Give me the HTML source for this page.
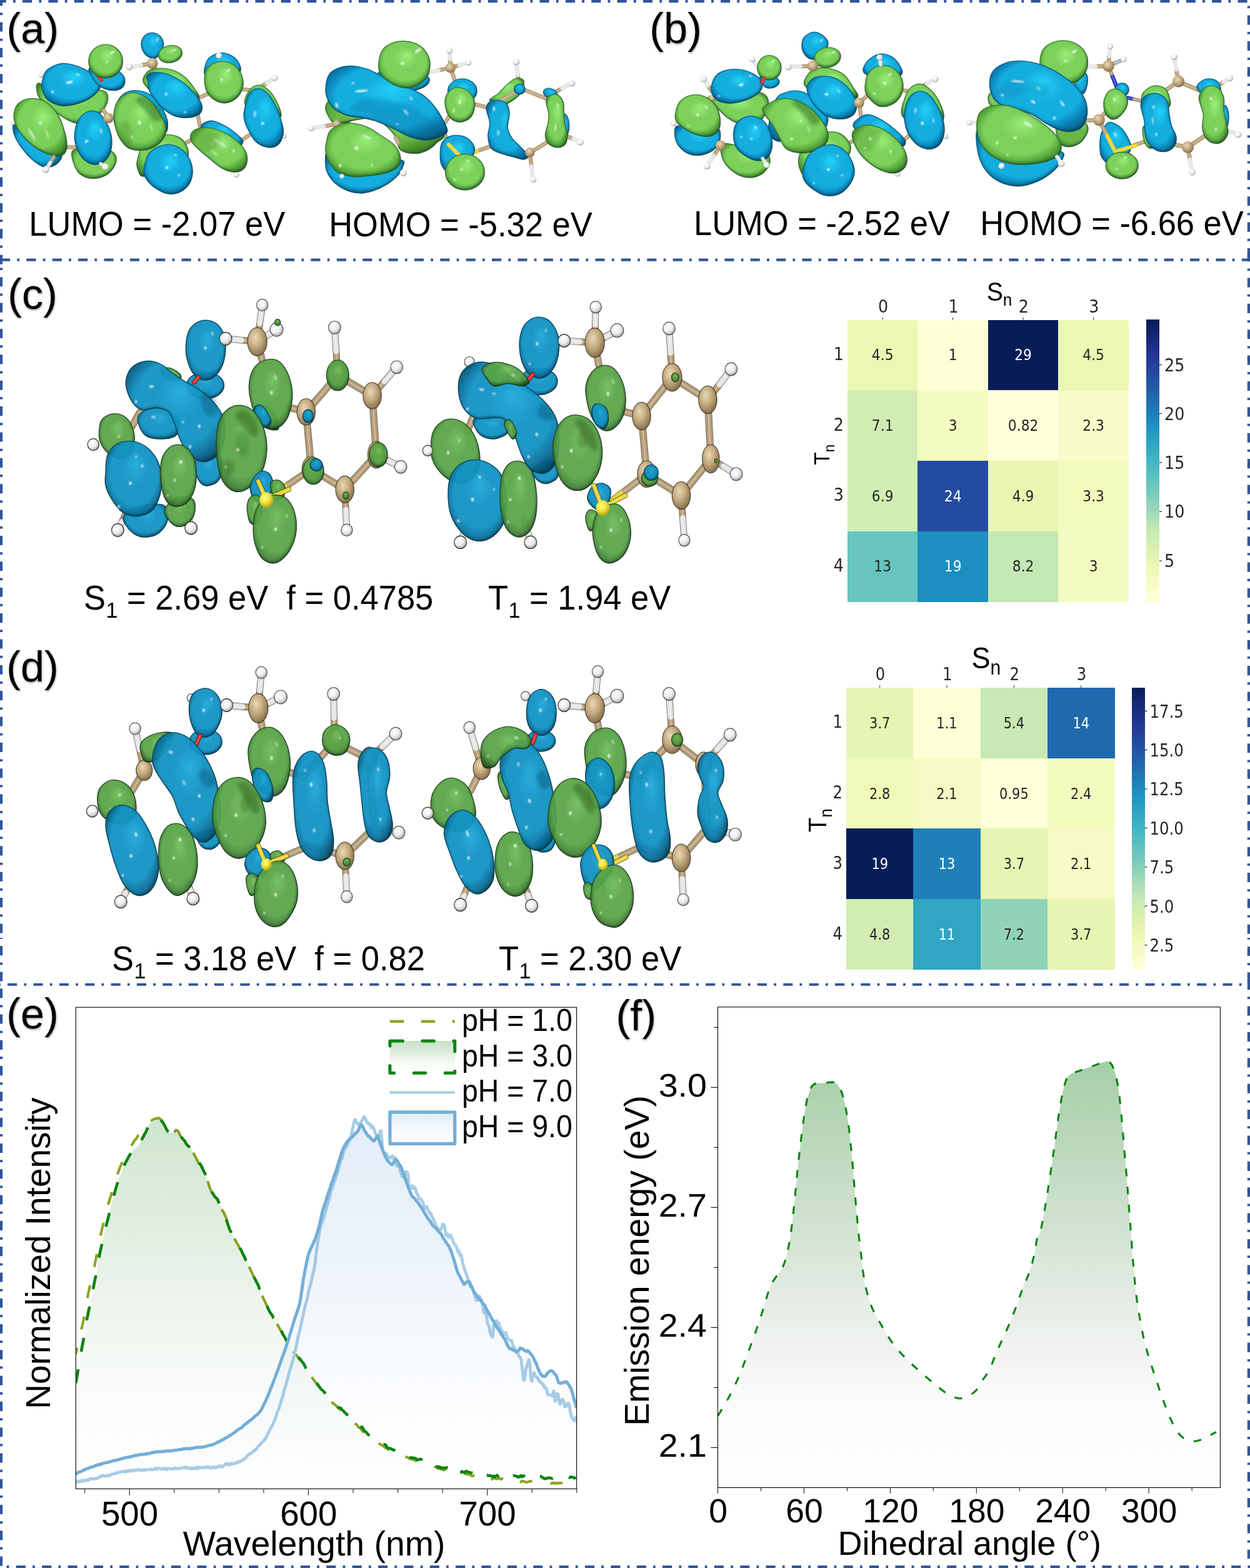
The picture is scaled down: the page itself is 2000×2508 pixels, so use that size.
<!DOCTYPE html>
<html lang="en"><head><meta charset="utf-8"><title>Figure</title>
<style>
html,body{margin:0;padding:0;background:#fff;}
body{width:2000px;height:2508px;overflow:hidden;font-family:"Liberation Sans",sans-serif;}
svg{display:block;}
text{white-space:pre;}
</style></head><body>
<svg width="2000" height="2508" viewBox="0 0 2000 2508">
<defs>
<radialGradient id="rgB" cx="0.5" cy="0.47" r="0.62" fx="0.55" fy="0.3"><stop offset="0" stop-color="#22d0f8"/><stop offset="0.38" stop-color="#14addf"/><stop offset="0.68" stop-color="#14addf"/><stop offset="0.84" stop-color="#0b84b8"/><stop offset="1" stop-color="#076590"/></radialGradient>
<radialGradient id="rgG" cx="0.5" cy="0.47" r="0.62" fx="0.55" fy="0.3"><stop offset="0" stop-color="#98ee7a"/><stop offset="0.38" stop-color="#7bd159"/><stop offset="0.68" stop-color="#7bd159"/><stop offset="0.84" stop-color="#56a83c"/><stop offset="1" stop-color="#3f822c"/></radialGradient>
<radialGradient id="rgb" cx="0.5" cy="0.47" r="0.62" fx="0.55" fy="0.3"><stop offset="0" stop-color="#1eaee0"/><stop offset="0.38" stop-color="#1297c9"/><stop offset="0.68" stop-color="#1297c9"/><stop offset="0.84" stop-color="#0b74a0"/><stop offset="1" stop-color="#064a66"/></radialGradient>
<radialGradient id="rgg" cx="0.5" cy="0.47" r="0.62" fx="0.55" fy="0.3"><stop offset="0" stop-color="#72c25a"/><stop offset="0.38" stop-color="#5aa847"/><stop offset="0.68" stop-color="#5aa847"/><stop offset="0.84" stop-color="#448435"/><stop offset="1" stop-color="#264e1c"/></radialGradient>
<radialGradient id="aC" cx="0.4" cy="0.35" r="0.7"><stop offset="0" stop-color="#e9d9b8"/><stop offset="0.5" stop-color="#c2a77c"/><stop offset="1" stop-color="#7d6846"/></radialGradient>
<radialGradient id="aH" cx="0.4" cy="0.35" r="0.7"><stop offset="0" stop-color="#ffffff"/><stop offset="0.55" stop-color="#ececec"/><stop offset="1" stop-color="#9a9a9a"/></radialGradient>
<radialGradient id="aS" cx="0.4" cy="0.35" r="0.7"><stop offset="0" stop-color="#ffff8a"/><stop offset="0.5" stop-color="#f0e23a"/><stop offset="1" stop-color="#a79a14"/></radialGradient>
<filter id="rim" x="-15%" y="-15%" width="130%" height="130%" color-interpolation-filters="sRGB"><feComponentTransfer in="SourceAlpha"><feFuncA type="table" tableValues="1 0"/></feComponentTransfer><feGaussianBlur stdDeviation="2.6"/><feOffset dx="-1.2" dy="-2.2" result="ob"/><feFlood flood-color="#001018" flood-opacity="0.55"/><feComposite in2="ob" operator="in"/><feComposite in2="SourceAlpha" operator="in" result="sh"/><feMerge><feMergeNode in="SourceGraphic"/><feMergeNode in="sh"/></feMerge></filter>
<filter id="hlb" x="-50%" y="-50%" width="200%" height="200%"><feGaussianBlur stdDeviation="1.1"/></filter>
<filter id="shb" x="-50%" y="-50%" width="200%" height="200%"><feGaussianBlur stdDeviation="2.5"/></filter>
<linearGradient id="cb1" gradientUnits="userSpaceOnUse" x1="0" y1="511.6" x2="0" y2="962.3"><stop offset="0.000" stop-color="rgb(8, 29, 88)"/><stop offset="0.125" stop-color="rgb(37, 52, 148)"/><stop offset="0.250" stop-color="rgb(34, 94, 168)"/><stop offset="0.375" stop-color="rgb(29, 145, 192)"/><stop offset="0.500" stop-color="rgb(65, 182, 196)"/><stop offset="0.625" stop-color="rgb(127, 205, 187)"/><stop offset="0.750" stop-color="rgb(199, 233, 180)"/><stop offset="0.875" stop-color="rgb(237, 248, 177)"/><stop offset="1.000" stop-color="rgb(255, 255, 217)"/></linearGradient>
<linearGradient id="cb2" gradientUnits="userSpaceOnUse" x1="0" y1="1099.9" x2="0" y2="1551.0"><stop offset="0.000" stop-color="rgb(8, 29, 88)"/><stop offset="0.125" stop-color="rgb(37, 52, 148)"/><stop offset="0.250" stop-color="rgb(34, 94, 168)"/><stop offset="0.375" stop-color="rgb(29, 145, 192)"/><stop offset="0.500" stop-color="rgb(65, 182, 196)"/><stop offset="0.625" stop-color="rgb(127, 205, 187)"/><stop offset="0.750" stop-color="rgb(199, 233, 180)"/><stop offset="0.875" stop-color="rgb(237, 248, 177)"/><stop offset="1.000" stop-color="rgb(255, 255, 217)"/></linearGradient>
<linearGradient id="gfe" gradientUnits="userSpaceOnUse" x1="0" y1="1789" x2="0" y2="2381.4"><stop offset="0" stop-color="#0a7d0a" stop-opacity="0.20"/><stop offset="0.36" stop-color="#1b7a1b" stop-opacity="0.115"/><stop offset="0.7" stop-color="#2a7a2a" stop-opacity="0.035"/><stop offset="1" stop-color="#2a7a2a" stop-opacity="0.0"/></linearGradient>
<linearGradient id="gbe" gradientUnits="userSpaceOnUse" x1="0" y1="1789" x2="0" y2="2381.4"><stop offset="0" stop-color="#5f9fd6" stop-opacity="0.19"/><stop offset="0.4" stop-color="#6fa4dc" stop-opacity="0.12"/><stop offset="0.75" stop-color="#7fa8de" stop-opacity="0.04"/><stop offset="1" stop-color="#7fa8de" stop-opacity="0.0"/></linearGradient>
<clipPath id="clipe"><rect x="121.3" y="1611.2" width="801.3000000000001" height="770.2"/></clipPath>
<linearGradient id="lg3" x1="0" y1="0" x2="0" y2="1"><stop offset="0" stop-color="#0a7d0a" stop-opacity="0.24"/><stop offset="0.75" stop-color="#0a7d0a" stop-opacity="0.02"/><stop offset="1" stop-color="#0a7d0a" stop-opacity="0"/></linearGradient>
<linearGradient id="lg9" x1="0" y1="0" x2="0" y2="1"><stop offset="0" stop-color="#5f9fd6" stop-opacity="0.2"/><stop offset="0.75" stop-color="#5f9fd6" stop-opacity="0.02"/><stop offset="1" stop-color="#5f9fd6" stop-opacity="0"/></linearGradient>
<linearGradient id="gff" gradientUnits="userSpaceOnUse" x1="0" y1="1697" x2="0" y2="2379.4"><stop offset="0" stop-color="#0a7d0a" stop-opacity="0.37"/><stop offset="0.44" stop-color="#1d6f1d" stop-opacity="0.18"/><stop offset="0.79" stop-color="#555" stop-opacity="0.028"/><stop offset="1" stop-color="#777" stop-opacity="0.01"/></linearGradient>
<filter id="tsh" x="-20%" y="-20%" width="140%" height="150%"><feDropShadow dx="0.6" dy="1.6" stdDeviation="1.5" flood-color="#000" flood-opacity="0.4"/></filter>
</defs>
<rect width="2000" height="2508" fill="#fff"/>
<path d="M86.6 250.6L79.7 260.8" stroke="#b39a72" stroke-width="6.6" stroke-linecap="round"/>
<path d="M79.7 260.8L72.9 271.1" stroke="#e4e4e4" stroke-width="6.6" stroke-linecap="round"/>
<path d="M86.6 250.6L72.9 271.1" stroke="#fff" stroke-opacity="0.3" stroke-width="2.0" stroke-linecap="round"/>
<ellipse cx="72.9" cy="271.1" rx="5.5" ry="5.5" fill="url(#aH)"/>
<ellipse cx="20.9" cy="196.4" rx="4.1" ry="4.1" fill="url(#aH)"/>
<ellipse cx="66.1" cy="119.8" rx="4.4" ry="4.4" fill="url(#aH)"/>
<path d="M243.8 101.5L225.3 104.3" stroke="#b39a72" stroke-width="6.6" stroke-linecap="round"/>
<path d="M225.3 104.3L206.9 107.0" stroke="#e4e4e4" stroke-width="6.6" stroke-linecap="round"/>
<path d="M243.8 101.5L206.9 107.0" stroke="#fff" stroke-opacity="0.3" stroke-width="2.0" stroke-linecap="round"/>
<ellipse cx="206.9" cy="107.0" rx="5.5" ry="5.5" fill="url(#aH)"/>
<path d="M414.7 141.2L427.0 132.7" stroke="#b39a72" stroke-width="6.6" stroke-linecap="round"/>
<path d="M427.0 132.7L439.3 124.2" stroke="#e4e4e4" stroke-width="6.6" stroke-linecap="round"/>
<path d="M414.7 141.2L439.3 124.2" stroke="#fff" stroke-opacity="0.3" stroke-width="2.0" stroke-linecap="round"/>
<ellipse cx="439.3" cy="124.2" rx="5.5" ry="5.5" fill="url(#aH)"/>
<ellipse cx="454.4" cy="217.7" rx="4.1" ry="4.1" fill="url(#aH)"/>
<ellipse cx="377.8" cy="279.3" rx="4.9" ry="4.9" fill="url(#aH)"/>
<path d="M108.4 235.5L122.1 235.5" stroke="#b99f77" stroke-width="6.6" stroke-linecap="round"/>
<path d="M108.4 235.5L122.1 235.5" stroke="#fff" stroke-opacity="0.3" stroke-width="2.0" stroke-linecap="round"/>
<path d="M81.1 164.4L92.0 171.3" stroke="#b99f77" stroke-width="6.6" stroke-linecap="round"/>
<path d="M81.1 164.4L92.0 171.3" stroke="#fff" stroke-opacity="0.3" stroke-width="2.0" stroke-linecap="round"/>
<path d="M316.3 157.6L336.8 148.0" stroke="#b99f77" stroke-width="6.6" stroke-linecap="round"/>
<path d="M316.3 157.6L336.8 148.0" stroke="#fff" stroke-opacity="0.3" stroke-width="2.0" stroke-linecap="round"/>
<path d="M316.3 182.2L320.4 204.1" stroke="#b99f77" stroke-width="6.6" stroke-linecap="round"/>
<path d="M316.3 182.2L320.4 204.1" stroke="#fff" stroke-opacity="0.3" stroke-width="2.0" stroke-linecap="round"/>
<path d="M386.0 142.5L403.8 144.5" stroke="#b99f77" stroke-width="6.6" stroke-linecap="round"/>
<path d="M386.0 142.5L403.8 144.5" stroke="#fff" stroke-opacity="0.3" stroke-width="2.0" stroke-linecap="round"/>
<path d="M384.6 225.9L398.3 216.4" stroke="#b99f77" stroke-width="6.6" stroke-linecap="round"/>
<path d="M384.6 225.9L398.3 216.4" stroke="#fff" stroke-opacity="0.3" stroke-width="2.0" stroke-linecap="round"/>
<path d="M291.7 231.4L299.2 227.6" stroke="#e6d22e" stroke-width="6.6" stroke-linecap="round"/>
<path d="M299.2 227.6L306.7 223.8" stroke="#b39a72" stroke-width="6.6" stroke-linecap="round"/>
<path d="M291.7 231.4L306.7 223.8" stroke="#fff" stroke-opacity="0.3" stroke-width="2.0" stroke-linecap="round"/>
<path d="M247.4 228.7L254.7 237.4" stroke="#e6d22e" stroke-width="6.6" stroke-linecap="round"/>
<path d="M247.4 228.7L254.7 237.4" stroke="#fff" stroke-opacity="0.3" stroke-width="2.0" stroke-linecap="round"/>
<path d="M247.9 108.4L250.6 117.9" stroke="#b99f77" stroke-width="6.6" stroke-linecap="round"/>
<path d="M247.9 108.4L250.6 117.9" stroke="#fff" stroke-opacity="0.3" stroke-width="2.0" stroke-linecap="round"/>
<path d="M20.9 201.3C20.5 204.1 21.2 211.6 23.7 217.7C26.2 223.9 31.4 232.1 36.0 238.2C40.5 244.4 45.3 249.9 51.0 254.7C56.7 259.4 64.0 265.4 70.2 267.0C76.3 268.6 83.1 267.0 87.9 264.2C92.7 261.5 98.2 254.7 98.9 250.6C99.6 246.5 97.7 242.8 92.0 239.6C86.3 236.4 73.3 235.5 64.7 231.4C56.0 227.3 46.5 220.0 40.1 215.0C33.7 210.0 29.6 203.6 26.4 201.3C23.2 199.1 21.4 198.6 20.9 201.3Z" fill="url(#rgB)" stroke="#076590" stroke-width="1.3" stroke-opacity="0.9" fill-opacity="1.0" filter="url(#rim)"/>
<path d="M62.0 133.0C56.5 133.4 58.5 142.1 59.2 146.6C59.9 151.2 61.0 154.8 66.1 160.3C71.1 165.8 81.3 173.8 89.3 179.5C97.3 185.2 106.6 191.5 113.9 194.5C121.2 197.5 125.8 199.1 133.1 197.2C140.3 195.4 151.3 189.0 157.7 183.6C164.0 178.1 169.3 170.3 171.3 164.4C173.4 158.5 173.2 151.4 170.0 148.0C166.8 144.6 165.2 144.6 152.2 143.9C139.2 143.2 107.1 145.7 92.0 143.9C77.0 142.1 67.4 132.5 62.0 133.0Z" fill="url(#rgG)" stroke="#3f822c" stroke-width="1.3" stroke-opacity="0.9" fill-opacity="1.0" filter="url(#rim)"/>
<path d="M115.3 242.4C113.2 246.5 116.0 255.6 118.0 261.5C120.1 267.4 122.8 273.9 127.6 277.9C132.4 281.9 139.9 284.8 146.7 285.3C153.6 285.7 162.7 283.7 168.6 280.6C174.5 277.6 179.4 272.0 182.3 267.0C185.1 261.9 186.9 255.1 185.6 250.6C184.2 246.0 179.6 241.9 174.1 239.6C168.5 237.3 159.5 237.3 152.2 236.9C144.9 236.4 136.5 236.0 130.3 236.9C124.2 237.8 117.3 238.2 115.3 242.4Z" fill="url(#rgG)" stroke="#3f822c" stroke-width="1.3" stroke-opacity="0.9" fill-opacity="1.0" filter="url(#rim)"/>
<path d="M182.3 193.1C180.9 184.5 184.6 170.6 187.7 163.1C190.9 155.5 195.5 151.0 201.4 148.0C207.3 145.0 216.0 144.1 223.3 145.3C230.6 146.4 238.8 149.6 245.2 154.8C251.5 160.1 257.7 169.4 261.6 176.7C265.4 184.0 268.4 192.2 268.4 198.6C268.4 205.0 268.2 212.3 261.6 215.0C255.0 217.7 239.7 215.0 228.8 215.0C217.8 215.0 203.7 218.7 195.9 215.0C188.2 211.4 183.6 201.8 182.3 193.1Z" fill="url(#rgB)" stroke="#076590" stroke-width="1.3" stroke-opacity="0.9" fill-opacity="1.0" filter="url(#rim)"/>
<path d="M230.1 133.0C226.5 126.6 231.3 120.4 234.2 116.6C237.2 112.7 241.5 110.6 247.9 109.7C254.3 108.8 264.8 109.0 272.5 111.1C280.3 113.1 288.0 117.0 294.4 122.0C300.8 127.0 306.8 135.3 310.8 141.2C314.8 147.1 320.7 153.9 318.4 157.6C316.2 161.2 307.5 163.5 297.1 163.1C286.7 162.6 267.3 159.9 256.1 154.8C244.9 149.8 233.8 139.4 230.1 133.0Z" fill="url(#rgG)" stroke="#3f822c" stroke-width="1.3" stroke-opacity="0.9" fill-opacity="1.0" filter="url(#rim)"/>
<path d="M219.2 258.8C220.5 251.9 223.5 238.0 228.8 231.4C234.0 224.8 243.3 221.8 250.6 219.1C257.9 216.5 265.7 214.9 272.5 215.6C279.3 216.2 286.9 218.7 291.7 223.2C296.4 227.7 300.8 236.4 301.2 242.4C301.7 248.3 301.9 253.3 294.4 258.8C286.9 264.2 267.0 271.3 256.1 275.2C245.2 279.0 234.6 282.5 228.8 282.0C222.9 281.5 222.7 276.3 221.1 272.4C219.5 268.6 217.9 265.6 219.2 258.8Z" fill="url(#rgG)" stroke="#3f822c" stroke-width="1.3" stroke-opacity="0.9" fill-opacity="1.0" filter="url(#rim)"/>
<path d="M321.7 201.3C323.6 197.2 331.8 193.1 338.1 193.1C344.5 193.1 353.2 197.7 360.0 201.3C366.8 205.0 374.4 210.9 379.2 215.0C383.9 219.1 388.7 222.3 388.7 225.9C388.7 229.6 385.3 236.0 379.2 236.9C373.0 237.8 360.5 234.6 351.8 231.4C343.2 228.2 332.2 222.8 327.2 217.7C322.2 212.7 319.9 205.4 321.7 201.3Z" fill="url(#rgB)" stroke="#076590" stroke-width="1.3" stroke-opacity="0.9" fill-opacity="1.0" filter="url(#rim)"/>
<path d="M326.7 113.8C326.9 109.0 329.4 98.2 334.0 93.3C338.7 88.4 347.7 84.8 354.5 84.6C361.4 84.3 369.9 87.8 375.1 92.0C380.2 96.1 384.9 104.7 385.2 109.7C385.4 114.7 382.0 119.5 376.4 122.0C370.9 124.5 359.1 124.8 351.8 124.8C344.5 124.8 336.9 123.9 332.7 122.0C328.5 120.2 326.4 118.6 326.7 113.8Z" fill="url(#rgB)" stroke="#076590" stroke-width="1.3" stroke-opacity="0.9" fill-opacity="1.0" filter="url(#rim)"/>
<path d="M391.5 165.8C390.1 158.7 394.9 150.2 398.3 145.3C401.7 140.4 407.2 136.8 412.0 136.3C416.8 135.7 422.2 137.9 427.0 141.7C431.8 145.5 436.9 151.7 440.7 158.9C444.5 166.2 450.4 179.2 449.7 184.9C449.0 190.6 443.8 192.7 436.6 193.1C429.4 193.6 414.0 192.2 406.5 187.7C399.0 183.1 392.8 172.9 391.5 165.8Z" fill="url(#rgG)" stroke="#3f822c" stroke-width="1.3" stroke-opacity="0.9" fill-opacity="1.0" filter="url(#rim)"/>
<path d="M67.4 130.2C68.6 124.3 70.2 116.4 75.6 111.6C81.1 106.9 91.1 102.1 100.2 101.5C109.4 101.0 121.7 104.9 130.3 108.4C139.0 111.8 147.0 117.7 152.2 122.0C157.4 126.4 161.7 129.7 161.8 134.3C161.9 139.0 158.0 145.0 152.7 149.9C147.5 154.8 139.1 160.4 130.3 163.6C121.6 166.8 108.9 169.5 100.2 169.1C91.6 168.6 83.6 164.5 78.4 160.9C73.1 157.2 70.6 152.3 68.8 147.2C67.0 142.1 66.3 136.2 67.4 130.2Z" fill="url(#rgB)" stroke="#076590" stroke-width="1.3" stroke-opacity="0.9" fill-opacity="1.0" filter="url(#rim)"/>
<ellipse cx="111.2" cy="131.6" rx="6.0" ry="1.9" transform="rotate(-15 111.2 131.6)" fill="#fff" fill-opacity="0.9" filter="url(#hlb)"/>
<ellipse cx="124.8" cy="119.3" rx="3.8" ry="1.4" transform="rotate(20 124.8 119.3)" fill="#fff" fill-opacity="0.7" filter="url(#hlb)"/>
<ellipse cx="83.8" cy="147.2" rx="2.7" ry="1.6" transform="rotate(30 83.8 147.2)" fill="#fff" fill-opacity="0.8" filter="url(#hlb)"/>
<path d="M144.0 108.4C148.5 105.6 165.4 103.8 174.1 105.6C182.7 107.5 191.7 114.7 195.9 119.3C200.2 123.9 200.3 129.1 199.5 133.0C198.7 136.9 195.3 141.0 191.0 142.8C186.8 144.6 179.6 145.0 174.1 143.9C168.5 142.8 162.2 139.9 157.7 136.3C153.1 132.6 149.0 126.7 146.7 122.0C144.4 117.4 139.4 111.1 144.0 108.4Z" fill="url(#rgB)" stroke="#076590" stroke-width="1.3" stroke-opacity="0.9" fill-opacity="1.0" filter="url(#rim)"/>
<path d="M157.7 122.0L162.0 128.1" stroke="#d22" stroke-width="6.0" stroke-linecap="round"/>
<path d="M157.7 122.0L162.0 128.1" stroke="#fff" stroke-opacity="0.3" stroke-width="1.8" stroke-linecap="round"/>
<ellipse cx="169.1" cy="98.0" rx="27.3" ry="26.8" transform="rotate(0 169.1 98.0)" fill="url(#rgG)" stroke="#3f822c" stroke-width="1.3" stroke-opacity="0.9" fill-opacity="1.0" filter="url(#rim)"/>
<ellipse cx="179.5" cy="83.8" rx="4.4" ry="1.9" transform="rotate(-30 179.5 83.8)" fill="#fff" fill-opacity="0.8" filter="url(#hlb)"/>
<ellipse cx="171.3" cy="98.8" rx="2.2" ry="1.4" transform="rotate(0 171.3 98.8)" fill="#fff" fill-opacity="0.7" filter="url(#hlb)"/>
<path d="M22.3 182.2C23.0 176.6 24.8 169.9 29.1 165.8C33.5 161.7 41.0 158.0 48.3 157.6C55.6 157.1 65.6 158.9 72.9 163.1C80.2 167.2 87.0 174.4 92.0 182.2C97.0 189.9 100.5 200.9 103.0 209.5C105.5 218.2 107.5 227.8 107.1 234.1C106.6 240.5 104.1 245.5 100.2 247.8C96.4 250.2 90.7 250.1 83.8 248.4C77.0 246.6 67.0 242.4 59.2 237.4C51.5 232.4 43.0 224.7 37.3 218.3C31.6 211.9 27.5 205.2 25.0 199.1C22.5 193.1 21.6 187.8 22.3 182.2Z" fill="url(#rgG)" stroke="#3f822c" stroke-width="1.3" stroke-opacity="0.9" fill-opacity="1.0" filter="url(#rim)"/>
<ellipse cx="51.0" cy="215.0" rx="2.2" ry="10.9" transform="rotate(-30 51.0 215.0)" fill="#fff" fill-opacity="0.55" filter="url(#hlb)"/>
<ellipse cx="75.6" cy="215.0" rx="1.6" ry="8.2" transform="rotate(-20 75.6 215.0)" fill="#fff" fill-opacity="0.5" filter="url(#hlb)"/>
<ellipse cx="64.7" cy="196.4" rx="2.7" ry="2.2" transform="rotate(0 64.7 196.4)" fill="#fff" fill-opacity="0.7" filter="url(#hlb)"/>
<path d="M119.4 215.0C119.8 208.1 121.7 199.1 124.8 193.1C128.0 187.2 133.5 181.8 138.5 179.5C143.5 177.1 149.9 176.6 154.9 178.9C159.9 181.2 164.7 186.7 168.6 193.1C172.5 199.6 176.8 209.4 178.2 217.7C179.5 226.0 178.9 236.1 176.8 242.9C174.8 249.7 170.4 255.4 165.9 258.8C161.3 262.1 154.9 263.7 149.5 262.9C144.0 262.0 137.6 258.5 133.1 253.8C128.5 249.1 124.4 241.2 122.1 234.7C119.8 228.2 118.9 221.9 119.4 215.0Z" fill="url(#rgB)" stroke="#076590" stroke-width="1.3" stroke-opacity="0.9" fill-opacity="1.0" filter="url(#rim)"/>
<ellipse cx="138.5" cy="225.9" rx="3.3" ry="1.9" transform="rotate(-30 138.5 225.9)" fill="#fff" fill-opacity="0.8" filter="url(#hlb)"/>
<ellipse cx="161.8" cy="209.5" rx="1.6" ry="4.4" transform="rotate(-10 161.8 209.5)" fill="#fff" fill-opacity="0.6" filter="url(#hlb)"/>
<path d="M165.9 176.7L173.5 189.0" stroke="#b99f77" stroke-width="6.6" stroke-linecap="round"/>
<path d="M165.9 176.7L173.5 189.0" stroke="#fff" stroke-opacity="0.3" stroke-width="2.0" stroke-linecap="round"/>
<ellipse cx="173.5" cy="189.0" rx="8.2" ry="8.2" fill="url(#aC)"/>
<path d="M182.3 182.2C182.7 175.3 184.3 168.4 187.7 163.1C191.2 157.7 197.1 152.1 202.8 149.9C208.5 147.7 215.3 147.7 221.9 149.9C228.5 152.1 236.7 157.7 242.4 163.1C248.1 168.4 252.2 175.4 256.1 182.2C260.0 189.0 264.8 197.6 265.7 204.1C266.6 210.5 264.5 216.0 261.6 221.0C258.6 226.0 253.4 231.0 247.9 234.1C242.4 237.3 235.6 239.6 228.8 240.2C221.9 240.7 212.8 240.2 206.9 237.4C201.0 234.7 196.9 229.2 193.2 223.8C189.6 218.3 186.8 211.5 185.0 204.6C183.2 197.7 181.8 189.1 182.3 182.2Z" fill="url(#rgG)" stroke="#3f822c" stroke-width="1.3" stroke-opacity="0.9" fill-opacity="1.0" filter="url(#rim)"/>
<ellipse cx="223.3" cy="196.4" rx="2.5" ry="3.3" transform="rotate(0 223.3 196.4)" fill="#fff" fill-opacity="0.75" filter="url(#hlb)"/>
<ellipse cx="211.0" cy="219.1" rx="1.9" ry="2.7" transform="rotate(0 211.0 219.1)" fill="#fff" fill-opacity="0.7" filter="url(#hlb)"/>
<ellipse cx="242.4" cy="204.1" rx="1.4" ry="6.8" transform="rotate(-15 242.4 204.1)" fill="#fff" fill-opacity="0.5" filter="url(#hlb)"/>
<path d="M217.8 160.3C217.4 156.7 223.3 153.5 228.8 154.8C234.2 156.2 245.2 163.1 250.6 168.5C256.1 174.0 262.0 183.6 261.6 187.7C261.1 191.8 252.9 195.0 247.9 193.1C242.9 191.3 236.5 182.2 231.5 176.7C226.5 171.3 218.3 164.0 217.8 160.3Z" fill="#1f4d12" fill-opacity="0.38" filter="url(#shb)"/>
<path d="M190.5 204.1C191.4 198.6 197.8 191.3 201.4 193.1C205.1 195.0 211.4 208.6 212.4 215.0C213.3 221.4 209.6 229.6 206.9 231.4C204.1 233.2 198.7 230.5 195.9 225.9C193.2 221.4 189.6 209.5 190.5 204.1Z" fill="#1f4d12" fill-opacity="0.18" filter="url(#shb)"/>
<path d="M237.0 130.2C236.5 127.0 233.3 124.4 234.8 122.0C236.2 119.6 239.9 116.2 245.7 115.7C251.5 115.3 261.7 116.4 269.8 119.3C277.9 122.2 287.1 127.5 294.4 133.0C301.7 138.4 308.7 146.2 313.5 152.1C318.3 158.0 322.2 163.5 323.1 168.5C324.0 173.5 322.9 178.9 319.0 182.2C315.1 185.5 306.7 187.8 299.9 188.2C293.0 188.7 284.8 187.7 278.0 184.9C271.1 182.2 264.3 176.7 258.8 171.8C253.4 166.9 248.7 160.4 245.2 155.4C241.6 150.4 238.9 145.9 237.5 141.7C236.1 137.5 237.4 133.5 237.0 130.2Z" fill="url(#rgB)" stroke="#076590" stroke-width="1.3" stroke-opacity="0.9" fill-opacity="1.0" filter="url(#rim)"/>
<ellipse cx="265.7" cy="150.7" rx="2.7" ry="1.9" transform="rotate(-30 265.7 150.7)" fill="#fff" fill-opacity="0.8" filter="url(#hlb)"/>
<ellipse cx="295.8" cy="179.5" rx="2.2" ry="1.4" transform="rotate(0 295.8 179.5)" fill="#fff" fill-opacity="0.7" filter="url(#hlb)"/>
<path d="M226.0 70.1C226.3 65.6 228.5 59.9 231.5 57.0C234.5 54.0 239.7 52.2 243.8 52.3C247.9 52.4 253.1 54.8 256.1 57.8C259.1 60.7 261.3 65.7 261.6 70.1C261.8 74.4 259.7 79.9 257.5 83.8C255.2 87.6 250.9 92.0 247.9 93.3C244.9 94.7 242.7 93.6 239.7 92.0C236.7 90.4 232.4 87.4 230.1 83.8C227.8 80.1 225.8 74.5 226.0 70.1Z" fill="url(#rgB)" stroke="#076590" stroke-width="1.3" stroke-opacity="0.9" fill-opacity="1.0" filter="url(#rim)"/>
<ellipse cx="252.0" cy="63.2" rx="1.6" ry="3.3" transform="rotate(20 252.0 63.2)" fill="#fff" fill-opacity="0.7" filter="url(#hlb)"/>
<ellipse cx="272.5" cy="86.5" rx="19.1" ry="13.7" transform="rotate(-12 272.5 86.5)" fill="url(#rgG)" stroke="#3f822c" stroke-width="1.3" stroke-opacity="0.9" fill-opacity="1.0" filter="url(#rim)"/>
<ellipse cx="279.3" cy="79.6" rx="3.3" ry="1.4" transform="rotate(-20 279.3 79.6)" fill="#fff" fill-opacity="0.8" filter="url(#hlb)"/>
<ellipse cx="243.8" cy="101.5" rx="8.8" ry="8.8" fill="url(#aC)"/>
<path d="M327.2 130.2C327.0 124.3 327.2 116.6 329.9 111.6C332.7 106.7 338.1 102.8 343.6 100.7C349.1 98.6 356.8 97.5 362.7 98.8C368.7 100.1 374.8 103.6 379.2 108.4C383.5 113.1 387.6 121.1 388.7 127.5C389.9 133.9 388.5 141.2 386.0 146.6C383.5 152.1 378.5 157.3 373.7 160.3C368.9 163.3 362.7 165.1 357.3 164.7C351.8 164.3 345.2 161.0 340.9 158.1C336.5 155.2 333.6 151.8 331.3 147.2C329.0 142.5 327.4 136.2 327.2 130.2Z" fill="url(#rgG)" stroke="#3f822c" stroke-width="1.3" stroke-opacity="0.9" fill-opacity="1.0" filter="url(#rim)"/>
<ellipse cx="365.5" cy="112.5" rx="3.8" ry="1.6" transform="rotate(-30 365.5 112.5)" fill="#fff" fill-opacity="0.8" filter="url(#hlb)"/>
<ellipse cx="354.5" cy="127.5" rx="2.5" ry="1.9" transform="rotate(0 354.5 127.5)" fill="#fff" fill-opacity="0.75" filter="url(#hlb)"/>
<ellipse cx="350.4" cy="89.2" rx="4.9" ry="4.9" fill="url(#aH)"/>
<path d="M392.8 168.5C394.2 162.6 395.1 154.4 398.3 149.9C401.5 145.5 407.0 141.8 412.0 141.7C417.0 141.6 423.4 144.5 428.4 149.4C433.4 154.3 438.2 163.1 442.0 171.3C445.9 179.5 449.8 191.3 451.6 198.6C453.4 205.9 454.1 209.5 453.0 215.0C451.8 220.5 448.9 228.0 444.8 231.4C440.7 234.8 434.3 236.3 428.4 235.5C422.5 234.7 414.7 231.6 409.2 226.5C403.8 221.3 398.8 211.5 395.6 204.6C392.4 197.8 390.5 191.5 390.1 185.5C389.6 179.5 391.5 174.4 392.8 168.5Z" fill="url(#rgB)" stroke="#076590" stroke-width="1.3" stroke-opacity="0.9" fill-opacity="1.0" filter="url(#rim)"/>
<ellipse cx="420.2" cy="197.2" rx="2.7" ry="2.2" transform="rotate(0 420.2 197.2)" fill="#fff" fill-opacity="0.8" filter="url(#hlb)"/>
<ellipse cx="407.9" cy="182.2" rx="1.9" ry="5.5" transform="rotate(10 407.9 182.2)" fill="#fff" fill-opacity="0.6" filter="url(#hlb)"/>
<path d="M305.3 215.0C306.5 211.7 309.4 208.6 313.5 206.8C317.6 205.0 323.1 203.5 329.9 204.1C336.8 204.6 346.8 206.9 354.5 210.1C362.3 213.3 370.3 218.3 376.4 223.2C382.6 228.1 388.3 234.1 391.5 239.6C394.7 245.1 395.8 251.0 395.6 256.0C395.3 261.0 393.3 266.5 390.1 269.7C386.9 272.9 381.9 275.1 376.4 275.2C371.0 275.3 364.1 273.8 357.3 270.2C350.4 266.7 342.2 259.3 335.4 253.8C328.6 248.4 321.0 242.0 316.3 237.4C311.5 232.9 308.5 230.2 306.7 226.5C304.9 222.8 304.2 218.3 305.3 215.0Z" fill="url(#rgG)" stroke="#3f822c" stroke-width="1.3" stroke-opacity="0.9" fill-opacity="1.0" filter="url(#rim)"/>
<ellipse cx="351.8" cy="228.7" rx="2.2" ry="12.3" transform="rotate(-55 351.8 228.7)" fill="#fff" fill-opacity="0.6" filter="url(#hlb)"/>
<ellipse cx="373.7" cy="241.0" rx="1.9" ry="2.7" transform="rotate(0 373.7 241.0)" fill="#fff" fill-opacity="0.7" filter="url(#hlb)"/>
<ellipse cx="342.2" cy="243.7" rx="1.6" ry="8.2" transform="rotate(-50 342.2 243.7)" fill="#fff" fill-opacity="0.5" filter="url(#hlb)"/>
<path d="M308.1 215.0C309.9 210.9 317.6 206.8 324.5 206.8C331.3 206.8 344.5 210.9 349.1 215.0C353.6 219.1 354.5 226.9 351.8 231.4C349.1 236.0 339.0 242.4 332.7 242.4C326.3 242.4 317.6 236.0 313.5 231.4C309.4 226.9 306.2 219.1 308.1 215.0Z" fill="#1f4d12" fill-opacity="0.18" filter="url(#shb)"/>
<path d="M230.1 272.4C230.6 266.0 233.1 254.1 237.0 247.8C240.8 241.5 247.4 237.4 253.4 234.7C259.3 232.0 266.1 230.6 272.5 231.4C278.9 232.2 286.4 235.5 291.7 239.6C296.9 243.7 301.2 250.1 304.0 256.0C306.7 261.9 308.3 268.8 308.1 275.2C307.8 281.5 306.2 288.8 302.6 294.3C298.9 299.8 292.1 305.4 286.2 308.0C280.3 310.5 273.4 310.9 267.0 309.6C260.7 308.3 253.4 304.2 247.9 300.3C242.4 296.5 237.2 291.3 234.2 286.7C231.3 282.0 229.7 278.9 230.1 272.4Z" fill="url(#rgB)" stroke="#076590" stroke-width="1.3" stroke-opacity="0.9" fill-opacity="1.0" filter="url(#rim)"/>
<ellipse cx="280.7" cy="247.8" rx="2.2" ry="1.4" transform="rotate(0 280.7 247.8)" fill="#fff" fill-opacity="0.8" filter="url(#hlb)"/>
<ellipse cx="267.0" cy="268.3" rx="2.7" ry="2.2" transform="rotate(0 267.0 268.3)" fill="#fff" fill-opacity="0.8" filter="url(#hlb)"/>
<ellipse cx="286.2" cy="280.6" rx="2.2" ry="1.6" transform="rotate(0 286.2 280.6)" fill="#fff" fill-opacity="0.7" filter="url(#hlb)"/>
<path d="M161.2 262.0L168.6 267.0" stroke="#e4e4e4" stroke-width="5.5" stroke-linecap="round"/>
<path d="M161.2 262.0L168.6 267.0" stroke="#fff" stroke-opacity="0.3" stroke-width="1.6" stroke-linecap="round"/>
<ellipse cx="168.6" cy="267.0" rx="5.5" ry="5.5" fill="url(#aH)"/>
<path d="M86.0 250.6L80.3 260.4" stroke="#b39a72" stroke-width="6.0" stroke-linecap="round"/>
<path d="M80.3 260.4L74.5 270.2" stroke="#e4e4e4" stroke-width="6.0" stroke-linecap="round"/>
<path d="M86.0 250.6L74.5 270.2" stroke="#fff" stroke-opacity="0.3" stroke-width="1.8" stroke-linecap="round"/>
<ellipse cx="73.4" cy="271.1" rx="5.5" ry="5.5" fill="url(#aH)"/>
<path d="M538.8 198.6L518.3 202.0" stroke="#b39a72" stroke-width="6.6" stroke-linecap="round"/>
<path d="M518.3 202.0L497.8 205.4" stroke="#e4e4e4" stroke-width="6.6" stroke-linecap="round"/>
<path d="M538.8 198.6L497.8 205.4" stroke="#fff" stroke-opacity="0.3" stroke-width="2.0" stroke-linecap="round"/>
<ellipse cx="497.8" cy="205.4" rx="4.9" ry="4.9" fill="url(#aH)"/>
<path d="M720.6 108.4L701.5 112.5" stroke="#b39a72" stroke-width="6.6" stroke-linecap="round"/>
<path d="M701.5 112.5L682.4 116.6" stroke="#e4e4e4" stroke-width="6.6" stroke-linecap="round"/>
<path d="M720.6 108.4L682.4 116.6" stroke="#fff" stroke-opacity="0.3" stroke-width="2.0" stroke-linecap="round"/>
<ellipse cx="682.4" cy="116.6" rx="5.5" ry="5.5" fill="url(#aH)"/>
<path d="M720.6 108.4L720.0 94.7" stroke="#b39a72" stroke-width="6.6" stroke-linecap="round"/>
<path d="M720.0 94.7L719.3 81.0" stroke="#e4e4e4" stroke-width="6.6" stroke-linecap="round"/>
<path d="M720.6 108.4L719.3 81.0" stroke="#fff" stroke-opacity="0.3" stroke-width="2.0" stroke-linecap="round"/>
<ellipse cx="719.3" cy="81.0" rx="4.9" ry="4.9" fill="url(#aH)"/>
<path d="M720.6 108.4L735.0 104.3" stroke="#b39a72" stroke-width="6.6" stroke-linecap="round"/>
<path d="M735.0 104.3L749.3 100.2" stroke="#e4e4e4" stroke-width="6.6" stroke-linecap="round"/>
<path d="M720.6 108.4L749.3 100.2" stroke="#fff" stroke-opacity="0.3" stroke-width="2.0" stroke-linecap="round"/>
<ellipse cx="749.3" cy="100.2" rx="4.9" ry="4.9" fill="url(#aH)"/>
<path d="M831.4 141.2L828.6 120.0" stroke="#b39a72" stroke-width="6.6" stroke-linecap="round"/>
<path d="M828.6 120.0L825.9 98.8" stroke="#e4e4e4" stroke-width="6.6" stroke-linecap="round"/>
<path d="M831.4 141.2L825.9 98.8" stroke="#fff" stroke-opacity="0.3" stroke-width="2.0" stroke-linecap="round"/>
<ellipse cx="825.9" cy="98.8" rx="5.5" ry="5.5" fill="url(#aH)"/>
<path d="M884.7 149.4L899.7 141.2" stroke="#b39a72" stroke-width="6.6" stroke-linecap="round"/>
<path d="M899.7 141.2L914.8 133.0" stroke="#e4e4e4" stroke-width="6.6" stroke-linecap="round"/>
<path d="M884.7 149.4L914.8 133.0" stroke="#fff" stroke-opacity="0.3" stroke-width="2.0" stroke-linecap="round"/>
<ellipse cx="914.8" cy="133.0" rx="5.5" ry="5.5" fill="url(#aH)"/>
<path d="M906.6 217.7L917.5 222.5" stroke="#b39a72" stroke-width="6.6" stroke-linecap="round"/>
<path d="M917.5 222.5L928.5 227.3" stroke="#e4e4e4" stroke-width="6.6" stroke-linecap="round"/>
<path d="M906.6 217.7L928.5 227.3" stroke="#fff" stroke-opacity="0.3" stroke-width="2.0" stroke-linecap="round"/>
<ellipse cx="928.5" cy="227.3" rx="5.5" ry="5.5" fill="url(#aH)"/>
<path d="M847.8 245.1L850.5 266.3" stroke="#b39a72" stroke-width="6.6" stroke-linecap="round"/>
<path d="M850.5 266.3L853.3 287.5" stroke="#e4e4e4" stroke-width="6.6" stroke-linecap="round"/>
<path d="M847.8 245.1L853.3 287.5" stroke="#fff" stroke-opacity="0.3" stroke-width="2.0" stroke-linecap="round"/>
<ellipse cx="853.3" cy="287.5" rx="4.9" ry="4.9" fill="url(#aH)"/>
<path d="M720.6 108.4L731.6 138.4" stroke="#b99f77" stroke-width="6.6" stroke-linecap="round"/>
<path d="M720.6 108.4L731.6 138.4" stroke="#fff" stroke-opacity="0.3" stroke-width="2.0" stroke-linecap="round"/>
<path d="M761.7 167.2L779.4 171.8" stroke="#b99f77" stroke-width="6.6" stroke-linecap="round"/>
<path d="M761.7 167.2L779.4 171.8" stroke="#fff" stroke-opacity="0.3" stroke-width="2.0" stroke-linecap="round"/>
<path d="M712.4 195.9L722.0 180.8" stroke="#b99f77" stroke-width="6.6" stroke-linecap="round"/>
<path d="M712.4 195.9L722.0 180.8" stroke="#fff" stroke-opacity="0.3" stroke-width="2.0" stroke-linecap="round"/>
<path d="M711.9 215.0L720.6 231.4" stroke="#b99f77" stroke-width="6.6" stroke-linecap="round"/>
<path d="M711.9 215.0L720.6 231.4" stroke="#fff" stroke-opacity="0.3" stroke-width="2.0" stroke-linecap="round"/>
<path d="M802.7 160.3L832.7 141.2" stroke="#b99f77" stroke-width="6.6" stroke-linecap="round"/>
<path d="M802.7 160.3L832.7 141.2" stroke="#fff" stroke-opacity="0.3" stroke-width="2.0" stroke-linecap="round"/>
<path d="M832.7 141.2L875.1 158.1" stroke="#b99f77" stroke-width="6.6" stroke-linecap="round"/>
<path d="M832.7 141.2L875.1 158.1" stroke="#fff" stroke-opacity="0.3" stroke-width="2.0" stroke-linecap="round"/>
<path d="M847.8 244.5L877.9 225.9" stroke="#b99f77" stroke-width="6.6" stroke-linecap="round"/>
<path d="M847.8 244.5L877.9 225.9" stroke="#fff" stroke-opacity="0.3" stroke-width="2.0" stroke-linecap="round"/>
<path d="M753.4 245.1L768.5 239.9" stroke="#e6d22e" stroke-width="6.6" stroke-linecap="round"/>
<path d="M768.5 239.9L783.5 234.7" stroke="#b39a72" stroke-width="6.6" stroke-linecap="round"/>
<path d="M753.4 245.1L783.5 234.7" stroke="#fff" stroke-opacity="0.3" stroke-width="2.0" stroke-linecap="round"/>
<path d="M522.4 168.5C521.0 172.6 523.5 180.3 526.5 184.9C529.4 189.6 534.2 195.0 540.2 196.4C546.1 197.8 558.4 197.3 562.0 193.1C565.7 188.9 566.6 176.7 562.0 171.3C557.5 165.8 541.3 160.8 534.7 160.3C528.1 159.9 523.8 164.4 522.4 168.5Z" fill="url(#rgG)" stroke="#3f822c" stroke-width="1.3" stroke-opacity="0.9" fill-opacity="1.0" filter="url(#rim)"/>
<path d="M521.0 247.8C520.3 251.0 520.1 265.1 522.4 272.4C524.7 279.7 529.0 286.1 534.7 291.6C540.4 297.0 548.8 302.4 556.6 305.2C564.3 308.1 572.5 309.3 581.2 308.5C589.8 307.7 599.9 304.4 608.5 300.3C617.2 296.2 627.2 289.4 633.1 283.9C639.1 278.4 642.7 272.2 644.1 267.5C645.4 262.9 650.4 257.5 641.3 256.0C632.2 254.6 604.9 258.3 589.4 258.8C573.9 259.2 558.8 259.7 548.4 258.8C537.9 257.8 531.0 255.1 526.5 253.3C521.9 251.5 521.7 244.6 521.0 247.8Z" fill="url(#rgB)" stroke="#076590" stroke-width="1.3" stroke-opacity="0.9" fill-opacity="1.0" filter="url(#rim)"/>
<path d="M522.4 165.8C517.7 173.9 524.6 184.4 527.9 189.6C531.1 194.7 530.2 196.7 541.8 196.7C553.4 196.7 582.5 186.1 597.6 189.6C612.7 193.0 625.6 209.3 632.6 217.5C639.6 225.6 635.0 233.9 639.7 238.5C644.3 243.2 653.5 244.9 660.5 245.4C667.4 245.8 675.2 244.0 681.5 241.3C687.8 238.5 694.0 234.0 698.2 228.7C702.5 223.4 716.7 223.0 707.0 209.5C697.2 196.0 664.9 159.2 639.7 147.7C614.5 136.3 575.3 137.6 555.7 140.6C536.2 143.6 527.0 157.6 522.4 165.8Z" fill="url(#rgG)" stroke="#3f822c" stroke-width="1.3" stroke-opacity="0.9" fill-opacity="1.0" filter="url(#rim)"/>
<path d="M633.1 217.7C628.6 220.5 638.6 232.4 644.1 236.9C649.5 241.3 657.7 245.5 665.9 244.5C674.1 243.6 686.9 236.3 693.3 231.4C699.7 226.5 707.9 216.8 704.2 215.0C700.6 213.2 683.3 220.0 671.4 220.5C659.6 220.9 637.7 215.0 633.1 217.7Z" fill="#1f4d12" fill-opacity="0.22" filter="url(#shb)"/>
<path d="M523.8 168.5C522.4 171.3 527.4 183.6 532.0 187.7C536.5 191.8 546.1 194.0 551.1 193.1C556.1 192.2 563.9 185.8 562.0 182.2C560.2 178.5 546.5 173.5 540.2 171.3C533.8 169.0 525.1 165.8 523.8 168.5Z" fill="#1f4d12" fill-opacity="0.2" filter="url(#shb)"/>
<path d="M605.2 116.6C599.8 120.7 606.6 128.3 611.3 133.0C615.9 137.6 625.4 142.3 633.1 144.5C640.9 146.6 649.5 147.2 657.7 145.8C665.9 144.5 678.0 140.2 682.4 136.3C686.7 132.3 690.1 126.7 683.7 122.0C677.3 117.4 657.1 109.3 644.1 108.4C631.0 107.5 610.7 112.5 605.2 116.6Z" fill="url(#rgB)" stroke="#076590" stroke-width="1.3" stroke-opacity="0.9" fill-opacity="1.0" filter="url(#rim)"/>
<path d="M521.0 141.2C521.5 134.8 522.8 124.8 526.5 119.3C530.1 113.8 536.5 110.6 542.9 108.4C549.3 106.1 557.0 105.2 564.8 105.6C572.5 106.1 581.6 108.4 589.4 111.1C597.1 113.8 604.0 118.4 611.3 122.0C618.5 125.7 625.8 129.8 633.1 133.0C640.4 136.2 647.7 138.0 655.0 141.2C662.3 144.4 670.0 147.1 676.9 152.1C683.7 157.1 690.6 164.4 696.0 171.3C701.5 178.1 706.4 186.7 709.7 193.1C713.0 199.6 716.6 205.9 715.7 210.1C714.8 214.3 709.8 216.0 704.2 218.3C698.7 220.6 690.6 223.8 682.4 223.8C674.1 223.8 664.1 221.5 655.0 218.3C645.9 215.1 636.8 208.8 627.7 204.6C618.5 200.4 609.0 196.0 600.3 193.1C591.7 190.3 583.0 189.0 575.7 187.7C568.4 186.3 563.4 187.2 556.6 184.9C549.7 182.6 540.2 178.5 534.7 174.0C529.2 169.4 526.0 163.1 523.8 157.6C521.5 152.1 520.6 147.6 521.0 141.2Z" fill="url(#rgB)" stroke="#076590" stroke-width="1.3" stroke-opacity="0.9" fill-opacity="1.0" filter="url(#rim)"/>
<ellipse cx="578.4" cy="145.3" rx="10.9" ry="1.9" transform="rotate(-5 578.4 145.3)" fill="#fff" fill-opacity="0.8" filter="url(#hlb)"/>
<ellipse cx="564.8" cy="133.0" rx="2.7" ry="1.4" transform="rotate(0 564.8 133.0)" fill="#fff" fill-opacity="0.7" filter="url(#hlb)"/>
<ellipse cx="538.8" cy="168.5" rx="2.2" ry="4.4" transform="rotate(-20 538.8 168.5)" fill="#fff" fill-opacity="0.7" filter="url(#hlb)"/>
<ellipse cx="649.5" cy="179.5" rx="2.2" ry="6.0" transform="rotate(-40 649.5 179.5)" fill="#fff" fill-opacity="0.7" filter="url(#hlb)"/>
<ellipse cx="635.9" cy="198.6" rx="2.7" ry="1.4" transform="rotate(20 635.9 198.6)" fill="#fff" fill-opacity="0.7" filter="url(#hlb)"/>
<ellipse cx="657.7" cy="157.6" rx="1.6" ry="3.8" transform="rotate(-30 657.7 157.6)" fill="#fff" fill-opacity="0.6" filter="url(#hlb)"/>
<path d="M558.8 175.6C557.6 171.7 572.7 161.3 583.9 158.9C595.1 156.6 611.8 158.9 625.7 161.7C639.7 164.5 654.8 168.7 667.6 175.6C680.3 182.6 695.3 196.5 702.3 203.5C709.3 210.5 715.2 214.4 709.4 217.5C703.6 220.5 681.5 224.2 667.6 221.8C653.6 219.5 638.6 210.0 625.7 203.5C612.9 197.0 601.9 187.4 590.7 182.7C579.6 178.1 559.9 179.6 558.8 175.6Z" fill="#04405e" fill-opacity="0.16" filter="url(#shb)"/>
<path d="M605.8 102.9C606.2 96.9 607.6 86.7 611.3 81.0C614.9 75.3 621.3 71.2 627.7 68.7C634.0 66.2 642.2 65.3 649.5 66.0C656.8 66.7 665.5 68.9 671.4 72.8C677.3 76.7 682.4 83.3 685.1 89.2C687.8 95.1 688.7 102.0 687.8 108.4C686.9 114.7 683.7 122.5 679.6 127.5C675.5 132.5 669.1 136.3 663.2 138.4C657.3 140.5 650.9 141.4 644.1 140.1C637.2 138.8 628.1 134.6 622.2 130.8C616.3 127.0 611.3 121.8 608.5 117.1C605.8 112.5 605.3 108.9 605.8 102.9Z" fill="url(#rgG)" stroke="#3f822c" stroke-width="1.3" stroke-opacity="0.9" fill-opacity="1.0" filter="url(#rim)"/>
<ellipse cx="668.7" cy="81.0" rx="6.0" ry="2.2" transform="rotate(-35 668.7 81.0)" fill="#fff" fill-opacity="0.8" filter="url(#hlb)"/>
<ellipse cx="644.1" cy="101.5" rx="3.3" ry="2.2" transform="rotate(0 644.1 101.5)" fill="#fff" fill-opacity="0.7" filter="url(#hlb)"/>
<ellipse cx="538.8" cy="198.6" rx="6.6" ry="6.6" fill="url(#aC)"/>
<path d="M522.4 225.9C523.5 220.5 524.4 213.9 527.9 209.5C531.3 205.2 536.7 202.0 542.9 200.0C549.0 197.9 557.0 196.5 564.8 197.2C572.5 197.9 581.6 200.7 589.4 204.1C597.1 207.5 604.4 213.2 611.3 217.7C618.1 222.3 625.6 226.4 630.4 231.4C635.2 236.4 638.6 242.4 640.0 247.8C641.3 253.3 641.6 259.7 638.6 264.2C635.6 268.8 629.5 272.4 622.2 275.2C614.9 277.9 604.4 279.4 594.8 280.6C585.3 281.8 573.9 283.2 564.8 282.3C555.7 281.4 546.5 279.1 540.2 275.2C533.8 271.2 529.7 264.2 526.5 258.8C523.3 253.3 521.7 247.8 521.0 242.4C520.3 236.9 521.2 231.4 522.4 225.9Z" fill="url(#rgG)" stroke="#3f822c" stroke-width="1.3" stroke-opacity="0.9" fill-opacity="1.0" filter="url(#rim)"/>
<ellipse cx="570.2" cy="236.9" rx="3.3" ry="2.7" transform="rotate(0 570.2 236.9)" fill="#fff" fill-opacity="0.8" filter="url(#hlb)"/>
<ellipse cx="586.6" cy="219.1" rx="8.2" ry="1.6" transform="rotate(25 586.6 219.1)" fill="#fff" fill-opacity="0.6" filter="url(#hlb)"/>
<ellipse cx="544.3" cy="264.8" rx="2.2" ry="2.7" transform="rotate(0 544.3 264.8)" fill="#fff" fill-opacity="0.8" filter="url(#hlb)"/>
<ellipse cx="594.8" cy="264.2" rx="1.6" ry="2.7" transform="rotate(0 594.8 264.2)" fill="#fff" fill-opacity="0.6" filter="url(#hlb)"/>
<path d="M633.1 220.5L637.2 228.7" stroke="#b99f77" stroke-width="6.6" stroke-linecap="round"/>
<path d="M633.1 220.5L637.2 228.7" stroke="#fff" stroke-opacity="0.3" stroke-width="2.0" stroke-linecap="round"/>
<ellipse cx="739.8" cy="145.3" rx="23.2" ry="19.1" transform="rotate(0 739.8 145.3)" fill="url(#rgB)" stroke="#076590" stroke-width="1.3" stroke-opacity="0.9" fill-opacity="1.0" filter="url(#rim)"/>
<path d="M711.9 163.1C711.9 156.6 714.6 150.5 717.9 146.6C721.2 142.8 726.6 140.0 731.6 139.8C736.6 139.6 743.4 141.9 748.0 145.3C752.5 148.7 757.3 154.6 758.9 160.3C760.5 166.0 759.4 174.2 757.5 179.5C755.7 184.7 752.3 189.2 748.0 191.8C743.6 194.3 736.6 195.8 731.6 194.8C726.6 193.7 721.2 190.8 717.9 185.5C714.6 180.2 711.9 169.5 711.9 163.1Z" fill="url(#rgG)" stroke="#3f822c" stroke-width="1.3" stroke-opacity="0.9" fill-opacity="1.0" filter="url(#rim)"/>
<ellipse cx="735.7" cy="163.1" rx="2.2" ry="3.8" transform="rotate(0 735.7 163.1)" fill="#fff" fill-opacity="0.7" filter="url(#hlb)"/>
<ellipse cx="726.1" cy="176.7" rx="1.6" ry="3.8" transform="rotate(20 726.1 176.7)" fill="#fff" fill-opacity="0.6" filter="url(#hlb)"/>
<ellipse cx="720.6" cy="108.4" rx="8.2" ry="8.2" fill="url(#aC)"/>
<path d="M704.2 247.8C704.2 241.8 704.2 233.7 707.0 228.7C709.7 223.7 715.2 219.6 720.6 217.7C726.1 215.9 734.3 216.4 739.8 217.7C745.2 219.1 750.2 222.3 753.4 225.9C756.7 229.6 759.9 234.6 759.5 239.6C759.0 244.6 757.2 250.0 750.7 256.0C744.2 262.0 727.9 274.3 720.6 275.7C713.3 277.2 709.7 269.4 707.0 264.8C704.2 260.1 704.2 253.8 704.2 247.8Z" fill="url(#rgB)" stroke="#076590" stroke-width="1.3" stroke-opacity="0.9" fill-opacity="1.0" filter="url(#rim)"/>
<path d="M717.9 231.4L735.7 249.2" stroke="#e6d22e" stroke-width="6.6" stroke-linecap="round"/>
<path d="M717.9 231.4L735.7 249.2" stroke="#fff" stroke-opacity="0.3" stroke-width="2.0" stroke-linecap="round"/>
<ellipse cx="743.9" cy="275.2" rx="31.4" ry="28.7" transform="rotate(0 743.9 275.2)" fill="url(#rgG)" stroke="#3f822c" stroke-width="1.3" stroke-opacity="0.9" fill-opacity="1.0" filter="url(#rim)"/>
<ellipse cx="749.3" cy="257.4" rx="2.2" ry="1.6" transform="rotate(0 749.3 257.4)" fill="#fff" fill-opacity="0.8" filter="url(#hlb)"/>
<ellipse cx="738.4" cy="271.1" rx="2.2" ry="1.6" transform="rotate(0 738.4 271.1)" fill="#fff" fill-opacity="0.8" filter="url(#hlb)"/>
<ellipse cx="727.5" cy="287.5" rx="1.9" ry="1.9" transform="rotate(0 727.5 287.5)" fill="#fff" fill-opacity="0.7" filter="url(#hlb)"/>
<path d="M783.5 160.3C782.6 157.1 792.2 153.9 797.2 149.4C802.2 144.8 808.6 137.1 813.6 133.0C818.6 128.9 823.2 125.2 827.3 124.8C831.4 124.3 837.3 126.1 838.2 130.2C839.1 134.3 836.4 143.9 832.7 149.4C829.1 154.8 821.4 159.9 816.3 163.1C811.3 166.2 808.1 169.0 802.7 168.5C797.2 168.1 784.4 163.5 783.5 160.3Z" fill="url(#rgG)" stroke="#3f822c" stroke-width="1.3" stroke-opacity="0.9" fill-opacity="1.0" filter="url(#rim)"/>
<path d="M802.7 160.3L832.7 141.2" stroke="#b99f77" stroke-width="6.6" stroke-linecap="round"/>
<path d="M802.7 160.3L832.7 141.2" stroke="#fff" stroke-opacity="0.3" stroke-width="2.0" stroke-linecap="round"/>
<path d="M778.1 174.0C778.1 168.4 780.3 165.3 783.5 163.1C786.7 160.8 792.6 159.9 797.2 160.3C801.8 160.8 807.9 162.1 810.9 165.8C813.8 169.4 814.7 175.8 815.0 182.2C815.2 188.6 811.6 197.7 812.2 204.1C812.9 210.4 815.7 215.4 819.1 220.5C822.5 225.6 828.4 230.0 832.7 234.7C837.1 239.3 844.1 245.0 845.1 248.4C846.0 251.7 842.1 254.5 838.2 254.9C834.3 255.4 827.7 252.7 821.8 251.1C815.9 249.6 808.6 247.9 802.7 245.6C796.7 243.4 789.9 242.0 786.3 237.4C782.6 232.9 781.2 225.1 780.8 218.3C780.3 211.5 784.0 203.8 783.5 196.4C783.1 189.0 778.1 179.5 778.1 174.0Z" fill="url(#rgB)" stroke="#076590" stroke-width="1.3" stroke-opacity="0.9" fill-opacity="1.0" filter="url(#rim)"/>
<ellipse cx="790.4" cy="174.0" rx="1.9" ry="3.8" transform="rotate(0 790.4 174.0)" fill="#fff" fill-opacity="0.7" filter="url(#hlb)"/>
<ellipse cx="797.2" cy="212.3" rx="1.9" ry="4.4" transform="rotate(0 797.2 212.3)" fill="#fff" fill-opacity="0.6" filter="url(#hlb)"/>
<ellipse cx="831.4" cy="142.5" rx="8.8" ry="8.2" transform="rotate(0 831.4 142.5)" fill="url(#rgB)" stroke="#076590" stroke-width="1.3" stroke-opacity="0.9" fill-opacity="1.0" filter="url(#rim)"/>
<ellipse cx="847.8" cy="243.7" rx="7.7" ry="7.7" fill="url(#aC)"/>
<ellipse cx="880.6" cy="149.4" rx="11.5" ry="7.7" transform="rotate(20 880.6 149.4)" fill="url(#rgB)" stroke="#076590" stroke-width="1.3" stroke-opacity="0.9" fill-opacity="1.0" filter="url(#rim)"/>
<ellipse cx="902.5" cy="201.3" rx="8.2" ry="19.1" transform="rotate(0 902.5 201.3)" fill="url(#rgB)" stroke="#076590" stroke-width="1.3" stroke-opacity="0.9" fill-opacity="1.0" filter="url(#rim)"/>
<path d="M873.8 160.3C874.4 155.3 878.8 153.5 882.0 152.1C885.2 150.7 889.7 150.3 892.9 152.1C896.1 153.9 899.5 158.0 901.1 163.1C902.7 168.1 902.0 176.3 902.5 182.2C902.9 188.1 902.9 193.1 903.8 198.6C904.8 204.1 907.9 209.5 907.9 215.0C907.9 220.5 906.8 228.0 903.8 231.4C900.9 234.9 894.7 236.2 890.2 235.8C885.6 235.3 879.5 232.1 876.5 228.7C873.5 225.2 872.4 220.0 872.4 215.0C872.4 210.0 875.6 204.1 876.5 198.6C877.4 193.1 878.3 188.6 877.9 182.2C877.4 175.8 873.1 165.3 873.8 160.3Z" fill="url(#rgG)" stroke="#3f822c" stroke-width="1.3" stroke-opacity="0.9" fill-opacity="1.0" filter="url(#rim)"/>
<ellipse cx="888.8" cy="204.1" rx="1.6" ry="5.5" transform="rotate(0 888.8 204.1)" fill="#fff" fill-opacity="0.6" filter="url(#hlb)"/>
<ellipse cx="892.9" cy="168.5" rx="1.4" ry="3.3" transform="rotate(0 892.9 168.5)" fill="#fff" fill-opacity="0.6" filter="url(#hlb)"/>
<ellipse cx="645.4" cy="276.5" rx="5.5" ry="5.5" fill="url(#aH)"/>
<ellipse cx="547.0" cy="282.0" rx="3.8" ry="3.8" fill="url(#aH)"/>
<path d="M1153.0 232.8L1142.0 249.2" stroke="#b39a72" stroke-width="6.6" stroke-linecap="round"/>
<path d="M1142.0 249.2L1131.1 265.6" stroke="#e4e4e4" stroke-width="6.6" stroke-linecap="round"/>
<path d="M1153.0 232.8L1131.1 265.6" stroke="#fff" stroke-opacity="0.3" stroke-width="2.0" stroke-linecap="round"/>
<ellipse cx="1131.1" cy="265.6" rx="5.5" ry="5.5" fill="url(#aH)"/>
<path d="M1139.3 146.6L1132.5 136.4" stroke="#b39a72" stroke-width="6.6" stroke-linecap="round"/>
<path d="M1132.5 136.4L1125.6 126.1" stroke="#e4e4e4" stroke-width="6.6" stroke-linecap="round"/>
<path d="M1139.3 146.6L1125.6 126.1" stroke="#fff" stroke-opacity="0.3" stroke-width="2.0" stroke-linecap="round"/>
<ellipse cx="1125.6" cy="126.1" rx="5.5" ry="5.5" fill="url(#aH)"/>
<path d="M1213.1 108.4L1203.6 94.7" stroke="#e4e4e4" stroke-width="6.0" stroke-linecap="round"/>
<path d="M1213.1 108.4L1203.6 94.7" stroke="#fff" stroke-opacity="0.3" stroke-width="1.8" stroke-linecap="round"/>
<ellipse cx="1203.6" cy="94.7" rx="4.9" ry="4.9" fill="url(#aH)"/>
<path d="M1300.6 105.6L1280.8 106.3" stroke="#b39a72" stroke-width="6.6" stroke-linecap="round"/>
<path d="M1280.8 106.3L1261.0 107.0" stroke="#e4e4e4" stroke-width="6.6" stroke-linecap="round"/>
<path d="M1300.6 105.6L1261.0 107.0" stroke="#fff" stroke-opacity="0.3" stroke-width="2.0" stroke-linecap="round"/>
<ellipse cx="1261.0" cy="107.0" rx="5.5" ry="5.5" fill="url(#aH)"/>
<path d="M1470.2 141.2L1483.2 133.7" stroke="#b39a72" stroke-width="6.6" stroke-linecap="round"/>
<path d="M1483.2 133.7L1496.1 126.1" stroke="#e4e4e4" stroke-width="6.6" stroke-linecap="round"/>
<path d="M1470.2 141.2L1496.1 126.1" stroke="#fff" stroke-opacity="0.3" stroke-width="2.0" stroke-linecap="round"/>
<ellipse cx="1496.1" cy="126.1" rx="5.5" ry="5.5" fill="url(#aH)"/>
<ellipse cx="1077.8" cy="197.2" rx="4.9" ry="4.9" fill="url(#aH)"/>
<ellipse cx="1512.6" cy="217.7" rx="4.9" ry="4.9" fill="url(#aH)"/>
<ellipse cx="1436.0" cy="277.9" rx="4.9" ry="4.9" fill="url(#aH)"/>
<path d="M1153.0 232.8L1173.5 234.7" stroke="#b99f77" stroke-width="6.6" stroke-linecap="round"/>
<path d="M1153.0 232.8L1173.5 234.7" stroke="#fff" stroke-opacity="0.3" stroke-width="2.0" stroke-linecap="round"/>
<path d="M1153.0 232.8L1140.7 217.7" stroke="#b99f77" stroke-width="6.6" stroke-linecap="round"/>
<path d="M1153.0 232.8L1140.7 217.7" stroke="#fff" stroke-opacity="0.3" stroke-width="2.0" stroke-linecap="round"/>
<path d="M1374.5 164.4L1389.5 151.6" stroke="#b99f77" stroke-width="6.6" stroke-linecap="round"/>
<path d="M1374.5 164.4L1389.5 151.6" stroke="#fff" stroke-opacity="0.3" stroke-width="2.0" stroke-linecap="round"/>
<path d="M1374.5 164.4L1379.9 201.3" stroke="#b99f77" stroke-width="6.6" stroke-linecap="round"/>
<path d="M1374.5 164.4L1379.9 201.3" stroke="#fff" stroke-opacity="0.3" stroke-width="2.0" stroke-linecap="round"/>
<path d="M1344.4 234.7L1354.2 230.3" stroke="#e6d22e" stroke-width="6.0" stroke-linecap="round"/>
<path d="M1354.2 230.3L1364.1 225.9" stroke="#b39a72" stroke-width="6.0" stroke-linecap="round"/>
<path d="M1344.4 234.7L1364.1 225.9" stroke="#fff" stroke-opacity="0.3" stroke-width="1.8" stroke-linecap="round"/>
<path d="M1307.5 233.6L1314.3 238.5" stroke="#e6d22e" stroke-width="5.5" stroke-linecap="round"/>
<path d="M1307.5 233.6L1314.3 238.5" stroke="#fff" stroke-opacity="0.3" stroke-width="1.6" stroke-linecap="round"/>
<path d="M1442.8 143.9L1462.0 147.2" stroke="#b99f77" stroke-width="6.6" stroke-linecap="round"/>
<path d="M1442.8 143.9L1462.0 147.2" stroke="#fff" stroke-opacity="0.3" stroke-width="2.0" stroke-linecap="round"/>
<path d="M1442.8 226.5L1454.3 217.2" stroke="#b99f77" stroke-width="6.6" stroke-linecap="round"/>
<path d="M1442.8 226.5L1454.3 217.2" stroke="#fff" stroke-opacity="0.3" stroke-width="2.0" stroke-linecap="round"/>
<path d="M1303.4 109.7L1309.4 123.4" stroke="#b99f77" stroke-width="6.0" stroke-linecap="round"/>
<path d="M1303.4 109.7L1309.4 123.4" stroke="#fff" stroke-opacity="0.3" stroke-width="1.8" stroke-linecap="round"/>
<path d="M1080.5 204.1C1078.7 208.2 1079.4 219.6 1081.9 225.9C1084.4 232.3 1090.1 238.6 1095.5 242.4C1101.0 246.1 1107.9 248.3 1114.7 248.4C1121.5 248.5 1130.6 246.1 1136.6 242.9C1142.5 239.7 1147.7 234.8 1150.2 229.2C1152.8 223.7 1153.2 213.7 1151.9 209.5C1150.5 205.3 1148.2 205.0 1142.0 204.1C1135.8 203.2 1122.9 204.5 1114.7 204.1C1106.5 203.6 1098.5 201.3 1092.8 201.3C1087.1 201.3 1082.3 200.0 1080.5 204.1Z" fill="url(#rgB)" stroke="#076590" stroke-width="1.3" stroke-opacity="0.9" fill-opacity="1.0" filter="url(#rim)"/>
<path d="M1133.8 154.8C1130.2 157.2 1137.0 160.8 1142.0 166.3C1147.0 171.9 1156.2 182.7 1163.9 188.2C1171.7 193.7 1179.9 198.2 1188.5 199.1C1197.2 200.1 1209.4 197.8 1215.9 193.7C1222.3 189.6 1225.3 180.6 1227.4 174.5C1229.4 168.5 1230.3 162.0 1228.4 157.6C1226.6 153.2 1221.7 149.4 1216.4 148.0C1211.1 146.6 1205.5 148.7 1196.7 149.4C1188.0 150.1 1174.4 151.2 1163.9 152.1C1153.4 153.0 1137.5 152.5 1133.8 154.8Z" fill="url(#rgG)" stroke="#3f822c" stroke-width="1.3" stroke-opacity="0.9" fill-opacity="1.0" filter="url(#rim)"/>
<path d="M1154.3 231.4C1151.4 235.5 1153.7 248.6 1157.1 256.0C1160.5 263.4 1168.2 271.1 1174.8 275.7C1181.5 280.4 1189.4 283.5 1196.7 283.9C1204.0 284.4 1212.9 282.1 1218.6 278.4C1224.3 274.8 1229.8 267.6 1231.2 262.0C1232.5 256.5 1232.5 249.3 1226.8 245.1C1221.1 240.9 1205.4 239.2 1196.7 236.9C1188.1 234.6 1181.9 232.3 1174.8 231.4C1167.8 230.5 1157.3 227.3 1154.3 231.4Z" fill="url(#rgG)" stroke="#3f822c" stroke-width="1.3" stroke-opacity="0.9" fill-opacity="1.0" filter="url(#rim)"/>
<path d="M1229.5 204.1C1230.4 194.0 1235.9 169.7 1240.5 160.3C1245.0 151.0 1251.0 150.5 1256.9 148.0C1262.8 145.5 1269.6 144.6 1276.0 145.3C1282.4 146.0 1288.3 147.8 1295.2 152.1C1302.0 156.4 1312.1 164.4 1317.0 171.3C1322.0 178.1 1325.6 185.8 1324.7 193.1C1323.8 200.4 1319.2 211.4 1311.6 215.0C1303.9 218.7 1288.8 213.2 1278.8 215.0C1268.7 216.8 1258.7 225.0 1251.4 225.9C1244.1 226.9 1238.7 224.1 1235.0 220.5C1231.4 216.8 1228.6 214.1 1229.5 204.1Z" fill="url(#rgB)" stroke="#076590" stroke-width="1.3" stroke-opacity="0.9" fill-opacity="1.0" filter="url(#rim)"/>
<path d="M1287.0 135.7C1284.7 130.7 1289.2 123.6 1292.4 119.3C1295.6 115.0 1300.2 111.3 1306.1 109.7C1312.0 108.1 1320.7 108.1 1328.0 109.7C1335.3 111.3 1343.8 114.5 1349.9 119.3C1355.9 124.1 1360.5 132.3 1364.1 138.4C1367.6 144.6 1376.3 152.6 1371.2 156.2C1366.1 159.9 1344.3 161.5 1333.4 160.3C1322.6 159.2 1313.9 153.5 1306.1 149.4C1298.4 145.3 1289.2 140.7 1287.0 135.7Z" fill="url(#rgG)" stroke="#3f822c" stroke-width="1.3" stroke-opacity="0.9" fill-opacity="1.0" filter="url(#rim)"/>
<path d="M1277.4 258.8C1277.4 250.4 1281.3 238.7 1287.0 231.4C1292.7 224.1 1303.8 218.4 1311.6 215.0C1319.3 211.6 1327.0 210.4 1333.4 210.9C1339.9 211.4 1345.8 213.3 1350.4 217.7C1355.1 222.2 1361.9 230.6 1361.3 237.4C1360.8 244.3 1356.3 252.4 1347.1 258.8C1337.9 265.1 1316.1 271.9 1306.1 275.7C1296.1 279.5 1291.7 284.6 1287.0 281.7C1282.2 278.9 1277.4 267.1 1277.4 258.8Z" fill="url(#rgG)" stroke="#3f822c" stroke-width="1.3" stroke-opacity="0.9" fill-opacity="1.0" filter="url(#rim)"/>
<path d="M1366.3 204.1C1361.7 197.0 1370.4 192.4 1374.5 189.0C1378.6 185.6 1384.5 182.9 1390.9 183.6C1397.3 184.2 1405.5 188.8 1412.7 193.1C1420.0 197.5 1428.6 204.0 1434.6 209.5C1440.6 215.1 1448.4 221.9 1448.8 226.5C1449.3 231.0 1445.2 236.1 1437.4 236.9C1429.5 237.7 1413.7 236.9 1401.8 231.4C1390.0 225.9 1370.8 211.1 1366.3 204.1Z" fill="url(#rgB)" stroke="#076590" stroke-width="1.3" stroke-opacity="0.9" fill-opacity="1.0" filter="url(#rim)"/>
<path d="M1382.7 116.6C1378.1 111.6 1384.0 102.4 1388.1 97.4C1392.2 92.4 1400.9 87.6 1407.3 86.5C1413.7 85.3 1421.0 87.4 1426.4 90.6C1431.9 93.8 1437.5 100.8 1440.1 105.6C1442.6 110.5 1445.8 116.2 1441.7 119.8C1437.6 123.5 1425.3 128.1 1415.5 127.5C1405.6 127.0 1387.2 121.6 1382.7 116.6Z" fill="url(#rgB)" stroke="#076590" stroke-width="1.3" stroke-opacity="0.9" fill-opacity="1.0" filter="url(#rim)"/>
<path d="M1445.6 187.7C1437.4 180.4 1446.0 163.1 1448.3 154.8C1450.6 146.6 1455.1 141.9 1459.2 138.4C1463.3 135.0 1467.9 133.4 1472.9 134.3C1477.9 135.3 1484.3 139.1 1489.3 143.9C1494.3 148.7 1499.5 155.8 1503.0 163.1C1506.4 170.3 1511.0 181.7 1510.1 187.7C1509.2 193.6 1508.3 198.6 1497.5 198.6C1486.8 198.6 1453.8 195.0 1445.6 187.7Z" fill="url(#rgG)" stroke="#3f822c" stroke-width="1.3" stroke-opacity="0.9" fill-opacity="1.0" filter="url(#rim)"/>
<ellipse cx="1139.3" cy="157.6" rx="6.0" ry="6.0" fill="url(#aC)"/>
<path d="M1137.9 141.2C1137.9 135.2 1140.9 126.8 1144.8 122.0C1148.6 117.2 1154.8 114.3 1161.2 112.5C1167.6 110.6 1175.8 110.2 1183.1 111.1C1190.3 112.0 1199.0 114.7 1204.9 117.9C1210.9 121.1 1216.5 125.9 1218.6 130.2C1220.7 134.6 1219.8 139.8 1217.5 143.9C1215.2 148.0 1210.7 151.7 1204.9 154.8C1199.2 158.0 1190.3 161.4 1183.1 163.1C1175.8 164.7 1167.6 165.5 1161.2 164.7C1154.8 163.9 1148.6 162.0 1144.8 158.1C1140.9 154.2 1137.9 147.2 1137.9 141.2Z" fill="url(#rgB)" stroke="#076590" stroke-width="1.3" stroke-opacity="0.9" fill-opacity="1.0" filter="url(#rim)"/>
<ellipse cx="1185.8" cy="135.7" rx="3.8" ry="1.9" transform="rotate(-15 1185.8 135.7)" fill="#fff" fill-opacity="0.9" filter="url(#hlb)"/>
<ellipse cx="1200.8" cy="122.0" rx="2.7" ry="1.4" transform="rotate(20 1200.8 122.0)" fill="#fff" fill-opacity="0.7" filter="url(#hlb)"/>
<ellipse cx="1150.2" cy="153.5" rx="2.2" ry="1.6" transform="rotate(0 1150.2 153.5)" fill="#fff" fill-opacity="0.7" filter="url(#hlb)"/>
<path d="M1215.9 122.0C1216.8 118.8 1225.0 118.8 1229.5 119.3C1234.1 119.8 1240.4 122.5 1243.2 124.8C1246.0 127.0 1247.4 130.4 1246.5 133.0C1245.6 135.5 1241.5 139.1 1237.7 140.1C1234.0 141.1 1227.7 142.0 1224.1 139.0C1220.4 136.0 1215.0 125.3 1215.9 122.0Z" fill="url(#rgB)" stroke="#076590" stroke-width="1.3" stroke-opacity="0.9" fill-opacity="1.0" filter="url(#rim)"/>
<ellipse cx="1230.9" cy="108.4" rx="19.1" ry="19.7" transform="rotate(0 1230.9 108.4)" fill="url(#rgG)" stroke="#3f822c" stroke-width="1.3" stroke-opacity="0.9" fill-opacity="1.0" filter="url(#rim)"/>
<ellipse cx="1237.7" cy="97.4" rx="2.7" ry="1.6" transform="rotate(-30 1237.7 97.4)" fill="#fff" fill-opacity="0.8" filter="url(#hlb)"/>
<path d="M1219.1 131.6L1223.0 125.3" stroke="#d22" stroke-width="5.5" stroke-linecap="round"/>
<path d="M1219.1 131.6L1223.0 125.3" stroke="#fff" stroke-opacity="0.3" stroke-width="1.6" stroke-linecap="round"/>
<path d="M1080.5 182.2C1081.4 177.2 1083.0 168.1 1087.3 163.1C1091.7 158.0 1099.6 153.5 1106.5 152.1C1113.3 150.7 1122.0 152.1 1128.4 154.8C1134.7 157.6 1140.8 163.1 1144.8 168.5C1148.7 174.0 1151.0 181.3 1151.9 187.7C1152.8 194.0 1152.8 201.8 1150.2 206.8C1147.7 211.8 1142.5 216.3 1136.6 217.7C1130.6 219.2 1122.0 217.8 1114.7 215.6C1107.4 213.3 1098.3 207.8 1092.8 204.1C1087.3 200.3 1083.9 196.8 1081.9 193.1C1079.8 189.5 1079.6 187.2 1080.5 182.2Z" fill="url(#rgG)" stroke="#3f822c" stroke-width="1.3" stroke-opacity="0.9" fill-opacity="1.0" filter="url(#rim)"/>
<ellipse cx="1116.1" cy="183.6" rx="2.5" ry="2.2" transform="rotate(0 1116.1 183.6)" fill="#fff" fill-opacity="0.8" filter="url(#hlb)"/>
<ellipse cx="1129.7" cy="171.3" rx="3.8" ry="1.6" transform="rotate(30 1129.7 171.3)" fill="#fff" fill-opacity="0.6" filter="url(#hlb)"/>
<ellipse cx="1101.0" cy="201.3" rx="2.2" ry="1.4" transform="rotate(30 1101.0 201.3)" fill="#fff" fill-opacity="0.6" filter="url(#hlb)"/>
<path d="M1173.5 215.0C1173.5 209.0 1174.6 203.2 1177.6 198.6C1180.5 194.0 1186.2 189.7 1191.3 187.7C1196.3 185.6 1202.2 184.9 1207.7 186.3C1213.1 187.7 1219.7 190.6 1224.1 195.9C1228.4 201.1 1232.1 210.9 1233.9 217.7C1235.7 224.6 1236.2 231.0 1235.0 236.9C1233.8 242.8 1230.9 250.0 1226.8 253.3C1222.7 256.6 1216.3 257.4 1210.4 256.6C1204.5 255.8 1196.7 252.0 1191.3 248.4C1185.8 244.7 1180.5 240.3 1177.6 234.7C1174.6 229.1 1173.5 221.0 1173.5 215.0Z" fill="url(#rgB)" stroke="#076590" stroke-width="1.3" stroke-opacity="0.9" fill-opacity="1.0" filter="url(#rim)"/>
<ellipse cx="1209.0" cy="204.1" rx="2.2" ry="2.2" transform="rotate(0 1209.0 204.1)" fill="#fff" fill-opacity="0.8" filter="url(#hlb)"/>
<ellipse cx="1185.8" cy="219.1" rx="2.2" ry="1.6" transform="rotate(0 1185.8 219.1)" fill="#fff" fill-opacity="0.7" filter="url(#hlb)"/>
<ellipse cx="1202.2" cy="221.8" rx="1.9" ry="1.9" transform="rotate(0 1202.2 221.8)" fill="#fff" fill-opacity="0.7" filter="url(#hlb)"/>
<ellipse cx="1153.0" cy="232.8" rx="8.2" ry="8.2" fill="url(#aC)"/>
<path d="M1220.0 176.7C1219.1 171.3 1224.3 169.0 1229.5 165.8C1234.8 162.6 1243.7 158.3 1251.4 157.6C1259.2 156.9 1268.3 158.9 1276.0 161.7C1283.8 164.4 1291.1 168.3 1297.9 174.0C1304.7 179.7 1312.5 189.0 1317.0 195.9C1321.6 202.7 1324.8 209.1 1325.2 215.0C1325.7 220.9 1323.9 226.9 1319.8 231.4C1315.7 236.0 1307.9 240.3 1300.6 242.4C1293.3 244.4 1283.3 244.9 1276.0 244.0C1268.7 243.1 1261.9 241.3 1256.9 236.9C1251.9 232.5 1249.6 224.1 1245.9 217.7C1242.3 211.4 1239.3 205.4 1235.0 198.6C1230.7 191.8 1220.9 182.2 1220.0 176.7Z" fill="url(#rgG)" stroke="#3f822c" stroke-width="1.3" stroke-opacity="0.9" fill-opacity="1.0" filter="url(#rim)"/>
<ellipse cx="1281.5" cy="193.1" rx="2.2" ry="2.2" transform="rotate(0 1281.5 193.1)" fill="#fff" fill-opacity="0.7" filter="url(#hlb)"/>
<ellipse cx="1266.5" cy="221.8" rx="2.7" ry="1.9" transform="rotate(0 1266.5 221.8)" fill="#fff" fill-opacity="0.7" filter="url(#hlb)"/>
<ellipse cx="1293.8" cy="206.8" rx="1.4" ry="5.5" transform="rotate(-20 1293.8 206.8)" fill="#fff" fill-opacity="0.5" filter="url(#hlb)"/>
<path d="M1267.8 163.1C1266.9 159.4 1273.7 158.5 1278.8 160.3C1283.8 162.1 1292.4 168.5 1297.9 174.0C1303.4 179.5 1311.1 189.0 1311.6 193.1C1312.0 197.2 1305.2 200.4 1300.6 198.6C1296.1 196.8 1289.7 188.1 1284.2 182.2C1278.8 176.3 1268.7 166.7 1267.8 163.1Z" fill="#1f4d12" fill-opacity="0.38" filter="url(#shb)"/>
<path d="M1291.1 141.2C1291.5 136.5 1294.0 130.7 1297.9 127.5C1301.8 124.3 1307.9 122.5 1314.3 122.0C1320.7 121.6 1329.3 122.0 1336.2 124.8C1343.0 127.5 1350.2 133.4 1355.3 138.4C1360.4 143.5 1364.3 149.4 1366.8 154.8C1369.4 160.3 1371.2 166.2 1370.6 171.3C1370.1 176.3 1367.9 181.7 1363.5 184.9C1359.2 188.1 1351.2 190.3 1344.4 190.4C1337.5 190.5 1328.9 188.6 1322.5 185.5C1316.1 182.4 1310.7 176.8 1306.1 171.8C1301.5 166.8 1297.7 160.5 1295.2 155.4C1292.7 150.3 1290.6 145.8 1291.1 141.2Z" fill="url(#rgB)" stroke="#076590" stroke-width="1.3" stroke-opacity="0.9" fill-opacity="1.0" filter="url(#rim)"/>
<ellipse cx="1322.5" cy="150.7" rx="2.7" ry="2.2" transform="rotate(0 1322.5 150.7)" fill="#fff" fill-opacity="0.8" filter="url(#hlb)"/>
<ellipse cx="1341.7" cy="145.3" rx="1.6" ry="4.4" transform="rotate(-40 1341.7 145.3)" fill="#fff" fill-opacity="0.5" filter="url(#hlb)"/>
<path d="M1282.9 72.8C1282.9 68.3 1284.0 62.7 1287.0 59.1C1289.9 55.6 1296.1 52.2 1300.6 51.5C1305.2 50.8 1310.3 52.4 1314.3 55.0C1318.3 57.7 1323.6 63.0 1324.7 67.3C1325.8 71.7 1323.3 76.9 1321.1 81.0C1319.0 85.1 1315.4 89.7 1311.6 92.0C1307.7 94.2 1302.0 95.6 1297.9 94.7C1293.8 93.8 1289.5 90.1 1287.0 86.5C1284.5 82.8 1282.9 77.4 1282.9 72.8Z" fill="url(#rgB)" stroke="#076590" stroke-width="1.3" stroke-opacity="0.9" fill-opacity="1.0" filter="url(#rim)"/>
<ellipse cx="1314.3" cy="64.6" rx="1.6" ry="3.3" transform="rotate(25 1314.3 64.6)" fill="#fff" fill-opacity="0.7" filter="url(#hlb)"/>
<ellipse cx="1323.9" cy="92.0" rx="21.3" ry="15.9" transform="rotate(-10 1323.9 92.0)" fill="url(#rgG)" stroke="#3f822c" stroke-width="1.3" stroke-opacity="0.9" fill-opacity="1.0" filter="url(#rim)"/>
<ellipse cx="1333.4" cy="83.8" rx="3.3" ry="1.4" transform="rotate(-20 1333.4 83.8)" fill="#fff" fill-opacity="0.8" filter="url(#hlb)"/>
<ellipse cx="1300.6" cy="105.6" rx="8.8" ry="8.8" fill="url(#aC)"/>
<path d="M1384.0 138.4C1384.5 133.4 1385.2 124.5 1388.1 119.3C1391.1 114.1 1396.3 109.3 1401.8 107.0C1407.3 104.7 1415.0 104.0 1421.0 105.6C1426.9 107.2 1433.3 111.6 1437.4 116.6C1441.4 121.6 1444.6 129.3 1445.0 135.7C1445.5 142.1 1443.2 149.6 1440.1 154.8C1437.0 160.1 1431.9 164.6 1426.4 167.2C1421.0 169.7 1412.7 171.3 1407.3 170.2C1401.8 169.0 1397.3 163.8 1393.6 160.3C1390.0 156.9 1387.0 153.0 1385.4 149.4C1383.8 145.7 1383.6 143.5 1384.0 138.4Z" fill="url(#rgG)" stroke="#3f822c" stroke-width="1.3" stroke-opacity="0.9" fill-opacity="1.0" filter="url(#rim)"/>
<ellipse cx="1415.5" cy="133.0" rx="2.7" ry="2.2" transform="rotate(0 1415.5 133.0)" fill="#fff" fill-opacity="0.8" filter="url(#hlb)"/>
<ellipse cx="1423.7" cy="119.3" rx="3.3" ry="1.6" transform="rotate(-30 1423.7 119.3)" fill="#fff" fill-opacity="0.7" filter="url(#hlb)"/>
<ellipse cx="1399.1" cy="149.4" rx="1.9" ry="1.9" transform="rotate(0 1399.1 149.4)" fill="#fff" fill-opacity="0.7" filter="url(#hlb)"/>
<path d="M1407.8 93.3L1408.9 102.9" stroke="#e4e4e4" stroke-width="6.0" stroke-linecap="round"/>
<path d="M1407.8 93.3L1408.9 102.9" stroke="#fff" stroke-opacity="0.3" stroke-width="1.8" stroke-linecap="round"/>
<ellipse cx="1407.3" cy="92.0" rx="4.9" ry="4.9" fill="url(#aH)"/>
<ellipse cx="1374.5" cy="164.4" rx="8.2" ry="8.2" fill="url(#aC)"/>
<path d="M1446.9 182.2C1447.8 175.4 1450.3 163.5 1453.8 157.6C1457.2 151.7 1462.4 148.0 1467.4 146.6C1472.5 145.3 1478.8 146.2 1483.8 149.4C1488.9 152.6 1493.4 158.9 1497.5 165.8C1501.6 172.6 1506.3 182.6 1508.5 190.4C1510.6 198.1 1511.6 205.4 1510.6 212.3C1509.7 219.1 1507.0 227.0 1503.0 231.4C1499.0 235.8 1492.5 238.5 1486.6 238.5C1480.7 238.5 1472.9 235.3 1467.4 231.4C1462.0 227.5 1457.0 220.5 1453.8 215.0C1450.6 209.5 1449.4 204.1 1448.3 198.6C1447.2 193.1 1446.0 189.0 1446.9 182.2Z" fill="url(#rgB)" stroke="#076590" stroke-width="1.3" stroke-opacity="0.9" fill-opacity="1.0" filter="url(#rim)"/>
<ellipse cx="1475.6" cy="197.2" rx="2.5" ry="2.5" transform="rotate(0 1475.6 197.2)" fill="#fff" fill-opacity="0.8" filter="url(#hlb)"/>
<ellipse cx="1464.7" cy="176.7" rx="1.6" ry="4.9" transform="rotate(10 1464.7 176.7)" fill="#fff" fill-opacity="0.6" filter="url(#hlb)"/>
<ellipse cx="1493.4" cy="193.1" rx="1.4" ry="3.8" transform="rotate(0 1493.4 193.1)" fill="#fff" fill-opacity="0.6" filter="url(#hlb)"/>
<path d="M1363.5 215.0C1364.0 210.0 1367.6 206.6 1371.7 204.1C1375.8 201.6 1381.8 199.7 1388.1 200.0C1394.5 200.2 1402.7 202.0 1410.0 205.4C1417.3 208.9 1425.7 214.8 1431.9 220.5C1438.0 226.2 1443.7 233.2 1446.9 239.6C1450.1 246.0 1451.7 253.3 1451.0 258.8C1450.3 264.2 1446.9 269.4 1442.8 272.4C1438.7 275.4 1432.8 277.3 1426.4 276.8C1420.0 276.4 1411.8 273.6 1404.5 269.7C1397.3 265.8 1388.6 259.2 1382.7 253.3C1376.7 247.4 1372.2 240.5 1369.0 234.1C1365.8 227.8 1363.1 220.0 1363.5 215.0Z" fill="url(#rgG)" stroke="#3f822c" stroke-width="1.3" stroke-opacity="0.9" fill-opacity="1.0" filter="url(#rim)"/>
<ellipse cx="1392.2" cy="221.8" rx="2.5" ry="2.5" transform="rotate(0 1392.2 221.8)" fill="#fff" fill-opacity="0.8" filter="url(#hlb)"/>
<ellipse cx="1384.0" cy="236.9" rx="2.2" ry="1.6" transform="rotate(0 1384.0 236.9)" fill="#fff" fill-opacity="0.7" filter="url(#hlb)"/>
<ellipse cx="1425.1" cy="242.4" rx="1.6" ry="2.7" transform="rotate(0 1425.1 242.4)" fill="#fff" fill-opacity="0.7" filter="url(#hlb)"/>
<path d="M1363.5 215.0C1364.9 210.4 1369.0 205.9 1374.5 204.1C1379.9 202.2 1390.4 202.2 1396.3 204.1C1402.3 205.9 1410.0 209.5 1410.0 215.0C1410.0 220.5 1401.4 232.3 1396.3 236.9C1391.3 241.4 1384.9 243.3 1379.9 242.4C1374.9 241.4 1369.0 236.0 1366.3 231.4C1363.5 226.9 1362.2 219.6 1363.5 215.0Z" fill="#1f4d12" fill-opacity="0.15" filter="url(#shb)"/>
<path d="M1284.2 275.2C1285.1 268.8 1288.3 256.9 1292.4 250.6C1296.5 244.2 1302.5 240.1 1308.8 236.9C1315.2 233.7 1323.9 231.0 1330.7 231.4C1337.5 231.9 1344.4 235.1 1349.9 239.6C1355.3 244.2 1360.7 252.4 1363.5 258.8C1366.4 265.1 1367.7 271.5 1366.8 277.9C1365.9 284.3 1362.3 291.6 1358.1 297.0C1353.9 302.5 1348.0 308.2 1341.7 310.7C1335.3 313.3 1326.6 313.7 1319.8 312.4C1312.9 311.0 1306.1 306.4 1300.6 302.5C1295.2 298.6 1289.7 293.4 1287.0 288.8C1284.2 284.3 1283.3 281.5 1284.2 275.2Z" fill="url(#rgB)" stroke="#076590" stroke-width="1.3" stroke-opacity="0.9" fill-opacity="1.0" filter="url(#rim)"/>
<ellipse cx="1340.3" cy="249.2" rx="1.9" ry="1.4" transform="rotate(0 1340.3 249.2)" fill="#fff" fill-opacity="0.8" filter="url(#hlb)"/>
<ellipse cx="1325.2" cy="271.1" rx="2.5" ry="2.2" transform="rotate(0 1325.2 271.1)" fill="#fff" fill-opacity="0.8" filter="url(#hlb)"/>
<ellipse cx="1302.0" cy="292.9" rx="1.9" ry="1.6" transform="rotate(0 1302.0 292.9)" fill="#fff" fill-opacity="0.7" filter="url(#hlb)"/>
<ellipse cx="1347.1" cy="280.6" rx="1.9" ry="1.6" transform="rotate(0 1347.1 280.6)" fill="#fff" fill-opacity="0.7" filter="url(#hlb)"/>
<path d="M1220.0 253.3L1226.8 264.2" stroke="#e4e4e4" stroke-width="5.5" stroke-linecap="round"/>
<path d="M1220.0 253.3L1226.8 264.2" stroke="#fff" stroke-opacity="0.3" stroke-width="1.6" stroke-linecap="round"/>
<ellipse cx="1226.8" cy="264.2" rx="4.9" ry="4.9" fill="url(#aH)"/>
<path d="M1562.8 195.9L1550.5 195.9" stroke="#e4e4e4" stroke-width="6.0" stroke-linecap="round"/>
<path d="M1562.8 195.9L1550.5 195.9" stroke="#fff" stroke-opacity="0.3" stroke-width="1.8" stroke-linecap="round"/>
<ellipse cx="1550.5" cy="195.9" rx="4.9" ry="4.9" fill="url(#aH)"/>
<path d="M1773.4 105.6L1752.9 106.3" stroke="#b39a72" stroke-width="6.6" stroke-linecap="round"/>
<path d="M1752.9 106.3L1732.4 107.0" stroke="#e4e4e4" stroke-width="6.6" stroke-linecap="round"/>
<path d="M1773.4 105.6L1732.4 107.0" stroke="#fff" stroke-opacity="0.3" stroke-width="2.0" stroke-linecap="round"/>
<ellipse cx="1732.4" cy="107.0" rx="5.5" ry="5.5" fill="url(#aH)"/>
<path d="M1773.4 105.6L1774.7 89.9" stroke="#b39a72" stroke-width="6.6" stroke-linecap="round"/>
<path d="M1774.7 89.9L1776.1 74.2" stroke="#e4e4e4" stroke-width="6.6" stroke-linecap="round"/>
<path d="M1773.4 105.6L1776.1 74.2" stroke="#fff" stroke-opacity="0.3" stroke-width="2.0" stroke-linecap="round"/>
<ellipse cx="1776.1" cy="74.2" rx="4.9" ry="4.9" fill="url(#aH)"/>
<path d="M1773.4 105.6L1785.7 100.2" stroke="#b39a72" stroke-width="6.6" stroke-linecap="round"/>
<path d="M1785.7 100.2L1798.0 94.7" stroke="#9fb0b8" stroke-width="6.6" stroke-linecap="round"/>
<path d="M1773.4 105.6L1798.0 94.7" stroke="#fff" stroke-opacity="0.3" stroke-width="2.0" stroke-linecap="round"/>
<ellipse cx="1798.0" cy="94.7" rx="4.9" ry="4.9" fill="url(#aH)"/>
<path d="M1885.5 130.2L1882.1 111.1" stroke="#b39a72" stroke-width="6.6" stroke-linecap="round"/>
<path d="M1882.1 111.1L1878.6 92.0" stroke="#e4e4e4" stroke-width="6.6" stroke-linecap="round"/>
<path d="M1885.5 130.2L1878.6 92.0" stroke="#fff" stroke-opacity="0.3" stroke-width="2.0" stroke-linecap="round"/>
<ellipse cx="1878.6" cy="90.6" rx="5.5" ry="5.5" fill="url(#aH)"/>
<path d="M1948.4 137.1L1957.9 130.9" stroke="#b39a72" stroke-width="6.6" stroke-linecap="round"/>
<path d="M1957.9 130.9L1967.5 124.8" stroke="#e4e4e4" stroke-width="6.6" stroke-linecap="round"/>
<path d="M1948.4 137.1L1967.5 124.8" stroke="#fff" stroke-opacity="0.3" stroke-width="2.0" stroke-linecap="round"/>
<ellipse cx="1967.5" cy="124.8" rx="5.5" ry="5.5" fill="url(#aH)"/>
<path d="M1964.8 209.5L1981.2 215.0" stroke="#e4e4e4" stroke-width="6.6" stroke-linecap="round"/>
<path d="M1964.8 209.5L1981.2 215.0" stroke="#fff" stroke-opacity="0.3" stroke-width="2.0" stroke-linecap="round"/>
<ellipse cx="1981.2" cy="215.0" rx="5.5" ry="5.5" fill="url(#aH)"/>
<path d="M1900.5 235.5L1903.9 255.3" stroke="#b39a72" stroke-width="6.6" stroke-linecap="round"/>
<path d="M1903.9 255.3L1907.4 275.2" stroke="#e4e4e4" stroke-width="6.6" stroke-linecap="round"/>
<path d="M1900.5 235.5L1907.4 275.2" stroke="#fff" stroke-opacity="0.3" stroke-width="2.0" stroke-linecap="round"/>
<ellipse cx="1907.4" cy="275.2" rx="5.5" ry="5.5" fill="url(#aH)"/>
<path d="M1773.4 105.6L1780.2 122.7" stroke="#b39a72" stroke-width="6.6" stroke-linecap="round"/>
<path d="M1780.2 122.7L1787.0 139.8" stroke="#2233cc" stroke-width="6.6" stroke-linecap="round"/>
<path d="M1773.4 105.6L1787.0 139.8" stroke="#fff" stroke-opacity="0.3" stroke-width="2.0" stroke-linecap="round"/>
<path d="M1803.4 156.2L1815.1 158.9" stroke="#2233cc" stroke-width="6.0" stroke-linecap="round"/>
<path d="M1815.1 158.9L1826.7 161.7" stroke="#b39a72" stroke-width="6.0" stroke-linecap="round"/>
<path d="M1803.4 156.2L1826.7 161.7" stroke="#fff" stroke-opacity="0.3" stroke-width="1.8" stroke-linecap="round"/>
<path d="M1758.3 191.8L1732.4 193.1" stroke="#b99f77" stroke-width="6.6" stroke-linecap="round"/>
<path d="M1758.3 191.8L1732.4 193.1" stroke="#fff" stroke-opacity="0.3" stroke-width="2.0" stroke-linecap="round"/>
<path d="M1758.3 191.8L1772.0 175.4" stroke="#b99f77" stroke-width="6.6" stroke-linecap="round"/>
<path d="M1758.3 191.8L1772.0 175.4" stroke="#fff" stroke-opacity="0.3" stroke-width="2.0" stroke-linecap="round"/>
<path d="M1858.1 149.4L1885.5 130.2" stroke="#b99f77" stroke-width="7.1" stroke-linecap="round"/>
<path d="M1858.1 149.4L1885.5 130.2" stroke="#fff" stroke-opacity="0.3" stroke-width="2.1" stroke-linecap="round"/>
<path d="M1885.5 130.2L1925.1 147.2" stroke="#b99f77" stroke-width="7.1" stroke-linecap="round"/>
<path d="M1885.5 130.2L1925.1 147.2" stroke="#fff" stroke-opacity="0.3" stroke-width="2.1" stroke-linecap="round"/>
<path d="M1880.0 231.4L1900.5 235.5" stroke="#b99f77" stroke-width="7.1" stroke-linecap="round"/>
<path d="M1880.0 231.4L1900.5 235.5" stroke="#fff" stroke-opacity="0.3" stroke-width="2.1" stroke-linecap="round"/>
<path d="M1900.5 235.5L1927.0 217.7" stroke="#b99f77" stroke-width="7.1" stroke-linecap="round"/>
<path d="M1900.5 235.5L1927.0 217.7" stroke="#fff" stroke-opacity="0.3" stroke-width="2.1" stroke-linecap="round"/>
<path d="M1784.3 242.4L1808.9 234.1" stroke="#e6d22e" stroke-width="6.6" stroke-linecap="round"/>
<path d="M1808.9 234.1L1833.5 225.9" stroke="#b39a72" stroke-width="6.6" stroke-linecap="round"/>
<path d="M1784.3 242.4L1833.5 225.9" stroke="#fff" stroke-opacity="0.3" stroke-width="2.0" stroke-linecap="round"/>
<path d="M1582.0 152.1C1579.7 156.2 1581.5 164.3 1584.7 168.5C1587.9 172.7 1595.2 176.7 1601.1 177.3C1607.0 177.8 1617.0 175.5 1620.2 171.8C1623.4 168.1 1623.9 159.5 1620.2 154.8C1616.6 150.2 1604.7 144.4 1598.4 143.9C1592.0 143.5 1584.2 148.0 1582.0 152.1Z" fill="url(#rgG)" stroke="#3f822c" stroke-width="1.3" stroke-opacity="0.9" fill-opacity="1.0" filter="url(#rim)"/>
<path d="M1562.8 209.5C1560.5 214.1 1562.8 236.9 1565.5 247.8C1568.3 258.8 1573.3 267.9 1579.2 275.2C1585.1 282.5 1592.4 287.8 1601.1 291.6C1609.8 295.3 1621.1 298.0 1631.2 297.6C1641.2 297.2 1652.1 293.5 1661.3 289.4C1670.4 285.3 1679.4 278.9 1685.9 273.0C1692.3 267.1 1698.2 258.9 1700.1 253.8C1702.0 248.7 1705.2 245.2 1697.4 242.4C1689.5 239.5 1667.3 237.8 1653.1 236.9C1638.8 236.0 1624.3 239.6 1612.0 236.9C1599.7 234.1 1587.4 225.0 1579.2 220.5C1571.0 215.9 1565.1 205.0 1562.8 209.5Z" fill="url(#rgB)" stroke="#076590" stroke-width="1.3" stroke-opacity="0.9" fill-opacity="1.0" filter="url(#rim)"/>
<path d="M1691.3 198.6C1687.2 205.0 1691.3 219.9 1694.1 225.9C1696.8 232.0 1702.3 234.1 1707.7 234.7C1713.2 235.2 1721.6 232.9 1726.9 229.2C1732.2 225.6 1737.5 217.9 1739.5 212.8C1741.4 207.7 1741.8 202.8 1738.4 198.6C1734.9 194.4 1726.5 187.7 1718.7 187.7C1710.8 187.7 1695.4 192.2 1691.3 198.6Z" fill="url(#rgG)" stroke="#3f822c" stroke-width="1.3" stroke-opacity="0.9" fill-opacity="1.0" filter="url(#rim)"/>
<path d="M1694.1 204.1C1691.3 207.3 1695.9 221.4 1699.5 225.9C1703.2 230.5 1710.5 232.3 1715.9 231.4C1721.4 230.5 1729.2 225.0 1732.4 220.5C1735.5 215.9 1737.8 206.3 1735.1 204.1C1732.4 201.8 1722.8 206.8 1715.9 206.8C1709.1 206.8 1696.8 200.9 1694.1 204.1Z" fill="#1f4d12" fill-opacity="0.22" filter="url(#shb)"/>
<path d="M1715.9 116.6C1713.4 120.2 1718.6 132.9 1721.4 138.4C1724.2 144.0 1729.8 150.8 1732.9 149.9C1736.0 149.0 1739.4 138.5 1740.0 133.0C1740.6 127.4 1740.5 119.3 1736.5 116.6C1732.4 113.8 1718.5 112.9 1715.9 116.6Z" fill="url(#rgB)" stroke="#076590" stroke-width="1.3" stroke-opacity="0.9" fill-opacity="1.0" filter="url(#rim)"/>
<path d="M1664.0 97.4C1664.4 92.0 1665.8 83.3 1669.5 78.3C1673.1 73.3 1679.9 69.5 1685.9 67.3C1691.8 65.2 1698.6 64.5 1705.0 65.2C1711.4 65.8 1718.7 67.9 1724.1 71.4C1729.6 75.0 1735.2 80.8 1737.8 86.5C1740.5 92.2 1740.9 99.7 1740.0 105.6C1739.1 111.6 1735.9 117.7 1732.4 122.0C1728.8 126.4 1724.1 130.0 1718.7 131.9C1713.2 133.8 1705.9 134.7 1699.5 133.5C1693.2 132.3 1685.9 128.5 1680.4 124.8C1674.9 121.0 1669.5 115.7 1666.7 111.1C1664.0 106.5 1663.5 102.9 1664.0 97.4Z" fill="url(#rgG)" stroke="#3f822c" stroke-width="1.3" stroke-opacity="0.9" fill-opacity="1.0" filter="url(#rim)"/>
<ellipse cx="1718.7" cy="82.4" rx="4.4" ry="1.9" transform="rotate(-30 1718.7 82.4)" fill="#fff" fill-opacity="0.8" filter="url(#hlb)"/>
<ellipse cx="1705.0" cy="97.4" rx="3.3" ry="1.6" transform="rotate(0 1705.0 97.4)" fill="#fff" fill-opacity="0.7" filter="url(#hlb)"/>
<path d="M1583.3 133.0C1583.3 126.0 1584.9 119.1 1588.8 113.8C1592.7 108.6 1599.5 104.3 1606.6 101.5C1613.6 98.8 1622.5 97.4 1631.2 97.4C1639.8 97.4 1649.9 99.2 1658.5 101.5C1667.2 103.8 1675.4 107.2 1683.1 111.1C1690.9 115.0 1698.2 119.8 1705.0 124.8C1711.8 129.8 1718.9 135.3 1724.1 141.2C1729.4 147.1 1733.9 153.5 1736.5 160.3C1739.0 167.2 1740.1 175.4 1739.5 182.2C1738.8 189.0 1736.3 196.7 1732.4 201.3C1728.4 206.0 1722.3 209.1 1715.9 210.1C1709.6 211.1 1701.4 209.6 1694.1 207.4C1686.8 205.1 1679.5 200.5 1672.2 196.4C1664.9 192.3 1658.1 186.4 1650.3 182.7C1642.6 179.1 1633.5 176.8 1625.7 174.5C1618.0 172.3 1610.0 172.3 1603.8 169.1C1597.7 165.9 1592.2 161.4 1588.8 155.4C1585.4 149.4 1583.3 139.9 1583.3 133.0Z" fill="url(#rgB)" stroke="#076590" stroke-width="1.3" stroke-opacity="0.9" fill-opacity="1.0" filter="url(#rim)"/>
<ellipse cx="1628.4" cy="130.2" rx="10.9" ry="1.9" transform="rotate(5 1628.4 130.2)" fill="#fff" fill-opacity="0.8" filter="url(#hlb)"/>
<ellipse cx="1603.8" cy="152.1" rx="2.7" ry="1.9" transform="rotate(0 1603.8 152.1)" fill="#fff" fill-opacity="0.8" filter="url(#hlb)"/>
<ellipse cx="1653.1" cy="163.1" rx="3.8" ry="2.2" transform="rotate(30 1653.1 163.1)" fill="#fff" fill-opacity="0.8" filter="url(#hlb)"/>
<ellipse cx="1699.5" cy="165.8" rx="1.9" ry="5.5" transform="rotate(-35 1699.5 165.8)" fill="#fff" fill-opacity="0.7" filter="url(#hlb)"/>
<ellipse cx="1687.2" cy="189.0" rx="2.7" ry="1.9" transform="rotate(20 1687.2 189.0)" fill="#fff" fill-opacity="0.8" filter="url(#hlb)"/>
<ellipse cx="1661.3" cy="141.2" rx="1.9" ry="3.8" transform="rotate(-50 1661.3 141.2)" fill="#fff" fill-opacity="0.5" filter="url(#hlb)"/>
<path d="M1592.9 149.4C1592.9 144.8 1603.4 133.9 1612.0 130.2C1620.7 126.6 1633.9 126.1 1644.8 127.5C1655.8 128.9 1673.1 133.9 1677.7 138.4C1682.2 143.0 1678.6 153.0 1672.2 154.8C1665.8 156.7 1649.4 148.9 1639.4 149.4C1629.4 149.8 1619.8 157.6 1612.0 157.6C1604.3 157.6 1592.9 153.9 1592.9 149.4Z" fill="#03324d" fill-opacity="0.1" filter="url(#shb)"/>
<path d="M1562.8 195.9C1563.5 189.9 1564.6 183.8 1568.3 179.5C1571.9 175.1 1577.9 171.7 1584.7 169.9C1591.5 168.1 1601.1 167.4 1609.3 168.5C1617.5 169.7 1625.7 173.1 1633.9 176.7C1642.1 180.4 1650.3 184.9 1658.5 190.4C1666.7 195.9 1676.8 203.2 1683.1 209.5C1689.5 215.9 1694.7 222.8 1696.8 228.7C1698.9 234.6 1698.4 240.5 1695.7 245.1C1693.0 249.6 1687.5 253.2 1680.4 256.0C1673.3 258.8 1663.1 261.0 1653.1 262.0C1643.0 263.0 1630.3 263.5 1620.2 262.0C1610.2 260.6 1600.6 257.5 1592.9 253.3C1585.1 249.1 1578.5 243.3 1573.8 236.9C1569.0 230.5 1566.0 221.8 1564.2 215.0C1562.4 208.2 1562.1 201.8 1562.8 195.9Z" fill="url(#rgG)" stroke="#3f822c" stroke-width="1.3" stroke-opacity="0.9" fill-opacity="1.0" filter="url(#rim)"/>
<ellipse cx="1644.8" cy="198.6" rx="7.7" ry="1.9" transform="rotate(30 1644.8 198.6)" fill="#fff" fill-opacity="0.8" filter="url(#hlb)"/>
<ellipse cx="1624.3" cy="220.5" rx="2.7" ry="2.2" transform="rotate(0 1624.3 220.5)" fill="#fff" fill-opacity="0.8" filter="url(#hlb)"/>
<ellipse cx="1595.6" cy="228.7" rx="1.9" ry="3.3" transform="rotate(20 1595.6 228.7)" fill="#fff" fill-opacity="0.7" filter="url(#hlb)"/>
<ellipse cx="1612.0" cy="247.8" rx="1.9" ry="1.9" transform="rotate(0 1612.0 247.8)" fill="#fff" fill-opacity="0.6" filter="url(#hlb)"/>
<path d="M1691.3 250.6L1698.2 261.5" stroke="#e4e4e4" stroke-width="6.0" stroke-linecap="round"/>
<path d="M1691.3 250.6L1698.2 261.5" stroke="#fff" stroke-opacity="0.3" stroke-width="1.8" stroke-linecap="round"/>
<ellipse cx="1698.2" cy="261.5" rx="5.5" ry="5.5" fill="url(#aH)"/>
<ellipse cx="1602.5" cy="265.6" rx="4.9" ry="4.9" fill="url(#aH)"/>
<ellipse cx="1795.2" cy="143.4" rx="10.9" ry="10.4" transform="rotate(0 1795.2 143.4)" fill="url(#rgB)" stroke="#076590" stroke-width="1.3" stroke-opacity="0.9" fill-opacity="1.0" filter="url(#rim)"/>
<path d="M1766.5 160.3C1767.7 155.8 1770.0 149.6 1773.4 146.6C1776.8 143.7 1782.5 141.6 1787.0 142.5C1791.6 143.5 1797.9 148.2 1800.7 152.1C1803.5 156.0 1804.9 160.8 1804.0 165.8C1803.1 170.8 1799.0 178.0 1795.2 182.2C1791.5 186.4 1785.7 190.5 1781.6 190.9C1777.5 191.4 1773.1 187.8 1770.6 184.9C1768.1 182.1 1767.2 178.1 1766.5 174.0C1765.8 169.9 1765.4 164.9 1766.5 160.3Z" fill="url(#rgG)" stroke="#3f822c" stroke-width="1.3" stroke-opacity="0.9" fill-opacity="1.0" filter="url(#rim)"/>
<ellipse cx="1782.9" cy="158.9" rx="1.9" ry="2.7" transform="rotate(0 1782.9 158.9)" fill="#fff" fill-opacity="0.7" filter="url(#hlb)"/>
<ellipse cx="1773.4" cy="105.6" rx="9.3" ry="9.3" fill="url(#aC)"/>
<path d="M1759.7 231.4C1759.7 225.0 1760.2 218.2 1762.4 212.3C1764.7 206.3 1768.8 197.7 1773.4 195.9C1777.9 194.0 1784.8 197.7 1789.8 201.3C1794.8 205.0 1800.2 211.8 1803.4 217.7C1806.7 223.7 1810.4 231.0 1809.5 236.9C1808.6 242.8 1803.5 249.1 1798.0 253.3C1792.4 257.5 1782.0 262.5 1776.1 262.0C1770.2 261.6 1765.2 255.7 1762.4 250.6C1759.7 245.5 1759.7 237.8 1759.7 231.4Z" fill="url(#rgB)" stroke="#076590" stroke-width="1.3" stroke-opacity="0.9" fill-opacity="1.0" filter="url(#rim)"/>
<ellipse cx="1784.3" cy="215.0" rx="1.9" ry="3.8" transform="rotate(-20 1784.3 215.0)" fill="#fff" fill-opacity="0.6" filter="url(#hlb)"/>
<path d="M1758.3 191.8L1771.3 217.1" stroke="#b39a72" stroke-width="6.6" stroke-linecap="round"/>
<path d="M1771.3 217.1L1784.3 242.4" stroke="#e6d22e" stroke-width="6.6" stroke-linecap="round"/>
<path d="M1758.3 191.8L1784.3 242.4" stroke="#fff" stroke-opacity="0.3" stroke-width="2.0" stroke-linecap="round"/>
<path d="M1784.3 242.4L1817.1 232.8" stroke="#e6d22e" stroke-width="6.6" stroke-linecap="round"/>
<path d="M1784.3 242.4L1817.1 232.8" stroke="#fff" stroke-opacity="0.3" stroke-width="2.0" stroke-linecap="round"/>
<ellipse cx="1758.3" cy="191.8" rx="9.6" ry="9.6" fill="url(#aC)"/>
<ellipse cx="1795.2" cy="264.8" rx="26.0" ry="21.3" transform="rotate(0 1795.2 264.8)" fill="url(#rgG)" stroke="#3f822c" stroke-width="1.3" stroke-opacity="0.9" fill-opacity="1.0" filter="url(#rim)"/>
<ellipse cx="1800.7" cy="251.9" rx="2.2" ry="1.6" transform="rotate(0 1800.7 251.9)" fill="#fff" fill-opacity="0.8" filter="url(#hlb)"/>
<ellipse cx="1787.0" cy="269.7" rx="2.2" ry="1.6" transform="rotate(0 1787.0 269.7)" fill="#fff" fill-opacity="0.7" filter="url(#hlb)"/>
<path d="M1826.7 154.8C1827.1 149.4 1830.1 146.9 1833.5 143.9C1836.9 140.9 1842.2 137.5 1847.2 137.1C1852.2 136.6 1859.7 138.2 1863.6 141.2C1867.5 144.1 1869.8 149.8 1870.7 154.8C1871.6 159.9 1875.7 167.6 1869.1 171.3C1862.4 174.9 1837.9 179.5 1830.8 176.7C1823.7 174.0 1826.2 160.3 1826.7 154.8Z" fill="url(#rgG)" stroke="#3f822c" stroke-width="1.3" stroke-opacity="0.9" fill-opacity="1.0" filter="url(#rim)"/>
<path d="M1828.6 204.1C1827.2 207.7 1829.1 220.5 1830.8 225.9C1832.5 231.4 1836.3 236.0 1839.0 236.9C1841.7 237.8 1847.2 236.9 1847.2 231.4C1847.2 225.9 1842.1 208.6 1839.0 204.1C1835.9 199.5 1830.0 200.4 1828.6 204.1Z" fill="url(#rgG)" stroke="#3f822c" stroke-width="1.3" stroke-opacity="0.9" fill-opacity="1.0" filter="url(#rim)"/>
<path d="M1825.3 168.5C1825.3 162.1 1827.6 158.0 1830.8 154.8C1834.0 151.7 1839.9 149.8 1844.5 149.4C1849.0 148.9 1854.2 149.8 1858.1 152.1C1862.1 154.4 1865.9 158.0 1868.0 163.1C1870.1 168.1 1869.6 175.8 1870.7 182.2C1871.8 188.6 1872.7 195.4 1874.5 201.3C1876.4 207.3 1880.7 212.7 1881.7 217.7C1882.6 222.8 1882.1 227.5 1880.0 231.4C1877.9 235.3 1873.6 239.6 1869.1 241.3C1864.5 242.9 1857.7 242.9 1852.7 241.3C1847.7 239.6 1842.4 235.8 1839.0 231.4C1835.6 227.0 1833.5 221.4 1832.2 215.0C1830.8 208.6 1831.9 200.9 1830.8 193.1C1829.7 185.4 1825.3 174.9 1825.3 168.5Z" fill="url(#rgB)" stroke="#076590" stroke-width="1.3" stroke-opacity="0.9" fill-opacity="1.0" filter="url(#rim)"/>
<ellipse cx="1845.8" cy="171.3" rx="1.9" ry="2.7" transform="rotate(0 1845.8 171.3)" fill="#fff" fill-opacity="0.7" filter="url(#hlb)"/>
<ellipse cx="1849.9" cy="215.0" rx="1.9" ry="2.7" transform="rotate(0 1849.9 215.0)" fill="#fff" fill-opacity="0.7" filter="url(#hlb)"/>
<ellipse cx="1844.5" cy="193.1" rx="1.4" ry="6.8" transform="rotate(-5 1844.5 193.1)" fill="#fff" fill-opacity="0.5" filter="url(#hlb)"/>
<ellipse cx="1885.5" cy="130.2" rx="9.6" ry="9.6" fill="url(#aC)"/>
<ellipse cx="1900.5" cy="235.5" rx="9.6" ry="9.6" fill="url(#aC)"/>
<path d="M1915.0 141.2C1913.2 136.8 1920.0 131.4 1923.8 128.9C1927.5 126.4 1933.2 125.7 1937.4 126.1C1941.6 126.6 1946.4 128.2 1948.9 131.6C1951.4 135.0 1954.8 142.8 1952.5 146.6C1950.1 150.5 1940.9 155.8 1934.7 154.8C1928.5 153.9 1916.8 145.5 1915.0 141.2Z" fill="url(#rgB)" stroke="#076590" stroke-width="1.3" stroke-opacity="0.9" fill-opacity="1.0" filter="url(#rim)"/>
<ellipse cx="1959.3" cy="187.7" rx="6.8" ry="19.1" transform="rotate(0 1959.3 187.7)" fill="url(#rgB)" stroke="#076590" stroke-width="1.3" stroke-opacity="0.9" fill-opacity="1.0" filter="url(#rim)"/>
<path d="M1918.3 157.6C1918.1 151.2 1920.6 147.3 1923.8 143.9C1927.0 140.5 1932.9 137.3 1937.4 137.1C1942.0 136.8 1947.6 139.1 1951.1 142.5C1954.6 146.0 1957.0 151.9 1958.2 157.6C1959.4 163.3 1957.6 170.3 1958.2 176.7C1958.9 183.1 1961.0 189.9 1962.0 195.9C1963.1 201.8 1965.7 207.3 1964.8 212.3C1963.9 217.3 1960.2 223.1 1956.6 225.9C1952.9 228.8 1947.5 230.1 1942.9 229.2C1938.3 228.3 1932.4 224.7 1929.2 220.5C1926.0 216.3 1924.4 210.4 1923.8 204.1C1923.1 197.7 1926.0 189.9 1925.1 182.2C1924.2 174.4 1918.5 164.0 1918.3 157.6Z" fill="url(#rgG)" stroke="#3f822c" stroke-width="1.3" stroke-opacity="0.9" fill-opacity="1.0" filter="url(#rim)"/>
<ellipse cx="1937.4" cy="157.6" rx="1.9" ry="2.7" transform="rotate(0 1937.4 157.6)" fill="#fff" fill-opacity="0.7" filter="url(#hlb)"/>
<ellipse cx="1945.6" cy="206.8" rx="1.9" ry="3.3" transform="rotate(0 1945.6 206.8)" fill="#fff" fill-opacity="0.6" filter="url(#hlb)"/>
<path d="M411.6 546.6L361.1 541.7" stroke="#3a301f" stroke-opacity="0.7" stroke-width="10.9" stroke-linecap="round"/>
<path d="M411.6 546.6L386.3 544.1" stroke="#b39a72" stroke-width="9.1" stroke-linecap="round"/>
<path d="M386.3 544.1L361.1 541.7" stroke="#e4e4e4" stroke-width="9.1" stroke-linecap="round"/>
<path d="M411.6 546.6L361.1 541.7" stroke="#fff" stroke-opacity="0.3" stroke-width="2.7" stroke-linecap="round"/>
<path d="M411.6 546.6L419.7 487.9" stroke="#3a301f" stroke-opacity="0.7" stroke-width="10.9" stroke-linecap="round"/>
<path d="M411.6 546.6L415.6 517.2" stroke="#b39a72" stroke-width="9.1" stroke-linecap="round"/>
<path d="M415.6 517.2L419.7 487.9" stroke="#e4e4e4" stroke-width="9.1" stroke-linecap="round"/>
<path d="M411.6 546.6L419.7 487.9" stroke="#fff" stroke-opacity="0.3" stroke-width="2.7" stroke-linecap="round"/>
<path d="M411.6 546.6L442.5 527.0" stroke="#3a301f" stroke-opacity="0.7" stroke-width="10.9" stroke-linecap="round"/>
<path d="M411.6 546.6L427.0 536.8" stroke="#b39a72" stroke-width="9.1" stroke-linecap="round"/>
<path d="M427.0 536.8L442.5 527.0" stroke="#e4e4e4" stroke-width="9.1" stroke-linecap="round"/>
<path d="M411.6 546.6L442.5 527.0" stroke="#fff" stroke-opacity="0.3" stroke-width="2.7" stroke-linecap="round"/>
<path d="M540.3 600.3L535.4 523.8" stroke="#3a301f" stroke-opacity="0.7" stroke-width="10.9" stroke-linecap="round"/>
<path d="M540.3 600.3L537.8 562.0" stroke="#b39a72" stroke-width="9.1" stroke-linecap="round"/>
<path d="M537.8 562.0L535.4 523.8" stroke="#e4e4e4" stroke-width="9.1" stroke-linecap="round"/>
<path d="M540.3 600.3L535.4 523.8" stroke="#fff" stroke-opacity="0.3" stroke-width="2.7" stroke-linecap="round"/>
<path d="M595.6 632.9L634.7 587.3" stroke="#3a301f" stroke-opacity="0.7" stroke-width="10.9" stroke-linecap="round"/>
<path d="M595.6 632.9L615.2 610.1" stroke="#b39a72" stroke-width="9.1" stroke-linecap="round"/>
<path d="M615.2 610.1L634.7 587.3" stroke="#e4e4e4" stroke-width="9.1" stroke-linecap="round"/>
<path d="M595.6 632.9L634.7 587.3" stroke="#fff" stroke-opacity="0.3" stroke-width="2.7" stroke-linecap="round"/>
<path d="M602.1 727.4L641.2 746.9" stroke="#3a301f" stroke-opacity="0.7" stroke-width="10.9" stroke-linecap="round"/>
<path d="M602.1 727.4L621.7 737.1" stroke="#b39a72" stroke-width="9.1" stroke-linecap="round"/>
<path d="M621.7 737.1L641.2 746.9" stroke="#e4e4e4" stroke-width="9.1" stroke-linecap="round"/>
<path d="M602.1 727.4L641.2 746.9" stroke="#fff" stroke-opacity="0.3" stroke-width="2.7" stroke-linecap="round"/>
<path d="M551.7 782.7L554.9 847.9" stroke="#3a301f" stroke-opacity="0.7" stroke-width="10.9" stroke-linecap="round"/>
<path d="M551.7 782.7L553.3 815.3" stroke="#b39a72" stroke-width="9.1" stroke-linecap="round"/>
<path d="M553.3 815.3L554.9 847.9" stroke="#e4e4e4" stroke-width="9.1" stroke-linecap="round"/>
<path d="M551.7 782.7L554.9 847.9" stroke="#fff" stroke-opacity="0.3" stroke-width="2.7" stroke-linecap="round"/>
<path d="M295.9 808.8L305.7 844.6" stroke="#3a301f" stroke-opacity="0.7" stroke-width="10.9" stroke-linecap="round"/>
<path d="M295.9 808.8L300.8 826.7" stroke="#b39a72" stroke-width="9.1" stroke-linecap="round"/>
<path d="M300.8 826.7L305.7 844.6" stroke="#e4e4e4" stroke-width="9.1" stroke-linecap="round"/>
<path d="M295.9 808.8L305.7 844.6" stroke="#fff" stroke-opacity="0.3" stroke-width="2.7" stroke-linecap="round"/>
<path d="M201.4 821.8L188.4 847.9" stroke="#3a301f" stroke-opacity="0.7" stroke-width="10.9" stroke-linecap="round"/>
<path d="M201.4 821.8L194.9 834.9" stroke="#b39a72" stroke-width="9.1" stroke-linecap="round"/>
<path d="M194.9 834.9L188.4 847.9" stroke="#e4e4e4" stroke-width="9.1" stroke-linecap="round"/>
<path d="M201.4 821.8L188.4 847.9" stroke="#fff" stroke-opacity="0.3" stroke-width="2.7" stroke-linecap="round"/>
<path d="M489.8 658.9L540.3 600.3" stroke="#3a301f" stroke-opacity="0.7" stroke-width="11.6" stroke-linecap="round"/>
<path d="M489.8 658.9L540.3 600.3" stroke="#b39a72" stroke-width="9.8" stroke-linecap="round"/>
<path d="M489.8 658.9L540.3 600.3" stroke="#fff" stroke-opacity="0.3" stroke-width="2.9" stroke-linecap="round"/>
<path d="M540.3 600.3L595.6 632.9" stroke="#3a301f" stroke-opacity="0.7" stroke-width="11.6" stroke-linecap="round"/>
<path d="M540.3 600.3L595.6 632.9" stroke="#b39a72" stroke-width="9.8" stroke-linecap="round"/>
<path d="M540.3 600.3L595.6 632.9" stroke="#fff" stroke-opacity="0.3" stroke-width="2.9" stroke-linecap="round"/>
<path d="M595.6 632.9L602.1 727.4" stroke="#3a301f" stroke-opacity="0.7" stroke-width="11.6" stroke-linecap="round"/>
<path d="M595.6 632.9L602.1 727.4" stroke="#b39a72" stroke-width="9.8" stroke-linecap="round"/>
<path d="M595.6 632.9L602.1 727.4" stroke="#fff" stroke-opacity="0.3" stroke-width="2.9" stroke-linecap="round"/>
<path d="M602.1 727.4L551.7 782.7" stroke="#3a301f" stroke-opacity="0.7" stroke-width="11.6" stroke-linecap="round"/>
<path d="M602.1 727.4L551.7 782.7" stroke="#b39a72" stroke-width="9.8" stroke-linecap="round"/>
<path d="M602.1 727.4L551.7 782.7" stroke="#fff" stroke-opacity="0.3" stroke-width="2.9" stroke-linecap="round"/>
<path d="M551.7 782.7L497.9 750.2" stroke="#3a301f" stroke-opacity="0.7" stroke-width="11.6" stroke-linecap="round"/>
<path d="M551.7 782.7L497.9 750.2" stroke="#b39a72" stroke-width="9.8" stroke-linecap="round"/>
<path d="M551.7 782.7L497.9 750.2" stroke="#fff" stroke-opacity="0.3" stroke-width="2.9" stroke-linecap="round"/>
<path d="M497.9 750.2L489.8 658.9" stroke="#3a301f" stroke-opacity="0.7" stroke-width="11.6" stroke-linecap="round"/>
<path d="M497.9 750.2L489.8 658.9" stroke="#b39a72" stroke-width="9.8" stroke-linecap="round"/>
<path d="M497.9 750.2L489.8 658.9" stroke="#fff" stroke-opacity="0.3" stroke-width="2.9" stroke-linecap="round"/>
<path d="M411.6 546.6L419.7 577.5" stroke="#3a301f" stroke-opacity="0.7" stroke-width="11.6" stroke-linecap="round"/>
<path d="M411.6 546.6L419.7 577.5" stroke="#b39a72" stroke-width="9.8" stroke-linecap="round"/>
<path d="M411.6 546.6L419.7 577.5" stroke="#fff" stroke-opacity="0.3" stroke-width="2.9" stroke-linecap="round"/>
<path d="M465.3 652.4L489.8 658.9" stroke="#3a301f" stroke-opacity="0.7" stroke-width="11.6" stroke-linecap="round"/>
<path d="M465.3 652.4L489.8 658.9" stroke="#b39a72" stroke-width="9.8" stroke-linecap="round"/>
<path d="M465.3 652.4L489.8 658.9" stroke="#fff" stroke-opacity="0.3" stroke-width="2.9" stroke-linecap="round"/>
<path d="M224.2 658.9L211.2 681.8" stroke="#3a301f" stroke-opacity="0.7" stroke-width="11.6" stroke-linecap="round"/>
<path d="M224.2 658.9L211.2 681.8" stroke="#b39a72" stroke-width="9.8" stroke-linecap="round"/>
<path d="M224.2 658.9L211.2 681.8" stroke="#fff" stroke-opacity="0.3" stroke-width="2.9" stroke-linecap="round"/>
<path d="M426.2 799.0L497.9 750.2" stroke="#3a301f" stroke-opacity="0.7" stroke-width="10.9" stroke-linecap="round"/>
<path d="M426.2 799.0L462.1 774.6" stroke="#e6d22e" stroke-width="9.1" stroke-linecap="round"/>
<path d="M462.1 774.6L497.9 750.2" stroke="#b39a72" stroke-width="9.1" stroke-linecap="round"/>
<path d="M426.2 799.0L497.9 750.2" stroke="#fff" stroke-opacity="0.3" stroke-width="2.7" stroke-linecap="round"/>
<ellipse cx="361.1" cy="541.7" rx="9.8" ry="10.3" fill="url(#aH)" stroke="#2a2418" stroke-width="1.2" stroke-opacity="0.75"/>
<ellipse cx="419.7" cy="487.9" rx="9.1" ry="9.6" fill="url(#aH)" stroke="#2a2418" stroke-width="1.2" stroke-opacity="0.75"/>
<ellipse cx="442.5" cy="527.0" rx="10.4" ry="10.9" fill="url(#aH)" stroke="#2a2418" stroke-width="1.2" stroke-opacity="0.75"/>
<ellipse cx="535.4" cy="523.8" rx="9.8" ry="10.3" fill="url(#aH)" stroke="#2a2418" stroke-width="1.2" stroke-opacity="0.75"/>
<ellipse cx="634.7" cy="587.3" rx="9.8" ry="10.3" fill="url(#aH)" stroke="#2a2418" stroke-width="1.2" stroke-opacity="0.75"/>
<ellipse cx="641.2" cy="746.9" rx="9.8" ry="10.3" fill="url(#aH)" stroke="#2a2418" stroke-width="1.2" stroke-opacity="0.75"/>
<ellipse cx="554.9" cy="847.9" rx="9.1" ry="9.6" fill="url(#aH)" stroke="#2a2418" stroke-width="1.2" stroke-opacity="0.75"/>
<ellipse cx="305.7" cy="844.6" rx="9.8" ry="10.3" fill="url(#aH)" stroke="#2a2418" stroke-width="1.2" stroke-opacity="0.75"/>
<ellipse cx="188.4" cy="847.9" rx="9.8" ry="10.3" fill="url(#aH)" stroke="#2a2418" stroke-width="1.2" stroke-opacity="0.75"/>
<ellipse cx="149.3" cy="711.1" rx="9.1" ry="9.6" fill="url(#aH)" stroke="#2a2418" stroke-width="1.2" stroke-opacity="0.75"/>
<ellipse cx="411.6" cy="546.6" rx="15.6" ry="22.8" fill="url(#aC)" stroke="#2a2418" stroke-width="1.2" stroke-opacity="0.75"/>
<ellipse cx="489.8" cy="658.9" rx="14.7" ry="21.2" fill="url(#aC)" stroke="#2a2418" stroke-width="1.2" stroke-opacity="0.75"/>
<ellipse cx="540.3" cy="600.3" rx="14.7" ry="20.2" fill="url(#aC)" stroke="#2a2418" stroke-width="1.2" stroke-opacity="0.75"/>
<ellipse cx="595.6" cy="632.9" rx="14.7" ry="21.2" fill="url(#aC)" stroke="#2a2418" stroke-width="1.2" stroke-opacity="0.75"/>
<ellipse cx="602.1" cy="727.4" rx="13.7" ry="21.5" fill="url(#aC)" stroke="#2a2418" stroke-width="1.2" stroke-opacity="0.75"/>
<ellipse cx="551.7" cy="782.7" rx="14.7" ry="21.5" fill="url(#aC)" stroke="#2a2418" stroke-width="1.2" stroke-opacity="0.75"/>
<ellipse cx="497.9" cy="750.2" rx="14.7" ry="20.2" fill="url(#aC)" stroke="#2a2418" stroke-width="1.2" stroke-opacity="0.75"/>
<path d="M413.2 769.7L426.2 799.0" stroke="#3a301f" stroke-opacity="0.7" stroke-width="9.0" stroke-linecap="round"/>
<path d="M413.2 769.7L426.2 799.0" stroke="#e6d22e" stroke-width="7.2" stroke-linecap="round"/>
<path d="M413.2 769.7L426.2 799.0" stroke="#fff" stroke-opacity="0.3" stroke-width="2.2" stroke-linecap="round"/>
<path d="M198.2 825.1C194.4 831.1 200.4 839.1 204.7 844.6C209.0 850.2 216.6 856.6 224.2 858.3C231.8 860.1 243.1 859.0 250.3 855.1C257.5 851.2 265.1 842.6 267.3 834.9C269.4 827.2 270.0 813.2 263.3 808.8C256.7 804.5 238.4 806.1 227.5 808.8C216.6 811.5 202.0 819.1 198.2 825.1Z" fill="url(#rgb)" stroke="#064a66" stroke-width="1.3" stroke-opacity="0.9" fill-opacity="0.95" filter="url(#rim)"/>
<path d="M158.4 691.5C158.7 685.6 159.0 676.9 162.4 672.0C165.7 667.1 172.7 663.3 178.6 662.2C184.6 661.1 192.8 662.2 198.2 665.5C203.6 668.7 208.4 675.2 211.2 681.8C214.0 688.3 215.7 697.0 215.1 704.6C214.6 712.2 211.9 722.4 208.0 727.4C204.1 732.4 197.6 735.1 191.7 734.5C185.7 734.0 177.3 728.6 172.1 724.1C167.0 719.7 163.0 713.2 160.7 707.8C158.4 702.4 158.2 697.5 158.4 691.5Z" fill="url(#rgg)" stroke="#264e1c" stroke-width="1.3" stroke-opacity="0.9" fill-opacity="0.93" filter="url(#rim)"/>
<ellipse cx="190.0" cy="698.0" rx="2.0" ry="2.3" transform="rotate(0 190.0 698.0)" fill="#fff" fill-opacity="0.5" filter="url(#hlb)"/>
<path d="M168.9 756.7C169.4 748.5 168.9 735.2 172.1 727.4C175.4 719.5 181.4 713.0 188.4 709.4C195.5 705.9 206.3 704.8 214.5 706.2C222.6 707.5 230.8 711.9 237.3 717.6C243.8 723.3 250.0 731.7 253.6 740.4C257.2 749.1 258.8 759.9 258.8 769.7C258.8 779.5 256.6 790.9 253.6 799.0C250.5 807.2 246.5 814.1 240.5 818.6C234.6 823.0 225.3 825.7 217.7 825.7C210.1 825.7 201.7 823.6 194.9 818.6C188.1 813.6 181.4 802.8 177.0 795.8C172.7 788.7 170.2 782.7 168.9 776.2C167.5 769.7 168.3 764.8 168.9 756.7Z" fill="url(#rgb)" stroke="#064a66" stroke-width="1.3" stroke-opacity="0.9" fill-opacity="0.95" filter="url(#rim)"/>
<ellipse cx="208.6" cy="773.0" rx="2.3" ry="2.6" transform="rotate(0 208.6 773.0)" fill="#fff" fill-opacity="0.8" filter="url(#hlb)"/>
<ellipse cx="227.5" cy="745.3" rx="2.0" ry="2.6" transform="rotate(0 227.5 745.3)" fill="#fff" fill-opacity="0.7" filter="url(#hlb)"/>
<ellipse cx="190.0" cy="810.4" rx="2.0" ry="2.6" transform="rotate(0 190.0 810.4)" fill="#fff" fill-opacity="0.7" filter="url(#hlb)"/>
<ellipse cx="217.7" cy="730.6" rx="2.0" ry="2.0" transform="rotate(0 217.7 730.6)" fill="#fff" fill-opacity="0.6" filter="url(#hlb)"/>
<ellipse cx="328.5" cy="616.6" rx="30.0" ry="21.5" transform="rotate(0 328.5 616.6)" fill="url(#rgb)" stroke="#064a66" stroke-width="1.3" stroke-opacity="0.9" fill-opacity="0.95" filter="url(#rim)"/>
<path d="M297.5 551.4C298.1 543.8 299.4 534.6 302.4 528.6C305.4 522.7 310.6 518.3 315.5 515.6C320.4 512.9 326.3 511.8 331.8 512.4C337.2 512.9 343.4 514.5 348.0 518.9C352.7 523.2 357.4 530.8 359.4 538.4C361.5 546.0 361.2 556.3 360.4 564.5C359.6 572.6 357.7 580.8 354.6 587.3C351.4 593.8 346.4 600.2 341.5 603.6C336.6 606.9 330.7 608.6 325.2 607.5C319.8 606.4 313.3 602.6 308.9 597.1C304.6 591.5 301.1 581.8 299.2 574.2C297.3 566.6 297.0 559.0 297.5 551.4Z" fill="url(#rgb)" stroke="#064a66" stroke-width="1.3" stroke-opacity="0.9" fill-opacity="0.95" filter="url(#rim)"/>
<ellipse cx="328.5" cy="556.3" rx="2.0" ry="2.6" transform="rotate(0 328.5 556.3)" fill="#fff" fill-opacity="0.8" filter="url(#hlb)"/>
<ellipse cx="339.9" cy="533.5" rx="1.6" ry="3.3" transform="rotate(0 339.9 533.5)" fill="#fff" fill-opacity="0.6" filter="url(#hlb)"/>
<path d="M310.6 611.7L317.1 603.6" stroke="#3a301f" stroke-opacity="0.7" stroke-width="7.7" stroke-linecap="round"/>
<path d="M310.6 611.7L317.1 603.6" stroke="#d22" stroke-width="5.9" stroke-linecap="round"/>
<path d="M310.6 611.7L317.1 603.6" stroke="#fff" stroke-opacity="0.3" stroke-width="1.8" stroke-linecap="round"/>
<path d="M256.8 590.5C258.5 588.1 267.7 587.3 273.1 588.9C278.5 590.5 287.8 596.8 289.4 600.3C291.0 603.8 287.2 609.5 282.9 610.1C278.5 610.6 267.7 606.8 263.3 603.6C259.0 600.3 255.2 593.0 256.8 590.5Z" fill="url(#rgg)" stroke="#264e1c" stroke-width="1.3" stroke-opacity="0.9" fill-opacity="0.93" filter="url(#rim)"/>
<path d="M221.0 665.5C217.7 672.5 224.8 688.7 230.8 694.8C236.7 700.9 248.1 702.0 256.8 702.0C265.5 702.0 278.5 700.9 282.9 694.8C287.2 688.7 288.3 672.5 282.9 665.5C277.5 658.4 260.6 652.4 250.3 652.4C240.0 652.4 224.2 658.4 221.0 665.5Z" fill="url(#rgb)" stroke="#064a66" stroke-width="1.3" stroke-opacity="0.9" fill-opacity="0.95" filter="url(#rim)"/>
<path d="M312.2 737.1C306.8 743.1 312.8 756.6 315.5 763.2C318.2 769.8 323.1 775.7 328.5 776.9C333.9 778.1 343.6 774.8 348.0 770.4C352.5 765.9 355.2 757.3 355.2 750.2C355.2 743.0 355.2 729.5 348.0 727.4C340.9 725.2 317.6 731.2 312.2 737.1Z" fill="url(#rgb)" stroke="#064a66" stroke-width="1.3" stroke-opacity="0.9" fill-opacity="0.95" filter="url(#rim)"/>
<path d="M201.4 616.6C200.6 608.5 203.1 599.8 206.3 593.8C209.6 587.8 215.3 583.5 221.0 580.8C226.7 578.0 234.0 577.0 240.5 577.5C247.1 578.0 254.1 580.8 260.1 584.0C266.1 587.3 270.4 592.7 276.4 597.1C282.3 601.4 288.9 605.7 295.9 610.1C303.0 614.4 311.1 617.7 318.7 623.1C326.3 628.5 335.0 635.1 341.5 642.7C348.0 650.3 354.8 659.5 357.8 668.7C360.9 678.0 360.9 688.8 359.8 698.0C358.7 707.3 356.0 717.5 351.3 724.1C346.6 730.7 338.3 736.0 331.8 737.8C325.2 739.5 318.2 737.8 312.2 734.5C306.2 731.3 300.3 724.3 295.9 718.2C291.6 712.2 288.9 704.7 286.1 698.0C283.4 691.4 282.3 685.0 279.6 678.5C276.9 672.0 274.7 663.3 269.9 658.9C265.0 654.6 257.4 653.0 250.3 652.4C243.3 651.9 234.0 657.3 227.5 655.7C221.0 654.1 215.6 649.2 211.2 642.7C206.9 636.1 202.3 624.7 201.4 616.6Z" fill="url(#rgb)" stroke="#064a66" stroke-width="1.3" stroke-opacity="0.9" fill-opacity="0.95" filter="url(#rim)"/>
<ellipse cx="242.2" cy="618.2" rx="3.9" ry="2.0" transform="rotate(0 242.2 618.2)" fill="#fff" fill-opacity="0.7" filter="url(#hlb)"/>
<ellipse cx="217.7" cy="642.7" rx="2.0" ry="2.6" transform="rotate(0 217.7 642.7)" fill="#fff" fill-opacity="0.7" filter="url(#hlb)"/>
<ellipse cx="318.7" cy="681.8" rx="2.0" ry="2.9" transform="rotate(0 318.7 681.8)" fill="#fff" fill-opacity="0.8" filter="url(#hlb)"/>
<ellipse cx="304.1" cy="714.3" rx="2.0" ry="2.9" transform="rotate(0 304.1 714.3)" fill="#fff" fill-opacity="0.7" filter="url(#hlb)"/>
<ellipse cx="292.7" cy="675.2" rx="1.6" ry="2.6" transform="rotate(0 292.7 675.2)" fill="#fff" fill-opacity="0.6" filter="url(#hlb)"/>
<ellipse cx="245.4" cy="667.1" rx="3.3" ry="2.0" transform="rotate(0 245.4 667.1)" fill="#fff" fill-opacity="0.6" filter="url(#hlb)"/>
<path d="M322.0 632.9C323.3 628.5 328.0 625.3 331.8 626.4C335.6 627.5 342.1 634.0 344.8 639.4C347.5 644.8 349.7 654.6 348.0 658.9C346.4 663.3 339.1 666.6 335.0 665.5C330.9 664.4 325.8 657.9 323.6 652.4C321.4 647.0 320.6 637.2 322.0 632.9Z" fill="#06364f" fill-opacity="0.28" filter="url(#shb)"/>
<path d="M263.3 815.3C261.2 821.3 266.6 827.2 269.9 831.6C273.1 836.1 278.0 840.9 282.9 842.0C287.8 843.1 294.5 841.5 299.2 838.1C303.8 834.8 309.3 828.4 310.9 821.8C312.5 815.3 313.6 803.4 308.9 799.0C304.3 794.7 290.5 793.1 282.9 795.8C275.3 798.5 265.5 809.3 263.3 815.3Z" fill="url(#rgg)" stroke="#264e1c" stroke-width="1.3" stroke-opacity="0.9" fill-opacity="0.93" filter="url(#rim)"/>
<path d="M256.8 763.2C256.3 752.3 256.8 739.0 260.1 730.6C263.3 722.2 270.4 715.4 276.4 712.7C282.3 710.0 290.2 710.8 295.9 714.3C301.6 717.9 307.5 725.7 310.6 733.9C313.6 742.0 314.4 754.0 314.2 763.2C313.9 772.4 312.0 782.1 308.9 789.3C305.9 796.4 301.3 802.8 295.9 806.2C290.5 809.6 281.8 811.2 276.4 809.5C270.9 807.7 266.6 803.5 263.3 795.8C260.1 788.1 257.4 774.1 256.8 763.2Z" fill="url(#rgg)" stroke="#264e1c" stroke-width="1.3" stroke-opacity="0.9" fill-opacity="0.93" filter="url(#rim)"/>
<ellipse cx="289.4" cy="738.8" rx="2.3" ry="2.9" transform="rotate(0 289.4 738.8)" fill="#fff" fill-opacity="0.8" filter="url(#hlb)"/>
<ellipse cx="279.6" cy="768.1" rx="2.0" ry="2.6" transform="rotate(0 279.6 768.1)" fill="#fff" fill-opacity="0.7" filter="url(#hlb)"/>
<ellipse cx="268.2" cy="792.5" rx="1.6" ry="2.3" transform="rotate(0 268.2 792.5)" fill="#fff" fill-opacity="0.6" filter="url(#hlb)"/>
<path d="M406.7 652.4C403.4 655.7 409.9 666.6 413.2 672.0C416.5 677.4 420.8 682.8 426.2 685.0C431.7 687.2 444.7 690.4 445.8 685.0C446.9 679.6 439.3 657.9 432.7 652.4C426.2 647.0 409.9 649.2 406.7 652.4Z" fill="url(#rgg)" stroke="#264e1c" stroke-width="1.3" stroke-opacity="0.9" fill-opacity="0.93" filter="url(#rim)"/>
<path d="M398.5 623.1C398.0 612.3 399.9 601.4 403.4 593.8C407.0 586.2 413.2 580.5 419.7 577.5C426.2 574.5 436.0 573.2 442.5 575.9C449.0 578.6 454.7 585.9 458.8 593.8C462.9 601.7 466.2 613.3 467.3 623.1C468.4 632.9 467.3 643.7 465.3 652.4C463.4 661.1 459.9 669.7 455.5 675.2C451.2 680.8 445.2 685.1 439.3 685.7C433.3 686.2 425.1 682.9 419.7 678.5C414.3 674.0 410.2 668.2 406.7 658.9C403.2 649.7 399.1 634.0 398.5 623.1Z" fill="url(#rgg)" stroke="#264e1c" stroke-width="1.3" stroke-opacity="0.9" fill-opacity="0.93" filter="url(#rim)"/>
<ellipse cx="434.4" cy="628.0" rx="2.0" ry="2.9" transform="rotate(0 434.4 628.0)" fill="#fff" fill-opacity="0.8" filter="url(#hlb)"/>
<ellipse cx="440.9" cy="603.6" rx="2.0" ry="4.6" transform="rotate(-20 440.9 603.6)" fill="#fff" fill-opacity="0.5" filter="url(#hlb)"/>
<path d="M406.7 652.4C405.6 656.2 409.9 666.8 413.2 672.0C416.5 677.1 422.9 683.4 426.2 683.4C429.6 683.4 434.5 677.7 433.4 672.0C432.3 666.3 424.2 652.4 419.7 649.2C415.3 645.9 407.8 648.6 406.7 652.4Z" fill="url(#rgb)" stroke="#064a66" stroke-width="1.3" stroke-opacity="0.9" fill-opacity="0.95" filter="url(#rim)"/>
<path d="M346.4 704.6C346.7 691.5 347.8 680.7 351.3 672.0C354.8 663.3 361.1 656.2 367.6 652.4C374.1 648.6 383.3 647.5 390.4 649.2C397.5 650.8 404.5 655.7 409.9 662.2C415.4 668.7 420.1 678.5 423.0 688.3C425.8 698.0 427.4 710.0 426.9 720.8C426.3 731.7 423.6 744.2 419.7 753.4C415.8 762.7 409.9 770.7 403.4 776.2C396.9 781.8 387.7 786.7 380.6 786.7C373.6 786.7 366.2 782.3 361.1 776.2C355.9 770.1 352.1 762.1 349.7 750.2C347.2 738.2 346.1 717.6 346.4 704.6Z" fill="url(#rgg)" stroke="#264e1c" stroke-width="1.3" stroke-opacity="0.9" fill-opacity="0.93" filter="url(#rim)"/>
<ellipse cx="380.6" cy="719.2" rx="2.3" ry="2.9" transform="rotate(0 380.6 719.2)" fill="#fff" fill-opacity="0.8" filter="url(#hlb)"/>
<ellipse cx="361.1" cy="746.9" rx="2.0" ry="2.3" transform="rotate(0 361.1 746.9)" fill="#fff" fill-opacity="0.6" filter="url(#hlb)"/>
<path d="M377.4 662.2C377.9 657.9 385.5 654.6 390.4 655.7C395.3 656.8 402.9 662.8 406.7 668.7C410.5 674.7 413.7 686.6 413.2 691.5C412.7 696.4 407.8 699.7 403.4 698.0C399.1 696.4 391.5 687.7 387.1 681.8C382.8 675.8 376.8 666.6 377.4 662.2Z" fill="#183f10" fill-opacity="0.32" filter="url(#shb)"/>
<path d="M377.4 698.0C379.0 692.1 386.6 687.2 390.4 688.3C394.2 689.4 399.6 698.0 400.2 704.6C400.7 711.1 396.9 724.1 393.7 727.4C390.4 730.6 383.3 729.0 380.6 724.1C377.9 719.2 375.7 704.0 377.4 698.0Z" fill="#183f10" fill-opacity="0.2" filter="url(#shb)"/>
<path d="M357.8 740.4C358.9 736.6 368.1 735.0 370.8 737.1C373.6 739.3 375.2 749.6 374.1 753.4C373.0 757.2 367.0 762.1 364.3 759.9C361.6 757.8 356.7 744.2 357.8 740.4Z" fill="#183f10" fill-opacity="0.25" filter="url(#shb)"/>
<path d="M400.2 782.7C399.6 776.1 403.4 768.1 406.7 763.2C409.9 758.3 415.4 754.0 419.7 753.4C424.1 752.9 429.9 755.6 432.7 759.9C435.6 764.3 437.7 773.0 436.7 779.5C435.6 786.0 430.7 795.1 426.2 799.0C421.8 802.9 414.3 805.7 409.9 802.9C405.6 800.2 400.7 789.4 400.2 782.7Z" fill="url(#rgb)" stroke="#064a66" stroke-width="1.3" stroke-opacity="0.9" fill-opacity="0.95" filter="url(#rim)"/>
<path d="M395.3 812.1C395.3 805.4 397.2 799.0 400.2 795.8C403.2 792.5 409.9 790.3 413.2 792.5C416.5 794.7 419.7 801.6 419.7 808.8C419.7 816.0 416.5 831.1 413.2 835.5C409.9 840.0 403.2 839.4 400.2 835.5C397.2 831.6 395.3 818.7 395.3 812.1Z" fill="url(#rgg)" stroke="#264e1c" stroke-width="1.3" stroke-opacity="0.9" fill-opacity="0.93" filter="url(#rim)"/>
<path d="M432.7 773.0C433.8 768.2 441.9 767.0 445.8 768.1C449.7 769.2 455.1 774.8 456.2 779.5C457.3 784.2 455.1 793.6 452.3 796.4C449.5 799.3 442.5 800.3 439.3 796.4C436.0 792.5 431.7 777.7 432.7 773.0Z" fill="url(#rgg)" stroke="#264e1c" stroke-width="1.3" stroke-opacity="0.9" fill-opacity="0.93" filter="url(#rim)"/>
<path d="M413.2 769.7L423.0 792.5" stroke="#3a301f" stroke-opacity="0.7" stroke-width="8.3" stroke-linecap="round"/>
<path d="M413.2 769.7L423.0 792.5" stroke="#e6d22e" stroke-width="6.5" stroke-linecap="round"/>
<path d="M413.2 769.7L423.0 792.5" stroke="#fff" stroke-opacity="0.3" stroke-width="2.0" stroke-linecap="round"/>
<path d="M432.7 795.8L462.1 782.7" stroke="#3a301f" stroke-opacity="0.7" stroke-width="8.3" stroke-linecap="round"/>
<path d="M432.7 795.8L462.1 782.7" stroke="#e6d22e" stroke-width="6.5" stroke-linecap="round"/>
<path d="M432.7 795.8L462.1 782.7" stroke="#fff" stroke-opacity="0.3" stroke-width="2.0" stroke-linecap="round"/>
<path d="M405.1 844.6C405.3 835.4 406.4 823.5 409.9 815.3C413.5 807.2 419.7 799.6 426.2 795.8C432.7 792.0 442.5 790.9 449.0 792.5C455.5 794.1 461.2 799.0 465.3 805.5C469.4 812.1 472.7 822.4 473.8 831.6C474.9 840.8 474.3 851.7 471.8 860.9C469.3 870.2 464.2 880.4 458.8 887.0C453.4 893.6 445.8 899.6 439.3 900.7C432.7 901.8 424.9 898.5 419.7 893.5C414.6 888.5 410.8 878.8 408.3 870.7C405.9 862.6 404.8 853.9 405.1 844.6Z" fill="url(#rgg)" stroke="#264e1c" stroke-width="1.3" stroke-opacity="0.9" fill-opacity="0.93" filter="url(#rim)"/>
<ellipse cx="440.9" cy="846.3" rx="2.0" ry="2.9" transform="rotate(0 440.9 846.3)" fill="#fff" fill-opacity="0.8" filter="url(#hlb)"/>
<ellipse cx="458.8" cy="825.1" rx="1.6" ry="2.6" transform="rotate(0 458.8 825.1)" fill="#fff" fill-opacity="0.6" filter="url(#hlb)"/>
<ellipse cx="419.7" cy="875.6" rx="1.6" ry="2.3" transform="rotate(0 419.7 875.6)" fill="#fff" fill-opacity="0.6" filter="url(#hlb)"/>
<ellipse cx="426.2" cy="799.7" rx="11.1" ry="12.4" fill="url(#aS)"/>
<ellipse cx="540.3" cy="600.3" rx="17.9" ry="24.4" transform="rotate(0 540.3 600.3)" fill="url(#rgg)" stroke="#264e1c" stroke-width="1.3" stroke-opacity="0.9" fill-opacity="0.93" filter="url(#rim)"/>
<ellipse cx="493.0" cy="665.5" rx="8.5" ry="10.4" transform="rotate(0 493.0 665.5)" fill="url(#rgb)" stroke="#064a66" stroke-width="1.3" stroke-opacity="0.9" fill-opacity="0.95" filter="url(#rim)"/>
<ellipse cx="501.2" cy="753.4" rx="16.9" ry="21.2" transform="rotate(0 501.2 753.4)" fill="url(#rgg)" stroke="#264e1c" stroke-width="1.3" stroke-opacity="0.9" fill-opacity="0.93" filter="url(#rim)"/>
<ellipse cx="506.0" cy="743.7" rx="9.8" ry="9.8" transform="rotate(0 506.0 743.7)" fill="url(#rgb)" stroke="#064a66" stroke-width="1.3" stroke-opacity="0.9" fill-opacity="0.95" filter="url(#rim)"/>
<ellipse cx="605.4" cy="727.4" rx="14.7" ry="19.5" transform="rotate(0 605.4 727.4)" fill="url(#rgg)" stroke="#264e1c" stroke-width="1.3" stroke-opacity="0.9" fill-opacity="0.93" filter="url(#rim)"/>
<ellipse cx="553.3" cy="792.5" rx="4.6" ry="5.9" transform="rotate(0 553.3 792.5)" fill="url(#rgg)" stroke="#264e1c" stroke-width="1.3" stroke-opacity="0.9" fill-opacity="0.93" filter="url(#rim)"/>
<ellipse cx="444.1" cy="515.6" rx="4.6" ry="5.2" transform="rotate(0 444.1 515.6)" fill="url(#rgg)" stroke="#264e1c" stroke-width="1.3" stroke-opacity="0.9" fill-opacity="0.93" filter="url(#rim)"/>
<ellipse cx="188.4" cy="847.9" rx="9.8" ry="10.1" fill="url(#aH)" stroke="#2a2418" stroke-width="1.2" stroke-opacity="0.75"/>
<ellipse cx="305.7" cy="844.6" rx="9.8" ry="10.1" fill="url(#aH)" stroke="#2a2418" stroke-width="1.2" stroke-opacity="0.75"/>
<ellipse cx="149.3" cy="711.1" rx="9.1" ry="9.4" fill="url(#aH)" stroke="#2a2418" stroke-width="1.2" stroke-opacity="0.75"/>
<ellipse cx="361.1" cy="541.7" rx="9.8" ry="10.1" fill="url(#aH)" stroke="#2a2418" stroke-width="1.2" stroke-opacity="0.75"/>
<path d="M951.6 548.2L902.7 544.9" stroke="#3a301f" stroke-opacity="0.7" stroke-width="10.9" stroke-linecap="round"/>
<path d="M951.6 548.2L927.1 546.6" stroke="#b39a72" stroke-width="9.1" stroke-linecap="round"/>
<path d="M927.1 546.6L902.7 544.9" stroke="#e4e4e4" stroke-width="9.1" stroke-linecap="round"/>
<path d="M951.6 548.2L902.7 544.9" stroke="#fff" stroke-opacity="0.3" stroke-width="2.7" stroke-linecap="round"/>
<path d="M951.6 548.2L953.2 491.2" stroke="#3a301f" stroke-opacity="0.7" stroke-width="10.9" stroke-linecap="round"/>
<path d="M951.6 548.2L952.4 519.7" stroke="#b39a72" stroke-width="9.1" stroke-linecap="round"/>
<path d="M952.4 519.7L953.2 491.2" stroke="#e4e4e4" stroke-width="9.1" stroke-linecap="round"/>
<path d="M951.6 548.2L953.2 491.2" stroke="#fff" stroke-opacity="0.3" stroke-width="2.7" stroke-linecap="round"/>
<path d="M951.6 548.2L987.4 528.6" stroke="#3a301f" stroke-opacity="0.7" stroke-width="10.9" stroke-linecap="round"/>
<path d="M951.6 548.2L969.5 538.4" stroke="#b39a72" stroke-width="9.1" stroke-linecap="round"/>
<path d="M969.5 538.4L987.4 528.6" stroke="#e4e4e4" stroke-width="9.1" stroke-linecap="round"/>
<path d="M951.6 548.2L987.4 528.6" stroke="#fff" stroke-opacity="0.3" stroke-width="2.7" stroke-linecap="round"/>
<path d="M1075.4 603.6L1070.5 525.4" stroke="#3a301f" stroke-opacity="0.7" stroke-width="10.9" stroke-linecap="round"/>
<path d="M1075.4 603.6L1072.9 564.5" stroke="#b39a72" stroke-width="9.1" stroke-linecap="round"/>
<path d="M1072.9 564.5L1070.5 525.4" stroke="#e4e4e4" stroke-width="9.1" stroke-linecap="round"/>
<path d="M1075.4 603.6L1070.5 525.4" stroke="#fff" stroke-opacity="0.3" stroke-width="2.7" stroke-linecap="round"/>
<path d="M1132.4 639.4L1169.8 590.5" stroke="#3a301f" stroke-opacity="0.7" stroke-width="10.9" stroke-linecap="round"/>
<path d="M1132.4 639.4L1151.1 615.0" stroke="#b39a72" stroke-width="9.1" stroke-linecap="round"/>
<path d="M1151.1 615.0L1169.8 590.5" stroke="#e4e4e4" stroke-width="9.1" stroke-linecap="round"/>
<path d="M1132.4 639.4L1169.8 590.5" stroke="#fff" stroke-opacity="0.3" stroke-width="2.7" stroke-linecap="round"/>
<path d="M1137.3 733.9L1178.0 758.3" stroke="#3a301f" stroke-opacity="0.7" stroke-width="10.9" stroke-linecap="round"/>
<path d="M1137.3 733.9L1157.6 746.1" stroke="#b39a72" stroke-width="9.1" stroke-linecap="round"/>
<path d="M1157.6 746.1L1178.0 758.3" stroke="#e4e4e4" stroke-width="9.1" stroke-linecap="round"/>
<path d="M1137.3 733.9L1178.0 758.3" stroke="#fff" stroke-opacity="0.3" stroke-width="2.7" stroke-linecap="round"/>
<path d="M1090.0 792.5L1094.9 864.2" stroke="#3a301f" stroke-opacity="0.7" stroke-width="10.9" stroke-linecap="round"/>
<path d="M1090.0 792.5L1092.5 828.4" stroke="#b39a72" stroke-width="9.1" stroke-linecap="round"/>
<path d="M1092.5 828.4L1094.9 864.2" stroke="#e4e4e4" stroke-width="9.1" stroke-linecap="round"/>
<path d="M1090.0 792.5L1094.9 864.2" stroke="#fff" stroke-opacity="0.3" stroke-width="2.7" stroke-linecap="round"/>
<path d="M839.2 831.6L848.9 867.4" stroke="#3a301f" stroke-opacity="0.7" stroke-width="10.9" stroke-linecap="round"/>
<path d="M839.2 831.6L844.1 849.5" stroke="#b39a72" stroke-width="9.1" stroke-linecap="round"/>
<path d="M844.1 849.5L848.9 867.4" stroke="#e4e4e4" stroke-width="9.1" stroke-linecap="round"/>
<path d="M839.2 831.6L848.9 867.4" stroke="#fff" stroke-opacity="0.3" stroke-width="2.7" stroke-linecap="round"/>
<path d="M748.0 838.1L736.6 867.4" stroke="#3a301f" stroke-opacity="0.7" stroke-width="10.9" stroke-linecap="round"/>
<path d="M748.0 838.1L742.3 852.8" stroke="#b39a72" stroke-width="9.1" stroke-linecap="round"/>
<path d="M742.3 852.8L736.6 867.4" stroke="#e4e4e4" stroke-width="9.1" stroke-linecap="round"/>
<path d="M748.0 838.1L736.6 867.4" stroke="#fff" stroke-opacity="0.3" stroke-width="2.7" stroke-linecap="round"/>
<path d="M1026.5 665.5L1075.4 603.6" stroke="#3a301f" stroke-opacity="0.7" stroke-width="11.6" stroke-linecap="round"/>
<path d="M1026.5 665.5L1075.4 603.6" stroke="#b39a72" stroke-width="9.8" stroke-linecap="round"/>
<path d="M1026.5 665.5L1075.4 603.6" stroke="#fff" stroke-opacity="0.3" stroke-width="2.9" stroke-linecap="round"/>
<path d="M1075.4 603.6L1132.4 639.4" stroke="#3a301f" stroke-opacity="0.7" stroke-width="11.6" stroke-linecap="round"/>
<path d="M1075.4 603.6L1132.4 639.4" stroke="#b39a72" stroke-width="9.8" stroke-linecap="round"/>
<path d="M1075.4 603.6L1132.4 639.4" stroke="#fff" stroke-opacity="0.3" stroke-width="2.9" stroke-linecap="round"/>
<path d="M1132.4 639.4L1137.3 733.9" stroke="#3a301f" stroke-opacity="0.7" stroke-width="11.6" stroke-linecap="round"/>
<path d="M1132.4 639.4L1137.3 733.9" stroke="#b39a72" stroke-width="9.8" stroke-linecap="round"/>
<path d="M1132.4 639.4L1137.3 733.9" stroke="#fff" stroke-opacity="0.3" stroke-width="2.9" stroke-linecap="round"/>
<path d="M1137.3 733.9L1090.0 792.5" stroke="#3a301f" stroke-opacity="0.7" stroke-width="11.6" stroke-linecap="round"/>
<path d="M1137.3 733.9L1090.0 792.5" stroke="#b39a72" stroke-width="9.8" stroke-linecap="round"/>
<path d="M1137.3 733.9L1090.0 792.5" stroke="#fff" stroke-opacity="0.3" stroke-width="2.9" stroke-linecap="round"/>
<path d="M1090.0 792.5L1034.6 758.3" stroke="#3a301f" stroke-opacity="0.7" stroke-width="11.6" stroke-linecap="round"/>
<path d="M1090.0 792.5L1034.6 758.3" stroke="#b39a72" stroke-width="9.8" stroke-linecap="round"/>
<path d="M1090.0 792.5L1034.6 758.3" stroke="#fff" stroke-opacity="0.3" stroke-width="2.9" stroke-linecap="round"/>
<path d="M1034.6 758.3L1026.5 665.5" stroke="#3a301f" stroke-opacity="0.7" stroke-width="11.6" stroke-linecap="round"/>
<path d="M1034.6 758.3L1026.5 665.5" stroke="#b39a72" stroke-width="9.8" stroke-linecap="round"/>
<path d="M1034.6 758.3L1026.5 665.5" stroke="#fff" stroke-opacity="0.3" stroke-width="2.9" stroke-linecap="round"/>
<path d="M951.6 548.2L958.1 584.0" stroke="#3a301f" stroke-opacity="0.7" stroke-width="11.6" stroke-linecap="round"/>
<path d="M951.6 548.2L958.1 584.0" stroke="#b39a72" stroke-width="9.8" stroke-linecap="round"/>
<path d="M951.6 548.2L958.1 584.0" stroke="#fff" stroke-opacity="0.3" stroke-width="2.9" stroke-linecap="round"/>
<path d="M1000.4 658.9L1026.5 665.5" stroke="#3a301f" stroke-opacity="0.7" stroke-width="11.6" stroke-linecap="round"/>
<path d="M1000.4 658.9L1026.5 665.5" stroke="#b39a72" stroke-width="9.8" stroke-linecap="round"/>
<path d="M1000.4 658.9L1026.5 665.5" stroke="#fff" stroke-opacity="0.3" stroke-width="2.9" stroke-linecap="round"/>
<path d="M757.7 665.5L748.0 688.3" stroke="#3a301f" stroke-opacity="0.7" stroke-width="11.6" stroke-linecap="round"/>
<path d="M757.7 665.5L748.0 688.3" stroke="#b39a72" stroke-width="9.8" stroke-linecap="round"/>
<path d="M757.7 665.5L748.0 688.3" stroke="#fff" stroke-opacity="0.3" stroke-width="2.9" stroke-linecap="round"/>
<path d="M964.6 812.1L1034.6 758.3" stroke="#3a301f" stroke-opacity="0.7" stroke-width="10.9" stroke-linecap="round"/>
<path d="M964.6 812.1L999.6 785.2" stroke="#e6d22e" stroke-width="9.1" stroke-linecap="round"/>
<path d="M999.6 785.2L1034.6 758.3" stroke="#b39a72" stroke-width="9.1" stroke-linecap="round"/>
<path d="M964.6 812.1L1034.6 758.3" stroke="#fff" stroke-opacity="0.3" stroke-width="2.7" stroke-linecap="round"/>
<ellipse cx="902.7" cy="544.9" rx="9.8" ry="10.3" fill="url(#aH)" stroke="#2a2418" stroke-width="1.2" stroke-opacity="0.75"/>
<ellipse cx="953.2" cy="491.2" rx="9.1" ry="9.6" fill="url(#aH)" stroke="#2a2418" stroke-width="1.2" stroke-opacity="0.75"/>
<ellipse cx="987.4" cy="528.6" rx="10.4" ry="10.9" fill="url(#aH)" stroke="#2a2418" stroke-width="1.2" stroke-opacity="0.75"/>
<ellipse cx="1070.5" cy="525.4" rx="9.8" ry="10.3" fill="url(#aH)" stroke="#2a2418" stroke-width="1.2" stroke-opacity="0.75"/>
<ellipse cx="1169.8" cy="590.5" rx="9.8" ry="10.3" fill="url(#aH)" stroke="#2a2418" stroke-width="1.2" stroke-opacity="0.75"/>
<ellipse cx="1178.0" cy="758.3" rx="9.8" ry="10.3" fill="url(#aH)" stroke="#2a2418" stroke-width="1.2" stroke-opacity="0.75"/>
<ellipse cx="1094.9" cy="864.2" rx="9.1" ry="9.6" fill="url(#aH)" stroke="#2a2418" stroke-width="1.2" stroke-opacity="0.75"/>
<ellipse cx="848.9" cy="867.4" rx="9.8" ry="10.3" fill="url(#aH)" stroke="#2a2418" stroke-width="1.2" stroke-opacity="0.75"/>
<ellipse cx="736.6" cy="867.4" rx="9.8" ry="10.3" fill="url(#aH)" stroke="#2a2418" stroke-width="1.2" stroke-opacity="0.75"/>
<ellipse cx="684.4" cy="720.8" rx="8.1" ry="8.6" fill="url(#aH)" stroke="#2a2418" stroke-width="1.2" stroke-opacity="0.75"/>
<ellipse cx="751.2" cy="579.1" rx="8.1" ry="8.6" fill="url(#aH)" stroke="#2a2418" stroke-width="1.2" stroke-opacity="0.75"/>
<ellipse cx="951.6" cy="548.2" rx="15.6" ry="23.5" fill="url(#aC)" stroke="#2a2418" stroke-width="1.2" stroke-opacity="0.75"/>
<ellipse cx="1026.5" cy="665.5" rx="14.7" ry="22.2" fill="url(#aC)" stroke="#2a2418" stroke-width="1.2" stroke-opacity="0.75"/>
<ellipse cx="1075.4" cy="603.6" rx="15.6" ry="22.2" fill="url(#aC)" stroke="#2a2418" stroke-width="1.2" stroke-opacity="0.75"/>
<ellipse cx="1132.4" cy="639.4" rx="14.7" ry="22.2" fill="url(#aC)" stroke="#2a2418" stroke-width="1.2" stroke-opacity="0.75"/>
<ellipse cx="1137.3" cy="733.9" rx="13.7" ry="22.8" fill="url(#aC)" stroke="#2a2418" stroke-width="1.2" stroke-opacity="0.75"/>
<ellipse cx="1090.0" cy="792.5" rx="14.7" ry="22.2" fill="url(#aC)" stroke="#2a2418" stroke-width="1.2" stroke-opacity="0.75"/>
<ellipse cx="1034.6" cy="758.3" rx="14.7" ry="21.2" fill="url(#aC)" stroke="#2a2418" stroke-width="1.2" stroke-opacity="0.75"/>
<path d="M689.3 717.6C689.3 710.0 689.9 698.6 692.6 691.5C695.3 684.5 700.2 678.8 705.6 675.2C711.0 671.7 718.6 669.8 725.2 670.4C731.7 670.9 738.9 673.9 744.7 678.5C750.5 683.1 755.9 689.9 759.7 698.0C763.5 706.2 766.7 718.1 767.5 727.4C768.3 736.6 767.5 746.3 764.2 753.4C761.0 760.6 754.5 767.5 748.0 770.4C741.4 773.2 732.2 772.6 725.2 770.4C718.1 768.1 711.0 762.2 705.6 756.7C700.2 751.1 695.3 743.7 692.6 737.1C689.9 730.6 689.3 725.2 689.3 717.6Z" fill="url(#rgg)" stroke="#264e1c" stroke-width="1.3" stroke-opacity="0.9" fill-opacity="0.93" filter="url(#rim)"/>
<ellipse cx="717.0" cy="724.1" rx="2.0" ry="3.3" transform="rotate(0 717.0 724.1)" fill="#fff" fill-opacity="0.7" filter="url(#hlb)"/>
<ellipse cx="734.9" cy="704.6" rx="1.6" ry="2.6" transform="rotate(0 734.9 704.6)" fill="#fff" fill-opacity="0.5" filter="url(#hlb)"/>
<path d="M717.0 795.8C716.7 785.5 717.3 771.9 720.3 763.2C723.3 754.5 728.7 748.3 734.9 743.7C741.2 739.0 750.1 736.0 757.7 735.5C765.3 735.0 773.5 736.9 780.5 740.4C787.6 743.9 795.4 749.6 800.1 756.7C804.8 763.7 806.9 773.0 808.6 782.7C810.2 792.5 810.7 805.5 809.9 815.3C809.0 825.1 807.7 833.8 803.3 841.4C799.0 849.0 790.9 857.0 783.8 860.9C776.7 864.8 768.6 866.5 761.0 864.8C753.4 863.2 744.7 857.8 738.2 851.2C731.7 844.5 725.4 834.3 721.9 825.1C718.4 815.9 717.3 806.1 717.0 795.8Z" fill="url(#rgb)" stroke="#064a66" stroke-width="1.3" stroke-opacity="0.9" fill-opacity="0.95" filter="url(#rim)"/>
<ellipse cx="756.1" cy="799.0" rx="2.3" ry="2.9" transform="rotate(0 756.1 799.0)" fill="#fff" fill-opacity="0.8" filter="url(#hlb)"/>
<ellipse cx="767.5" cy="763.2" rx="2.0" ry="2.6" transform="rotate(0 767.5 763.2)" fill="#fff" fill-opacity="0.7" filter="url(#hlb)"/>
<ellipse cx="733.3" cy="833.2" rx="2.0" ry="2.6" transform="rotate(0 733.3 833.2)" fill="#fff" fill-opacity="0.7" filter="url(#hlb)"/>
<ellipse cx="790.3" cy="782.7" rx="1.6" ry="2.6" transform="rotate(0 790.3 782.7)" fill="#fff" fill-opacity="0.5" filter="url(#hlb)"/>
<path d="M800.1 789.3C800.4 779.5 800.6 768.1 803.3 759.9C806.1 751.8 810.9 743.9 816.4 740.4C821.8 736.9 830.2 736.6 835.9 738.8C841.6 740.9 847.0 746.6 850.6 753.4C854.2 760.2 856.1 769.7 857.4 779.5C858.8 789.3 859.3 802.3 858.7 812.1C858.1 821.8 856.6 831.1 853.8 838.1C851.1 845.2 847.0 851.0 842.4 854.4C837.8 857.8 831.6 860.0 826.1 858.3C820.7 856.7 813.9 851.3 809.9 844.6C805.8 838.0 803.3 827.8 801.7 818.6C800.1 809.3 799.8 799.0 800.1 789.3Z" fill="url(#rgg)" stroke="#264e1c" stroke-width="1.3" stroke-opacity="0.9" fill-opacity="0.93" filter="url(#rim)"/>
<ellipse cx="831.0" cy="764.8" rx="2.3" ry="2.9" transform="rotate(0 831.0 764.8)" fill="#fff" fill-opacity="0.8" filter="url(#hlb)"/>
<ellipse cx="816.4" cy="799.0" rx="2.0" ry="2.6" transform="rotate(0 816.4 799.0)" fill="#fff" fill-opacity="0.7" filter="url(#hlb)"/>
<ellipse cx="813.1" cy="834.9" rx="1.6" ry="2.3" transform="rotate(0 813.1 834.9)" fill="#fff" fill-opacity="0.6" filter="url(#hlb)"/>
<ellipse cx="862.0" cy="610.1" rx="30.0" ry="21.5" transform="rotate(0 862.0 610.1)" fill="url(#rgb)" stroke="#064a66" stroke-width="1.3" stroke-opacity="0.9" fill-opacity="0.95" filter="url(#rim)"/>
<path d="M831.0 551.4C831.0 542.2 832.9 532.2 835.9 525.4C838.9 518.6 844.1 513.7 848.9 510.7C853.8 507.7 859.8 506.6 865.2 507.5C870.7 508.3 876.9 510.5 881.5 515.6C886.2 520.8 891.3 529.7 893.3 538.4C895.2 547.1 894.7 559.0 893.3 567.7C891.8 576.4 888.9 584.5 884.8 590.5C880.7 596.6 874.5 602.6 868.5 604.2C862.5 605.8 854.4 604.2 848.9 600.3C843.5 596.4 838.9 588.9 835.9 580.8C832.9 572.6 831.0 560.7 831.0 551.4Z" fill="url(#rgb)" stroke="#064a66" stroke-width="1.3" stroke-opacity="0.9" fill-opacity="0.95" filter="url(#rim)"/>
<ellipse cx="859.4" cy="549.8" rx="2.0" ry="2.9" transform="rotate(0 859.4 549.8)" fill="#fff" fill-opacity="0.8" filter="url(#hlb)"/>
<ellipse cx="873.4" cy="528.6" rx="1.6" ry="2.6" transform="rotate(0 873.4 528.6)" fill="#fff" fill-opacity="0.6" filter="url(#hlb)"/>
<ellipse cx="847.3" cy="582.4" rx="1.6" ry="2.3" transform="rotate(0 847.3 582.4)" fill="#fff" fill-opacity="0.6" filter="url(#hlb)"/>
<path d="M845.7 606.8L852.2 598.7" stroke="#3a301f" stroke-opacity="0.7" stroke-width="7.7" stroke-linecap="round"/>
<path d="M845.7 606.8L852.2 598.7" stroke="#d22" stroke-width="5.9" stroke-linecap="round"/>
<path d="M845.7 606.8L852.2 598.7" stroke="#fff" stroke-opacity="0.3" stroke-width="1.8" stroke-linecap="round"/>
<path d="M757.7 672.0C755.0 676.9 762.1 689.8 767.5 694.8C772.9 699.8 782.7 702.5 790.3 702.0C797.9 701.4 809.9 696.5 813.1 691.5C816.4 686.5 814.7 676.3 809.9 672.0C805.0 667.6 792.5 665.5 783.8 665.5C775.1 665.5 760.4 667.1 757.7 672.0Z" fill="url(#rgb)" stroke="#064a66" stroke-width="1.3" stroke-opacity="0.9" fill-opacity="0.95" filter="url(#rim)"/>
<path d="M852.2 750.2C850.0 755.2 854.9 763.2 858.7 767.1C862.5 771.0 869.5 774.3 875.0 773.6C880.5 773.0 889.5 768.2 892.0 763.2C894.4 758.2 893.0 748.0 889.7 743.7C886.3 739.3 878.0 736.0 871.8 737.1C865.5 738.2 854.4 745.2 852.2 750.2Z" fill="url(#rgb)" stroke="#064a66" stroke-width="1.3" stroke-opacity="0.9" fill-opacity="0.95" filter="url(#rim)"/>
<path d="M733.3 623.1C732.8 613.9 734.7 603.8 738.2 597.1C741.7 590.3 748.5 585.4 754.5 582.4C760.4 579.4 766.4 578.3 774.0 579.1C781.6 579.9 791.9 582.7 800.1 587.3C808.2 591.9 814.7 600.9 822.9 606.8C831.0 612.8 840.8 617.1 848.9 623.1C857.1 629.1 865.2 635.6 871.8 642.7C878.3 649.7 884.2 657.3 888.0 665.5C891.8 673.6 893.7 681.8 894.6 691.5C895.4 701.3 894.9 714.9 893.3 724.1C891.6 733.3 888.9 741.4 884.8 746.9C880.7 752.4 874.5 756.7 868.5 757.3C862.5 758.0 854.4 755.3 848.9 750.8C843.5 746.4 839.7 738.3 835.9 730.6C832.1 722.9 829.4 712.7 826.1 704.6C822.9 696.4 820.2 687.7 816.4 681.8C812.6 675.8 808.8 670.9 803.3 668.7C797.9 666.6 790.9 668.7 783.8 668.7C776.7 668.7 768.0 671.4 761.0 668.7C753.9 666.0 746.1 660.0 741.4 652.4C736.8 644.8 733.8 632.3 733.3 623.1Z" fill="url(#rgb)" stroke="#064a66" stroke-width="1.3" stroke-opacity="0.9" fill-opacity="0.95" filter="url(#rim)"/>
<ellipse cx="770.8" cy="623.1" rx="3.9" ry="2.0" transform="rotate(10 770.8 623.1)" fill="#fff" fill-opacity="0.7" filter="url(#hlb)"/>
<ellipse cx="790.3" cy="629.6" rx="3.3" ry="1.6" transform="rotate(10 790.3 629.6)" fill="#fff" fill-opacity="0.6" filter="url(#hlb)"/>
<ellipse cx="748.0" cy="654.1" rx="2.0" ry="2.6" transform="rotate(0 748.0 654.1)" fill="#fff" fill-opacity="0.7" filter="url(#hlb)"/>
<ellipse cx="858.7" cy="694.8" rx="2.0" ry="2.9" transform="rotate(0 858.7 694.8)" fill="#fff" fill-opacity="0.8" filter="url(#hlb)"/>
<ellipse cx="845.7" cy="730.6" rx="2.0" ry="2.9" transform="rotate(0 845.7 730.6)" fill="#fff" fill-opacity="0.7" filter="url(#hlb)"/>
<path d="M770.8 590.5C771.8 586.7 777.8 582.4 783.8 580.8C789.8 579.1 799.0 579.1 806.6 580.8C814.2 582.4 822.8 585.7 829.4 590.5C836.0 595.4 845.3 605.6 846.3 610.1C847.4 614.5 841.5 616.7 835.9 617.3C830.4 617.8 820.7 613.3 813.1 613.3C805.5 613.3 796.3 618.9 790.3 617.3C784.3 615.6 780.5 608.0 777.3 603.6C774.0 599.1 769.7 594.3 770.8 590.5Z" fill="url(#rgg)" stroke="#264e1c" stroke-width="1.3" stroke-opacity="0.9" fill-opacity="0.93" filter="url(#rim)"/>
<ellipse cx="821.3" cy="600.3" rx="3.3" ry="1.6" transform="rotate(20 821.3 600.3)" fill="#fff" fill-opacity="0.6" filter="url(#hlb)"/>
<path d="M806.6 678.5C806.1 673.5 813.0 669.8 816.4 672.0C819.7 674.2 826.3 686.5 826.8 691.5C827.3 696.5 823.0 704.1 819.6 702.0C816.3 699.8 807.1 683.5 806.6 678.5Z" fill="url(#rgg)" stroke="#264e1c" stroke-width="1.3" stroke-opacity="0.9" fill-opacity="0.93" filter="url(#rim)"/>
<path d="M860.4 652.4C862.0 649.2 867.7 644.8 871.8 645.9C875.8 647.0 882.6 654.6 884.8 658.9C887.0 663.3 887.0 669.8 884.8 672.0C882.6 674.2 875.6 673.1 871.8 672.0C868.0 670.9 863.9 668.7 862.0 665.5C860.1 662.2 858.7 655.7 860.4 652.4Z" fill="#06364f" fill-opacity="0.3" filter="url(#shb)"/>
<path d="M936.9 623.1C936.9 613.3 939.6 606.6 943.4 600.3C947.2 594.1 953.7 587.8 959.7 585.7C965.7 583.5 973.5 583.7 979.3 587.3C985.0 590.8 990.7 599.2 994.2 606.8C997.8 614.4 1000.0 624.2 1000.8 632.9C1001.5 641.6 1000.8 651.3 998.8 658.9C996.9 666.6 993.4 673.5 989.0 678.5C984.7 683.5 978.2 688.4 972.7 688.9C967.3 689.5 961.3 686.7 956.5 681.8C951.6 676.8 946.7 668.7 943.4 658.9C940.2 649.2 936.9 632.9 936.9 623.1Z" fill="url(#rgg)" stroke="#264e1c" stroke-width="1.3" stroke-opacity="0.9" fill-opacity="0.93" filter="url(#rim)"/>
<ellipse cx="972.7" cy="629.6" rx="2.0" ry="3.3" transform="rotate(0 972.7 629.6)" fill="#fff" fill-opacity="0.8" filter="url(#hlb)"/>
<ellipse cx="980.9" cy="610.1" rx="1.6" ry="3.9" transform="rotate(-20 980.9 610.1)" fill="#fff" fill-opacity="0.5" filter="url(#hlb)"/>
<path d="M946.7 658.9C946.7 653.5 949.4 647.0 953.2 645.9C957.0 644.8 966.1 648.1 969.5 652.4C972.9 656.8 973.9 666.4 973.4 672.0C972.9 677.5 969.6 684.6 966.2 685.7C962.9 686.7 956.5 682.9 953.2 678.5C949.9 674.0 946.7 664.4 946.7 658.9Z" fill="url(#rgb)" stroke="#064a66" stroke-width="1.3" stroke-opacity="0.9" fill-opacity="0.95" filter="url(#rim)"/>
<path d="M884.8 717.6C884.5 706.7 886.4 696.4 889.7 688.3C892.9 680.1 898.6 672.8 904.3 668.7C910.0 664.7 917.4 663.3 923.9 663.8C930.4 664.4 937.7 666.8 943.4 672.0C949.2 677.1 955.0 686.1 958.4 694.8C961.8 703.5 963.7 714.3 963.6 724.1C963.6 733.9 961.5 744.7 958.1 753.4C954.7 762.1 949.1 771.0 943.4 776.2C937.7 781.4 930.4 784.7 923.9 784.7C917.4 784.7 909.8 781.4 904.3 776.2C898.9 771.0 894.6 763.2 891.3 753.4C888.0 743.7 885.1 728.4 884.8 717.6Z" fill="url(#rgg)" stroke="#264e1c" stroke-width="1.3" stroke-opacity="0.9" fill-opacity="0.93" filter="url(#rim)"/>
<ellipse cx="914.1" cy="720.8" rx="2.3" ry="2.9" transform="rotate(0 914.1 720.8)" fill="#fff" fill-opacity="0.8" filter="url(#hlb)"/>
<ellipse cx="899.4" cy="746.9" rx="2.0" ry="2.3" transform="rotate(0 899.4 746.9)" fill="#fff" fill-opacity="0.6" filter="url(#hlb)"/>
<path d="M920.6 675.2C920.6 670.9 928.8 669.3 933.7 672.0C938.5 674.7 946.1 683.9 949.9 691.5C953.7 699.1 957.0 713.2 956.5 717.6C955.9 721.9 950.5 720.8 946.7 717.6C942.9 714.3 938.0 705.1 933.7 698.0C929.3 691.0 920.6 679.6 920.6 675.2Z" fill="#183f10" fill-opacity="0.32" filter="url(#shb)"/>
<path d="M923.9 698.0C925.0 694.0 930.9 687.2 933.7 688.3C936.4 689.4 939.6 700.2 940.2 704.6C940.7 708.9 939.1 713.0 936.9 714.3C934.7 715.7 929.3 715.4 927.1 712.7C925.0 710.0 922.8 702.1 923.9 698.0Z" fill="#183f10" fill-opacity="0.25" filter="url(#shb)"/>
<path d="M940.2 799.0C938.5 793.0 942.9 783.8 946.7 779.5C950.5 775.1 958.0 772.4 963.0 773.0C968.0 773.5 975.0 777.3 976.7 782.7C978.3 788.2 976.1 800.0 972.7 805.5C969.4 811.1 961.9 817.1 956.5 816.0C951.0 814.9 941.8 805.1 940.2 799.0Z" fill="url(#rgb)" stroke="#064a66" stroke-width="1.3" stroke-opacity="0.9" fill-opacity="0.95" filter="url(#rim)"/>
<path d="M936.9 828.4C936.9 822.8 940.2 816.4 943.4 815.3C946.7 814.2 954.8 817.5 956.5 821.8C958.1 826.2 955.4 836.9 953.2 841.4C951.0 845.8 946.1 850.7 943.4 848.6C940.7 846.4 936.9 833.9 936.9 828.4Z" fill="url(#rgg)" stroke="#264e1c" stroke-width="1.3" stroke-opacity="0.9" fill-opacity="0.93" filter="url(#rim)"/>
<path d="M949.9 776.2L961.3 805.5" stroke="#3a301f" stroke-opacity="0.7" stroke-width="8.3" stroke-linecap="round"/>
<path d="M949.9 776.2L961.3 805.5" stroke="#e6d22e" stroke-width="6.5" stroke-linecap="round"/>
<path d="M949.9 776.2L961.3 805.5" stroke="#fff" stroke-opacity="0.3" stroke-width="2.0" stroke-linecap="round"/>
<path d="M972.7 807.2L1000.4 792.5" stroke="#3a301f" stroke-opacity="0.7" stroke-width="8.3" stroke-linecap="round"/>
<path d="M972.7 807.2L1000.4 792.5" stroke="#e6d22e" stroke-width="6.5" stroke-linecap="round"/>
<path d="M972.7 807.2L1000.4 792.5" stroke="#fff" stroke-opacity="0.3" stroke-width="2.0" stroke-linecap="round"/>
<path d="M948.3 854.4C947.8 844.1 949.7 832.7 953.2 825.1C956.7 817.5 963.5 811.8 969.5 808.8C975.5 805.8 983.6 805.0 989.0 807.2C994.5 809.3 998.7 815.1 1002.1 821.8C1005.4 828.6 1008.7 839.2 1009.2 847.9C1009.8 856.6 1008.1 866.4 1005.3 874.0C1002.5 881.6 997.7 889.1 992.3 893.5C986.9 898.0 978.7 901.8 972.7 900.7C966.8 899.6 960.5 894.7 956.5 887.0C952.4 879.3 948.9 864.7 948.3 854.4Z" fill="url(#rgg)" stroke="#264e1c" stroke-width="1.3" stroke-opacity="0.9" fill-opacity="0.93" filter="url(#rim)"/>
<ellipse cx="977.6" cy="847.9" rx="2.0" ry="2.9" transform="rotate(0 977.6 847.9)" fill="#fff" fill-opacity="0.8" filter="url(#hlb)"/>
<ellipse cx="993.9" cy="831.6" rx="1.6" ry="2.6" transform="rotate(0 993.9 831.6)" fill="#fff" fill-opacity="0.6" filter="url(#hlb)"/>
<ellipse cx="961.3" cy="875.6" rx="1.6" ry="2.3" transform="rotate(0 961.3 875.6)" fill="#fff" fill-opacity="0.6" filter="url(#hlb)"/>
<ellipse cx="964.6" cy="812.7" rx="11.1" ry="12.4" fill="url(#aS)"/>
<ellipse cx="1080.3" cy="603.6" rx="5.9" ry="7.2" transform="rotate(0 1080.3 603.6)" fill="url(#rgg)" stroke="#264e1c" stroke-width="1.3" stroke-opacity="0.9" fill-opacity="0.93" filter="url(#rim)"/>
<ellipse cx="1039.5" cy="764.8" rx="13.0" ry="13.0" transform="rotate(0 1039.5 764.8)" fill="url(#rgg)" stroke="#264e1c" stroke-width="1.3" stroke-opacity="0.9" fill-opacity="0.93" filter="url(#rim)"/>
<ellipse cx="1041.8" cy="756.0" rx="11.4" ry="12.4" transform="rotate(0 1041.8 756.0)" fill="url(#rgb)" stroke="#064a66" stroke-width="1.3" stroke-opacity="0.9" fill-opacity="0.95" filter="url(#rim)"/>
<ellipse cx="1145.4" cy="737.1" rx="2.0" ry="3.3" transform="rotate(0 1145.4 737.1)" fill="url(#rgg)" stroke="#264e1c" stroke-width="1.3" stroke-opacity="0.9" fill-opacity="0.93" filter="url(#rim)"/>
<ellipse cx="736.6" cy="867.4" rx="9.8" ry="10.1" fill="url(#aH)" stroke="#2a2418" stroke-width="1.2" stroke-opacity="0.75"/>
<ellipse cx="848.9" cy="867.4" rx="9.8" ry="10.1" fill="url(#aH)" stroke="#2a2418" stroke-width="1.2" stroke-opacity="0.75"/>
<ellipse cx="684.4" cy="720.8" rx="8.1" ry="8.5" fill="url(#aH)" stroke="#2a2418" stroke-width="1.2" stroke-opacity="0.75"/>
<ellipse cx="902.7" cy="544.9" rx="9.8" ry="10.1" fill="url(#aH)" stroke="#2a2418" stroke-width="1.2" stroke-opacity="0.75"/>
<path d="M413.2 1132.8L362.7 1128.0" stroke="#3a301f" stroke-opacity="0.7" stroke-width="10.9" stroke-linecap="round"/>
<path d="M413.2 1132.8L388.0 1130.4" stroke="#b39a72" stroke-width="9.1" stroke-linecap="round"/>
<path d="M388.0 1130.4L362.7 1128.0" stroke="#e4e4e4" stroke-width="9.1" stroke-linecap="round"/>
<path d="M413.2 1132.8L362.7 1128.0" stroke="#fff" stroke-opacity="0.3" stroke-width="2.7" stroke-linecap="round"/>
<path d="M413.2 1132.8L418.1 1075.8" stroke="#3a301f" stroke-opacity="0.7" stroke-width="10.9" stroke-linecap="round"/>
<path d="M413.2 1132.8L415.6 1104.3" stroke="#b39a72" stroke-width="9.1" stroke-linecap="round"/>
<path d="M415.6 1104.3L418.1 1075.8" stroke="#e4e4e4" stroke-width="9.1" stroke-linecap="round"/>
<path d="M413.2 1132.8L418.1 1075.8" stroke="#fff" stroke-opacity="0.3" stroke-width="2.7" stroke-linecap="round"/>
<path d="M413.2 1132.8L449.0 1114.9" stroke="#3a301f" stroke-opacity="0.7" stroke-width="10.9" stroke-linecap="round"/>
<path d="M413.2 1132.8L431.1 1123.9" stroke="#b39a72" stroke-width="9.1" stroke-linecap="round"/>
<path d="M431.1 1123.9L449.0 1114.9" stroke="#e4e4e4" stroke-width="9.1" stroke-linecap="round"/>
<path d="M413.2 1132.8L449.0 1114.9" stroke="#fff" stroke-opacity="0.3" stroke-width="2.7" stroke-linecap="round"/>
<path d="M535.4 1186.6L533.7 1110.0" stroke="#3a301f" stroke-opacity="0.7" stroke-width="10.9" stroke-linecap="round"/>
<path d="M535.4 1186.6L534.5 1148.3" stroke="#b39a72" stroke-width="9.1" stroke-linecap="round"/>
<path d="M534.5 1148.3L533.7 1110.0" stroke="#e4e4e4" stroke-width="9.1" stroke-linecap="round"/>
<path d="M535.4 1186.6L533.7 1110.0" stroke="#fff" stroke-opacity="0.3" stroke-width="2.7" stroke-linecap="round"/>
<path d="M590.7 1214.3L633.1 1173.6" stroke="#3a301f" stroke-opacity="0.7" stroke-width="10.9" stroke-linecap="round"/>
<path d="M590.7 1214.3L611.9 1193.9" stroke="#b39a72" stroke-width="9.1" stroke-linecap="round"/>
<path d="M611.9 1193.9L633.1 1173.6" stroke="#e4e4e4" stroke-width="9.1" stroke-linecap="round"/>
<path d="M590.7 1214.3L633.1 1173.6" stroke="#fff" stroke-opacity="0.3" stroke-width="2.7" stroke-linecap="round"/>
<path d="M598.9 1323.4L638.0 1331.6" stroke="#3a301f" stroke-opacity="0.7" stroke-width="10.9" stroke-linecap="round"/>
<path d="M598.9 1323.4L618.4 1327.5" stroke="#b39a72" stroke-width="9.1" stroke-linecap="round"/>
<path d="M618.4 1327.5L638.0 1331.6" stroke="#e4e4e4" stroke-width="9.1" stroke-linecap="round"/>
<path d="M598.9 1323.4L638.0 1331.6" stroke="#fff" stroke-opacity="0.3" stroke-width="2.7" stroke-linecap="round"/>
<path d="M551.7 1369.0L554.9 1434.2" stroke="#3a301f" stroke-opacity="0.7" stroke-width="10.9" stroke-linecap="round"/>
<path d="M551.7 1369.0L553.3 1401.6" stroke="#b39a72" stroke-width="9.1" stroke-linecap="round"/>
<path d="M553.3 1401.6L554.9 1434.2" stroke="#e4e4e4" stroke-width="9.1" stroke-linecap="round"/>
<path d="M551.7 1369.0L554.9 1434.2" stroke="#fff" stroke-opacity="0.3" stroke-width="2.7" stroke-linecap="round"/>
<path d="M299.2 1408.1L308.9 1437.4" stroke="#3a301f" stroke-opacity="0.7" stroke-width="10.9" stroke-linecap="round"/>
<path d="M299.2 1408.1L304.1 1422.8" stroke="#b39a72" stroke-width="9.1" stroke-linecap="round"/>
<path d="M304.1 1422.8L308.9 1437.4" stroke="#e4e4e4" stroke-width="9.1" stroke-linecap="round"/>
<path d="M299.2 1408.1L308.9 1437.4" stroke="#fff" stroke-opacity="0.3" stroke-width="2.7" stroke-linecap="round"/>
<path d="M208.0 1414.6L193.3 1442.3" stroke="#3a301f" stroke-opacity="0.7" stroke-width="10.9" stroke-linecap="round"/>
<path d="M208.0 1414.6L200.6 1428.5" stroke="#b39a72" stroke-width="9.1" stroke-linecap="round"/>
<path d="M200.6 1428.5L193.3 1442.3" stroke="#e4e4e4" stroke-width="9.1" stroke-linecap="round"/>
<path d="M208.0 1414.6L193.3 1442.3" stroke="#fff" stroke-opacity="0.3" stroke-width="2.7" stroke-linecap="round"/>
<path d="M230.8 1232.2L216.1 1165.4" stroke="#3a301f" stroke-opacity="0.7" stroke-width="10.9" stroke-linecap="round"/>
<path d="M230.8 1232.2L223.4 1198.8" stroke="#b39a72" stroke-width="9.1" stroke-linecap="round"/>
<path d="M223.4 1198.8L216.1 1165.4" stroke="#e4e4e4" stroke-width="9.1" stroke-linecap="round"/>
<path d="M230.8 1232.2L216.1 1165.4" stroke="#fff" stroke-opacity="0.3" stroke-width="2.7" stroke-linecap="round"/>
<path d="M484.9 1242.0L535.4 1186.6" stroke="#3a301f" stroke-opacity="0.7" stroke-width="11.6" stroke-linecap="round"/>
<path d="M484.9 1242.0L535.4 1186.6" stroke="#b39a72" stroke-width="9.8" stroke-linecap="round"/>
<path d="M484.9 1242.0L535.4 1186.6" stroke="#fff" stroke-opacity="0.3" stroke-width="2.9" stroke-linecap="round"/>
<path d="M535.4 1186.6L590.7 1214.3" stroke="#3a301f" stroke-opacity="0.7" stroke-width="11.6" stroke-linecap="round"/>
<path d="M535.4 1186.6L590.7 1214.3" stroke="#b39a72" stroke-width="9.8" stroke-linecap="round"/>
<path d="M535.4 1186.6L590.7 1214.3" stroke="#fff" stroke-opacity="0.3" stroke-width="2.9" stroke-linecap="round"/>
<path d="M590.7 1214.3L598.9 1323.4" stroke="#3a301f" stroke-opacity="0.7" stroke-width="11.6" stroke-linecap="round"/>
<path d="M590.7 1214.3L598.9 1323.4" stroke="#b39a72" stroke-width="9.8" stroke-linecap="round"/>
<path d="M590.7 1214.3L598.9 1323.4" stroke="#fff" stroke-opacity="0.3" stroke-width="2.9" stroke-linecap="round"/>
<path d="M598.9 1323.4L551.7 1369.0" stroke="#3a301f" stroke-opacity="0.7" stroke-width="11.6" stroke-linecap="round"/>
<path d="M598.9 1323.4L551.7 1369.0" stroke="#b39a72" stroke-width="9.8" stroke-linecap="round"/>
<path d="M598.9 1323.4L551.7 1369.0" stroke="#fff" stroke-opacity="0.3" stroke-width="2.9" stroke-linecap="round"/>
<path d="M551.7 1369.0L494.6 1352.7" stroke="#3a301f" stroke-opacity="0.7" stroke-width="11.6" stroke-linecap="round"/>
<path d="M551.7 1369.0L494.6 1352.7" stroke="#b39a72" stroke-width="9.8" stroke-linecap="round"/>
<path d="M551.7 1369.0L494.6 1352.7" stroke="#fff" stroke-opacity="0.3" stroke-width="2.9" stroke-linecap="round"/>
<path d="M413.2 1132.8L419.7 1165.4" stroke="#3a301f" stroke-opacity="0.7" stroke-width="11.6" stroke-linecap="round"/>
<path d="M413.2 1132.8L419.7 1165.4" stroke="#b39a72" stroke-width="9.8" stroke-linecap="round"/>
<path d="M413.2 1132.8L419.7 1165.4" stroke="#fff" stroke-opacity="0.3" stroke-width="2.9" stroke-linecap="round"/>
<path d="M463.7 1235.5L484.9 1242.0" stroke="#3a301f" stroke-opacity="0.7" stroke-width="11.6" stroke-linecap="round"/>
<path d="M463.7 1235.5L484.9 1242.0" stroke="#b39a72" stroke-width="9.8" stroke-linecap="round"/>
<path d="M463.7 1235.5L484.9 1242.0" stroke="#fff" stroke-opacity="0.3" stroke-width="2.9" stroke-linecap="round"/>
<path d="M230.8 1232.2L211.2 1264.8" stroke="#3a301f" stroke-opacity="0.7" stroke-width="11.6" stroke-linecap="round"/>
<path d="M230.8 1232.2L211.2 1264.8" stroke="#b39a72" stroke-width="9.8" stroke-linecap="round"/>
<path d="M230.8 1232.2L211.2 1264.8" stroke="#fff" stroke-opacity="0.3" stroke-width="2.9" stroke-linecap="round"/>
<path d="M426.2 1382.1L494.6 1352.7" stroke="#3a301f" stroke-opacity="0.7" stroke-width="10.9" stroke-linecap="round"/>
<path d="M426.2 1382.1L460.4 1367.4" stroke="#e6d22e" stroke-width="9.1" stroke-linecap="round"/>
<path d="M460.4 1367.4L494.6 1352.7" stroke="#b39a72" stroke-width="9.1" stroke-linecap="round"/>
<path d="M426.2 1382.1L494.6 1352.7" stroke="#fff" stroke-opacity="0.3" stroke-width="2.7" stroke-linecap="round"/>
<ellipse cx="362.7" cy="1128.0" rx="9.8" ry="10.3" fill="url(#aH)" stroke="#2a2418" stroke-width="1.2" stroke-opacity="0.75"/>
<ellipse cx="418.1" cy="1075.8" rx="9.1" ry="9.6" fill="url(#aH)" stroke="#2a2418" stroke-width="1.2" stroke-opacity="0.75"/>
<ellipse cx="449.0" cy="1114.9" rx="10.4" ry="10.9" fill="url(#aH)" stroke="#2a2418" stroke-width="1.2" stroke-opacity="0.75"/>
<ellipse cx="533.7" cy="1110.0" rx="9.8" ry="10.3" fill="url(#aH)" stroke="#2a2418" stroke-width="1.2" stroke-opacity="0.75"/>
<ellipse cx="633.1" cy="1173.6" rx="9.8" ry="10.3" fill="url(#aH)" stroke="#2a2418" stroke-width="1.2" stroke-opacity="0.75"/>
<ellipse cx="638.0" cy="1331.6" rx="9.8" ry="10.3" fill="url(#aH)" stroke="#2a2418" stroke-width="1.2" stroke-opacity="0.75"/>
<ellipse cx="554.9" cy="1434.2" rx="9.1" ry="9.6" fill="url(#aH)" stroke="#2a2418" stroke-width="1.2" stroke-opacity="0.75"/>
<ellipse cx="308.9" cy="1437.4" rx="9.8" ry="10.3" fill="url(#aH)" stroke="#2a2418" stroke-width="1.2" stroke-opacity="0.75"/>
<ellipse cx="193.3" cy="1442.3" rx="9.8" ry="10.3" fill="url(#aH)" stroke="#2a2418" stroke-width="1.2" stroke-opacity="0.75"/>
<ellipse cx="147.7" cy="1297.4" rx="9.1" ry="9.6" fill="url(#aH)" stroke="#2a2418" stroke-width="1.2" stroke-opacity="0.75"/>
<ellipse cx="216.1" cy="1165.4" rx="9.1" ry="9.6" fill="url(#aH)" stroke="#2a2418" stroke-width="1.2" stroke-opacity="0.75"/>
<ellipse cx="305.7" cy="1116.6" rx="6.5" ry="6.8" fill="url(#aH)" stroke="#2a2418" stroke-width="1.2" stroke-opacity="0.75"/>
<ellipse cx="413.2" cy="1132.8" rx="15.6" ry="23.5" fill="url(#aC)" stroke="#2a2418" stroke-width="1.2" stroke-opacity="0.75"/>
<ellipse cx="535.4" cy="1186.6" rx="14.7" ry="21.2" fill="url(#aC)" stroke="#2a2418" stroke-width="1.2" stroke-opacity="0.75"/>
<ellipse cx="590.7" cy="1214.3" rx="13.0" ry="19.5" fill="url(#aC)" stroke="#2a2418" stroke-width="1.2" stroke-opacity="0.75"/>
<ellipse cx="551.7" cy="1369.0" rx="14.7" ry="22.2" fill="url(#aC)" stroke="#2a2418" stroke-width="1.2" stroke-opacity="0.75"/>
<ellipse cx="230.8" cy="1232.2" rx="13.0" ry="16.3" fill="url(#aC)" stroke="#2a2418" stroke-width="1.2" stroke-opacity="0.75"/>
<path d="M155.8 1281.1C155.6 1274.6 155.8 1267.0 159.1 1261.5C162.4 1256.1 169.4 1250.4 175.4 1248.5C181.4 1246.6 189.0 1247.4 194.9 1250.1C200.9 1252.8 207.4 1258.5 211.2 1264.8C215.0 1271.0 217.2 1280.5 217.7 1287.6C218.3 1294.6 217.7 1302.1 214.5 1307.1C211.2 1312.1 204.7 1316.5 198.2 1317.6C191.7 1318.6 181.6 1316.5 175.4 1313.7C169.1 1310.8 164.0 1306.0 160.7 1300.6C157.5 1295.2 156.1 1287.6 155.8 1281.1Z" fill="url(#rgg)" stroke="#264e1c" stroke-width="1.3" stroke-opacity="0.9" fill-opacity="0.93" filter="url(#rim)"/>
<ellipse cx="191.7" cy="1271.3" rx="2.0" ry="2.6" transform="rotate(0 191.7 1271.3)" fill="#fff" fill-opacity="0.7" filter="url(#hlb)"/>
<ellipse cx="177.0" cy="1294.1" rx="1.6" ry="2.3" transform="rotate(0 177.0 1294.1)" fill="#fff" fill-opacity="0.5" filter="url(#hlb)"/>
<path d="M168.9 1320.2C168.9 1310.9 171.0 1302.8 175.4 1297.4C179.7 1291.9 187.9 1287.6 194.9 1287.6C202.0 1287.6 211.2 1291.9 217.7 1297.4C224.2 1302.8 229.1 1311.5 234.0 1320.2C238.9 1328.9 243.8 1339.2 247.1 1349.5C250.3 1359.8 253.0 1372.3 253.6 1382.1C254.1 1391.8 253.0 1400.5 250.3 1408.1C247.6 1415.7 242.7 1423.8 237.3 1427.7C231.8 1431.6 224.2 1433.8 217.7 1431.6C211.2 1429.4 203.6 1422.4 198.2 1414.6C192.8 1406.9 189.0 1395.6 185.2 1385.3C181.4 1375.0 178.1 1363.6 175.4 1352.7C172.7 1341.9 168.9 1329.4 168.9 1320.2Z" fill="url(#rgb)" stroke="#064a66" stroke-width="1.3" stroke-opacity="0.9" fill-opacity="0.95" filter="url(#rim)"/>
<ellipse cx="217.7" cy="1334.8" rx="2.0" ry="3.9" transform="rotate(-20 217.7 1334.8)" fill="#fff" fill-opacity="0.7" filter="url(#hlb)"/>
<ellipse cx="209.6" cy="1369.0" rx="2.0" ry="2.9" transform="rotate(0 209.6 1369.0)" fill="#fff" fill-opacity="0.8" filter="url(#hlb)"/>
<ellipse cx="196.6" cy="1400.0" rx="1.6" ry="2.6" transform="rotate(0 196.6 1400.0)" fill="#fff" fill-opacity="0.7" filter="url(#hlb)"/>
<path d="M253.6 1365.8C253.8 1357.1 254.1 1347.3 256.8 1339.7C259.5 1332.1 264.4 1323.7 269.9 1320.2C275.3 1316.6 283.4 1316.4 289.4 1318.5C295.4 1320.7 301.6 1326.4 305.7 1333.2C309.8 1340.0 312.5 1350.0 314.2 1359.3C315.8 1368.5 316.3 1379.9 315.5 1388.6C314.6 1397.3 312.2 1404.9 308.9 1411.4C305.7 1417.9 300.8 1424.3 295.9 1427.7C291.0 1431.0 285.1 1433.8 279.6 1431.6C274.2 1429.4 267.4 1421.3 263.3 1414.6C259.3 1408.0 256.8 1400.0 255.2 1391.8C253.6 1383.7 253.3 1374.5 253.6 1365.8Z" fill="url(#rgg)" stroke="#264e1c" stroke-width="1.3" stroke-opacity="0.9" fill-opacity="0.93" filter="url(#rim)"/>
<ellipse cx="287.8" cy="1343.0" rx="2.3" ry="2.9" transform="rotate(0 287.8 1343.0)" fill="#fff" fill-opacity="0.8" filter="url(#hlb)"/>
<ellipse cx="278.0" cy="1372.3" rx="2.0" ry="2.6" transform="rotate(0 278.0 1372.3)" fill="#fff" fill-opacity="0.7" filter="url(#hlb)"/>
<ellipse cx="271.5" cy="1408.1" rx="1.6" ry="2.3" transform="rotate(0 271.5 1408.1)" fill="#fff" fill-opacity="0.6" filter="url(#hlb)"/>
<ellipse cx="329.1" cy="1186.6" rx="26.1" ry="20.2" transform="rotate(0 329.1 1186.6)" fill="url(#rgb)" stroke="#064a66" stroke-width="1.3" stroke-opacity="0.9" fill-opacity="0.95" filter="url(#rim)"/>
<path d="M302.4 1134.5C302.4 1126.3 304.1 1117.1 307.3 1111.7C310.6 1106.2 316.8 1103.3 322.0 1101.9C327.1 1100.5 333.4 1100.8 338.3 1103.5C343.2 1106.2 348.5 1111.9 351.3 1118.2C354.1 1124.4 355.8 1133.4 355.2 1141.0C354.7 1148.6 351.4 1157.7 348.0 1163.8C344.7 1169.9 339.9 1175.2 335.0 1177.5C330.1 1179.8 323.3 1180.3 318.7 1177.5C314.1 1174.7 310.0 1167.7 307.3 1160.5C304.6 1153.4 302.4 1142.6 302.4 1134.5Z" fill="url(#rgb)" stroke="#064a66" stroke-width="1.3" stroke-opacity="0.9" fill-opacity="0.95" filter="url(#rim)"/>
<ellipse cx="325.9" cy="1136.1" rx="2.0" ry="2.9" transform="rotate(0 325.9 1136.1)" fill="#fff" fill-opacity="0.8" filter="url(#hlb)"/>
<ellipse cx="338.3" cy="1118.2" rx="1.6" ry="2.6" transform="rotate(0 338.3 1118.2)" fill="#fff" fill-opacity="0.6" filter="url(#hlb)"/>
<path d="M313.8 1190.5L320.4 1176.8" stroke="#3a301f" stroke-opacity="0.7" stroke-width="7.7" stroke-linecap="round"/>
<path d="M313.8 1190.5L320.4 1176.8" stroke="#d22" stroke-width="5.9" stroke-linecap="round"/>
<path d="M313.8 1190.5L320.4 1176.8" stroke="#fff" stroke-opacity="0.3" stroke-width="1.8" stroke-linecap="round"/>
<path d="M224.2 1193.1C224.8 1187.0 228.6 1183.6 234.0 1180.1C239.5 1176.6 249.8 1173.0 256.8 1171.9C263.9 1170.9 274.2 1169.5 276.4 1173.6C278.5 1177.6 274.7 1189.2 269.9 1196.4C265.0 1203.5 253.6 1213.2 247.1 1216.6C240.5 1219.9 234.6 1220.5 230.8 1216.6C227.0 1212.7 223.7 1199.2 224.2 1193.1Z" fill="url(#rgg)" stroke="#264e1c" stroke-width="1.3" stroke-opacity="0.9" fill-opacity="0.93" filter="url(#rim)"/>
<path d="M315.5 1333.2C311.1 1337.7 318.2 1349.2 322.0 1353.4C325.8 1357.6 333.3 1359.5 338.3 1358.3C343.3 1357.1 350.3 1351.5 352.0 1346.2C353.6 1341.0 354.1 1328.9 348.0 1326.7C342.0 1324.5 319.8 1328.7 315.5 1333.2Z" fill="url(#rgb)" stroke="#064a66" stroke-width="1.3" stroke-opacity="0.9" fill-opacity="0.95" filter="url(#rim)"/>
<path d="M245.4 1202.9C247.1 1196.9 249.0 1188.5 253.6 1183.3C258.2 1178.2 266.1 1173.0 273.1 1171.9C280.2 1170.9 288.9 1173.3 295.9 1176.8C303.0 1180.4 309.5 1186.6 315.5 1193.1C321.4 1199.6 326.9 1207.2 331.8 1215.9C336.6 1224.6 341.5 1234.9 344.8 1245.2C348.0 1255.6 349.9 1267.5 351.3 1277.8C352.7 1288.1 354.3 1297.9 353.3 1307.1C352.2 1316.4 348.9 1326.6 344.8 1333.2C340.7 1339.8 333.9 1345.7 328.5 1346.9C323.1 1348.1 317.1 1344.3 312.2 1340.4C307.3 1336.5 303.5 1330.0 299.2 1323.4C294.8 1316.8 289.9 1308.8 286.1 1300.6C282.3 1292.5 280.2 1282.2 276.4 1274.6C272.6 1267.0 267.7 1261.5 263.3 1255.0C259.0 1248.5 253.6 1241.4 250.3 1235.5C247.1 1229.5 244.6 1224.6 243.8 1219.2C243.0 1213.7 243.8 1208.9 245.4 1202.9Z" fill="url(#rgb)" stroke="#064a66" stroke-width="1.3" stroke-opacity="0.9" fill-opacity="0.95" filter="url(#rim)"/>
<ellipse cx="273.1" cy="1202.9" rx="3.9" ry="2.3" transform="rotate(20 273.1 1202.9)" fill="#fff" fill-opacity="0.6" filter="url(#hlb)"/>
<ellipse cx="318.7" cy="1272.9" rx="2.0" ry="2.9" transform="rotate(0 318.7 1272.9)" fill="#fff" fill-opacity="0.8" filter="url(#hlb)"/>
<ellipse cx="308.9" cy="1310.4" rx="2.0" ry="2.9" transform="rotate(0 308.9 1310.4)" fill="#fff" fill-opacity="0.7" filter="url(#hlb)"/>
<ellipse cx="294.3" cy="1251.8" rx="2.0" ry="4.6" transform="rotate(-20 294.3 1251.8)" fill="#fff" fill-opacity="0.5" filter="url(#hlb)"/>
<path d="M318.7 1235.5C319.8 1231.7 324.7 1227.9 328.5 1228.9C332.3 1230.0 338.8 1237.6 341.5 1242.0C344.2 1246.3 346.4 1252.3 344.8 1255.0C343.2 1257.7 335.6 1258.8 331.8 1258.3C328.0 1257.7 324.2 1255.6 322.0 1251.8C319.8 1248.0 317.6 1239.3 318.7 1235.5Z" fill="#06364f" fill-opacity="0.3" filter="url(#shb)"/>
<path d="M396.9 1202.9C396.9 1192.6 399.6 1186.3 403.4 1180.1C407.2 1173.8 413.7 1167.9 419.7 1165.4C425.7 1163.0 433.3 1162.4 439.3 1165.4C445.2 1168.4 451.4 1175.5 455.5 1183.3C459.7 1191.2 462.9 1202.9 464.0 1212.7C465.1 1222.4 464.0 1233.3 462.1 1242.0C460.1 1250.7 456.6 1259.6 452.3 1264.8C447.9 1270.0 442.0 1273.3 436.0 1273.3C430.0 1273.3 421.9 1270.0 416.5 1264.8C411.0 1259.6 406.7 1252.3 403.4 1242.0C400.2 1231.7 396.9 1213.2 396.9 1202.9Z" fill="url(#rgg)" stroke="#264e1c" stroke-width="1.3" stroke-opacity="0.9" fill-opacity="0.93" filter="url(#rim)"/>
<ellipse cx="434.4" cy="1212.7" rx="2.0" ry="3.3" transform="rotate(0 434.4 1212.7)" fill="#fff" fill-opacity="0.8" filter="url(#hlb)"/>
<ellipse cx="442.5" cy="1189.9" rx="1.6" ry="3.9" transform="rotate(-20 442.5 1189.9)" fill="#fff" fill-opacity="0.5" filter="url(#hlb)"/>
<path d="M403.4 1242.0C402.9 1234.3 406.1 1230.0 409.9 1228.9C413.7 1227.9 421.8 1230.0 426.2 1235.5C430.7 1240.9 435.6 1253.8 436.7 1261.5C437.7 1269.2 436.7 1279.4 432.7 1281.7C428.8 1284.0 418.1 1281.8 413.2 1275.2C408.3 1268.6 404.0 1249.7 403.4 1242.0Z" fill="url(#rgb)" stroke="#064a66" stroke-width="1.3" stroke-opacity="0.9" fill-opacity="0.95" filter="url(#rim)"/>
<path d="M339.9 1300.6C340.4 1292.5 341.8 1279.4 344.8 1271.3C347.8 1263.2 352.4 1256.4 357.8 1251.8C363.2 1247.1 370.8 1244.2 377.4 1243.6C383.9 1243.1 390.9 1244.4 396.9 1248.5C402.9 1252.6 408.9 1260.4 413.2 1268.0C417.5 1275.6 421.0 1285.4 423.0 1294.1C424.9 1302.8 426.0 1311.5 424.9 1320.2C423.8 1328.9 420.6 1338.6 416.5 1346.2C412.3 1353.8 406.1 1361.3 400.2 1365.8C394.2 1370.2 387.1 1373.5 380.6 1372.9C374.1 1372.4 366.5 1368.1 361.1 1362.5C355.6 1357.0 351.3 1346.8 348.0 1339.7C344.8 1332.7 342.9 1326.7 341.5 1320.2C340.2 1313.7 339.4 1308.8 339.9 1300.6Z" fill="url(#rgg)" stroke="#264e1c" stroke-width="1.3" stroke-opacity="0.9" fill-opacity="0.93" filter="url(#rim)"/>
<ellipse cx="377.4" cy="1303.9" rx="2.3" ry="2.9" transform="rotate(0 377.4 1303.9)" fill="#fff" fill-opacity="0.8" filter="url(#hlb)"/>
<ellipse cx="361.1" cy="1336.5" rx="2.0" ry="2.3" transform="rotate(0 361.1 1336.5)" fill="#fff" fill-opacity="0.6" filter="url(#hlb)"/>
<path d="M380.6 1255.0C381.2 1251.2 388.8 1249.0 393.7 1251.8C398.5 1254.5 406.4 1263.7 409.9 1271.3C413.5 1278.9 415.9 1293.0 414.8 1297.4C413.7 1301.7 407.5 1301.2 403.4 1297.4C399.4 1293.6 394.2 1281.6 390.4 1274.6C386.6 1267.5 380.1 1258.8 380.6 1255.0Z" fill="#183f10" fill-opacity="0.32" filter="url(#shb)"/>
<path d="M383.9 1281.1C385.0 1276.2 390.9 1267.5 393.7 1268.0C396.4 1268.6 399.6 1279.4 400.2 1284.3C400.7 1289.2 399.1 1295.2 396.9 1297.4C394.7 1299.5 389.3 1300.1 387.1 1297.4C385.0 1294.6 382.8 1286.0 383.9 1281.1Z" fill="#183f10" fill-opacity="0.25" filter="url(#shb)"/>
<path d="M392.0 1385.3C390.9 1379.2 393.4 1370.7 396.9 1365.8C400.4 1360.9 407.8 1356.5 413.2 1356.0C418.6 1355.5 426.1 1358.2 429.5 1362.5C432.9 1366.9 434.5 1376.0 433.4 1382.1C432.3 1388.1 428.0 1395.6 423.0 1399.0C418.0 1402.4 408.6 1404.5 403.4 1402.3C398.3 1400.0 393.1 1391.4 392.0 1385.3Z" fill="url(#rgb)" stroke="#064a66" stroke-width="1.3" stroke-opacity="0.9" fill-opacity="0.95" filter="url(#rim)"/>
<path d="M393.7 1404.9C394.2 1399.1 400.2 1396.7 403.4 1396.7C406.7 1396.7 411.6 1400.3 413.2 1404.9C414.8 1409.5 415.4 1420.0 413.2 1424.4C411.0 1428.9 403.4 1434.8 400.2 1431.6C396.9 1428.3 393.1 1410.7 393.7 1404.9Z" fill="url(#rgg)" stroke="#264e1c" stroke-width="1.3" stroke-opacity="0.9" fill-opacity="0.93" filter="url(#rim)"/>
<path d="M432.7 1365.8C434.4 1362.8 441.9 1359.8 445.8 1360.9C449.7 1362.0 455.7 1368.8 456.2 1372.3C456.7 1375.8 452.4 1381.0 449.0 1382.1C445.7 1383.2 438.7 1381.5 436.0 1378.8C433.3 1376.1 431.1 1368.8 432.7 1365.8Z" fill="url(#rgg)" stroke="#264e1c" stroke-width="1.3" stroke-opacity="0.9" fill-opacity="0.93" filter="url(#rim)"/>
<path d="M413.2 1352.7L424.6 1380.4" stroke="#3a301f" stroke-opacity="0.7" stroke-width="8.3" stroke-linecap="round"/>
<path d="M413.2 1352.7L424.6 1380.4" stroke="#e6d22e" stroke-width="6.5" stroke-linecap="round"/>
<path d="M413.2 1352.7L424.6 1380.4" stroke="#fff" stroke-opacity="0.3" stroke-width="2.0" stroke-linecap="round"/>
<path d="M429.5 1380.4L458.8 1369.0" stroke="#3a301f" stroke-opacity="0.7" stroke-width="8.3" stroke-linecap="round"/>
<path d="M429.5 1380.4L458.8 1369.0" stroke="#e6d22e" stroke-width="6.5" stroke-linecap="round"/>
<path d="M429.5 1380.4L458.8 1369.0" stroke="#fff" stroke-opacity="0.3" stroke-width="2.0" stroke-linecap="round"/>
<path d="M406.7 1437.4C406.4 1427.7 408.3 1413.6 411.6 1404.9C414.8 1396.2 420.5 1389.9 426.2 1385.3C431.9 1380.7 439.8 1377.2 445.8 1377.2C451.7 1377.2 457.4 1380.2 462.1 1385.3C466.7 1390.5 471.5 1399.4 473.8 1408.1C476.1 1416.8 477.2 1428.2 475.7 1437.4C474.3 1446.7 469.8 1456.3 465.3 1463.5C460.9 1470.7 455.0 1477.7 449.0 1480.4C443.1 1483.2 435.5 1482.6 429.5 1479.8C423.5 1477.0 417.0 1470.6 413.2 1463.5C409.4 1456.4 407.0 1447.2 406.7 1437.4Z" fill="url(#rgg)" stroke="#264e1c" stroke-width="1.3" stroke-opacity="0.9" fill-opacity="0.93" filter="url(#rim)"/>
<ellipse cx="440.9" cy="1430.9" rx="2.0" ry="2.9" transform="rotate(0 440.9 1430.9)" fill="#fff" fill-opacity="0.8" filter="url(#hlb)"/>
<ellipse cx="452.3" cy="1401.6" rx="1.6" ry="2.6" transform="rotate(0 452.3 1401.6)" fill="#fff" fill-opacity="0.6" filter="url(#hlb)"/>
<ellipse cx="423.0" cy="1460.3" rx="1.6" ry="2.3" transform="rotate(0 423.0 1460.3)" fill="#fff" fill-opacity="0.6" filter="url(#hlb)"/>
<path d="M468.6 1242.0C469.4 1230.6 471.8 1225.4 475.1 1219.2C478.4 1212.9 483.2 1207.2 488.1 1204.5C493.0 1201.8 499.5 1200.4 504.4 1202.9C509.3 1205.3 514.4 1211.6 517.4 1219.2C520.5 1226.8 521.6 1238.2 522.7 1248.5C523.7 1258.8 522.9 1270.2 524.0 1281.1C525.0 1291.9 527.5 1303.3 529.2 1313.7C530.8 1324.0 533.5 1334.3 533.7 1343.0C534.0 1351.7 533.2 1360.2 530.5 1365.8C527.8 1371.3 522.9 1375.0 517.4 1376.2C512.0 1377.4 503.9 1376.3 497.9 1372.9C491.9 1369.6 485.7 1363.7 481.6 1356.0C477.5 1348.3 475.4 1338.1 473.5 1326.7C471.6 1315.3 471.0 1301.7 470.2 1287.6C469.4 1273.5 467.8 1253.4 468.6 1242.0Z" fill="url(#rgb)" stroke="#064a66" stroke-width="1.3" stroke-opacity="0.9" fill-opacity="0.95" filter="url(#rim)"/>
<ellipse cx="497.9" cy="1255.0" rx="2.0" ry="3.3" transform="rotate(0 497.9 1255.0)" fill="#fff" fill-opacity="0.8" filter="url(#hlb)"/>
<ellipse cx="502.8" cy="1328.3" rx="2.0" ry="2.9" transform="rotate(0 502.8 1328.3)" fill="#fff" fill-opacity="0.7" filter="url(#hlb)"/>
<ellipse cx="488.1" cy="1232.2" rx="1.6" ry="2.6" transform="rotate(0 488.1 1232.2)" fill="#fff" fill-opacity="0.6" filter="url(#hlb)"/>
<path d="M515.8 1183.3C515.8 1177.9 517.2 1171.1 520.7 1167.1C524.2 1163.0 531.6 1158.9 537.0 1158.9C542.4 1158.9 549.5 1163.0 553.3 1167.1C557.1 1171.1 559.8 1177.4 559.8 1183.3C559.8 1189.3 557.1 1198.8 553.3 1202.9C549.5 1207.0 542.4 1208.6 537.0 1208.1C531.6 1207.6 524.2 1203.8 520.7 1199.6C517.2 1195.5 515.8 1188.8 515.8 1183.3Z" fill="url(#rgg)" stroke="#264e1c" stroke-width="1.3" stroke-opacity="0.9" fill-opacity="0.93" filter="url(#rim)"/>
<ellipse cx="543.5" cy="1180.1" rx="1.6" ry="2.3" transform="rotate(0 543.5 1180.1)" fill="#fff" fill-opacity="0.5" filter="url(#hlb)"/>
<path d="M572.8 1222.4C573.4 1213.7 576.1 1207.2 579.3 1202.9C582.6 1198.5 587.5 1196.9 592.4 1196.4C597.3 1195.8 604.0 1196.4 608.7 1199.6C613.3 1202.9 617.9 1208.9 620.4 1215.9C622.9 1223.0 624.0 1233.3 623.6 1242.0C623.3 1250.7 618.4 1259.4 618.4 1268.0C618.4 1276.7 622.0 1285.4 623.6 1294.1C625.3 1302.8 628.5 1312.6 628.2 1320.2C627.9 1327.8 625.5 1335.3 621.7 1339.7C617.9 1344.2 610.8 1347.4 605.4 1346.9C600.0 1346.3 592.9 1342.0 589.1 1336.5C585.3 1330.9 584.2 1321.8 582.6 1313.7C581.0 1305.5 580.4 1297.4 579.3 1287.6C578.3 1277.8 577.2 1265.9 576.1 1255.0C575.0 1244.2 572.3 1231.1 572.8 1222.4Z" fill="url(#rgb)" stroke="#064a66" stroke-width="1.3" stroke-opacity="0.9" fill-opacity="0.95" filter="url(#rim)"/>
<ellipse cx="605.4" cy="1230.6" rx="1.6" ry="2.9" transform="rotate(0 605.4 1230.6)" fill="#fff" fill-opacity="0.7" filter="url(#hlb)"/>
<ellipse cx="608.7" cy="1310.4" rx="1.6" ry="2.9" transform="rotate(0 608.7 1310.4)" fill="#fff" fill-opacity="0.7" filter="url(#hlb)"/>
<ellipse cx="554.9" cy="1378.8" rx="5.9" ry="6.5" transform="rotate(0 554.9 1378.8)" fill="url(#rgg)" stroke="#264e1c" stroke-width="1.3" stroke-opacity="0.9" fill-opacity="0.93" filter="url(#rim)"/>
<ellipse cx="426.2" cy="1382.7" rx="8.5" ry="9.8" fill="url(#aS)"/>
<ellipse cx="193.3" cy="1442.3" rx="9.8" ry="10.1" fill="url(#aH)" stroke="#2a2418" stroke-width="1.2" stroke-opacity="0.75"/>
<ellipse cx="308.9" cy="1437.4" rx="9.8" ry="10.1" fill="url(#aH)" stroke="#2a2418" stroke-width="1.2" stroke-opacity="0.75"/>
<ellipse cx="147.7" cy="1297.4" rx="9.1" ry="9.4" fill="url(#aH)" stroke="#2a2418" stroke-width="1.2" stroke-opacity="0.75"/>
<ellipse cx="362.7" cy="1128.0" rx="9.8" ry="10.1" fill="url(#aH)" stroke="#2a2418" stroke-width="1.2" stroke-opacity="0.75"/>
<path d="M951.6 1132.8L902.7 1128.0" stroke="#3a301f" stroke-opacity="0.7" stroke-width="10.9" stroke-linecap="round"/>
<path d="M951.6 1132.8L927.1 1130.4" stroke="#b39a72" stroke-width="9.1" stroke-linecap="round"/>
<path d="M927.1 1130.4L902.7 1128.0" stroke="#e4e4e4" stroke-width="9.1" stroke-linecap="round"/>
<path d="M951.6 1132.8L902.7 1128.0" stroke="#fff" stroke-opacity="0.3" stroke-width="2.7" stroke-linecap="round"/>
<path d="M951.6 1132.8L956.5 1074.2" stroke="#3a301f" stroke-opacity="0.7" stroke-width="10.9" stroke-linecap="round"/>
<path d="M951.6 1132.8L954.0 1103.5" stroke="#b39a72" stroke-width="9.1" stroke-linecap="round"/>
<path d="M954.0 1103.5L956.5 1074.2" stroke="#e4e4e4" stroke-width="9.1" stroke-linecap="round"/>
<path d="M951.6 1132.8L956.5 1074.2" stroke="#fff" stroke-opacity="0.3" stroke-width="2.7" stroke-linecap="round"/>
<path d="M951.6 1132.8L987.4 1113.3" stroke="#3a301f" stroke-opacity="0.7" stroke-width="10.9" stroke-linecap="round"/>
<path d="M951.6 1132.8L969.5 1123.1" stroke="#b39a72" stroke-width="9.1" stroke-linecap="round"/>
<path d="M969.5 1123.1L987.4 1113.3" stroke="#e4e4e4" stroke-width="9.1" stroke-linecap="round"/>
<path d="M951.6 1132.8L987.4 1113.3" stroke="#fff" stroke-opacity="0.3" stroke-width="2.7" stroke-linecap="round"/>
<path d="M1075.4 1183.3L1070.5 1110.0" stroke="#3a301f" stroke-opacity="0.7" stroke-width="10.9" stroke-linecap="round"/>
<path d="M1075.4 1183.3L1072.9 1146.7" stroke="#b39a72" stroke-width="9.1" stroke-linecap="round"/>
<path d="M1072.9 1146.7L1070.5 1110.0" stroke="#e4e4e4" stroke-width="9.1" stroke-linecap="round"/>
<path d="M1075.4 1183.3L1070.5 1110.0" stroke="#fff" stroke-opacity="0.3" stroke-width="2.7" stroke-linecap="round"/>
<path d="M1125.9 1222.4L1168.2 1175.2" stroke="#3a301f" stroke-opacity="0.7" stroke-width="10.9" stroke-linecap="round"/>
<path d="M1125.9 1222.4L1147.0 1198.8" stroke="#b39a72" stroke-width="9.1" stroke-linecap="round"/>
<path d="M1147.0 1198.8L1168.2 1175.2" stroke="#e4e4e4" stroke-width="9.1" stroke-linecap="round"/>
<path d="M1125.9 1222.4L1168.2 1175.2" stroke="#fff" stroke-opacity="0.3" stroke-width="2.7" stroke-linecap="round"/>
<path d="M1132.4 1323.4L1176.4 1334.8" stroke="#3a301f" stroke-opacity="0.7" stroke-width="10.9" stroke-linecap="round"/>
<path d="M1132.4 1323.4L1154.4 1329.1" stroke="#b39a72" stroke-width="9.1" stroke-linecap="round"/>
<path d="M1154.4 1329.1L1176.4 1334.8" stroke="#e4e4e4" stroke-width="9.1" stroke-linecap="round"/>
<path d="M1132.4 1323.4L1176.4 1334.8" stroke="#fff" stroke-opacity="0.3" stroke-width="2.7" stroke-linecap="round"/>
<path d="M1090.0 1372.3L1093.3 1439.1" stroke="#3a301f" stroke-opacity="0.7" stroke-width="10.9" stroke-linecap="round"/>
<path d="M1090.0 1372.3L1091.7 1405.7" stroke="#b39a72" stroke-width="9.1" stroke-linecap="round"/>
<path d="M1091.7 1405.7L1093.3 1439.1" stroke="#e4e4e4" stroke-width="9.1" stroke-linecap="round"/>
<path d="M1090.0 1372.3L1093.3 1439.1" stroke="#fff" stroke-opacity="0.3" stroke-width="2.7" stroke-linecap="round"/>
<path d="M839.2 1414.6L850.6 1448.8" stroke="#3a301f" stroke-opacity="0.7" stroke-width="10.9" stroke-linecap="round"/>
<path d="M839.2 1414.6L844.9 1431.7" stroke="#b39a72" stroke-width="9.1" stroke-linecap="round"/>
<path d="M844.9 1431.7L850.6 1448.8" stroke="#e4e4e4" stroke-width="9.1" stroke-linecap="round"/>
<path d="M839.2 1414.6L850.6 1448.8" stroke="#fff" stroke-opacity="0.3" stroke-width="2.7" stroke-linecap="round"/>
<path d="M748.0 1417.9L736.6 1447.2" stroke="#3a301f" stroke-opacity="0.7" stroke-width="10.9" stroke-linecap="round"/>
<path d="M748.0 1417.9L742.3 1432.6" stroke="#b39a72" stroke-width="9.1" stroke-linecap="round"/>
<path d="M742.3 1432.6L736.6 1447.2" stroke="#e4e4e4" stroke-width="9.1" stroke-linecap="round"/>
<path d="M748.0 1417.9L736.6 1447.2" stroke="#fff" stroke-opacity="0.3" stroke-width="2.7" stroke-linecap="round"/>
<path d="M770.8 1228.9L751.2 1163.8" stroke="#3a301f" stroke-opacity="0.7" stroke-width="10.9" stroke-linecap="round"/>
<path d="M770.8 1228.9L761.0 1196.4" stroke="#b39a72" stroke-width="9.1" stroke-linecap="round"/>
<path d="M761.0 1196.4L751.2 1163.8" stroke="#e4e4e4" stroke-width="9.1" stroke-linecap="round"/>
<path d="M770.8 1228.9L751.2 1163.8" stroke="#fff" stroke-opacity="0.3" stroke-width="2.7" stroke-linecap="round"/>
<path d="M1021.6 1242.0L1075.4 1183.3" stroke="#3a301f" stroke-opacity="0.7" stroke-width="11.6" stroke-linecap="round"/>
<path d="M1021.6 1242.0L1075.4 1183.3" stroke="#b39a72" stroke-width="9.8" stroke-linecap="round"/>
<path d="M1021.6 1242.0L1075.4 1183.3" stroke="#fff" stroke-opacity="0.3" stroke-width="2.9" stroke-linecap="round"/>
<path d="M1075.4 1183.3L1125.9 1222.4" stroke="#3a301f" stroke-opacity="0.7" stroke-width="11.6" stroke-linecap="round"/>
<path d="M1075.4 1183.3L1125.9 1222.4" stroke="#b39a72" stroke-width="9.8" stroke-linecap="round"/>
<path d="M1075.4 1183.3L1125.9 1222.4" stroke="#fff" stroke-opacity="0.3" stroke-width="2.9" stroke-linecap="round"/>
<path d="M1125.9 1222.4L1132.4 1323.4" stroke="#3a301f" stroke-opacity="0.7" stroke-width="11.6" stroke-linecap="round"/>
<path d="M1125.9 1222.4L1132.4 1323.4" stroke="#b39a72" stroke-width="9.8" stroke-linecap="round"/>
<path d="M1125.9 1222.4L1132.4 1323.4" stroke="#fff" stroke-opacity="0.3" stroke-width="2.9" stroke-linecap="round"/>
<path d="M1132.4 1323.4L1090.0 1372.3" stroke="#3a301f" stroke-opacity="0.7" stroke-width="11.6" stroke-linecap="round"/>
<path d="M1132.4 1323.4L1090.0 1372.3" stroke="#b39a72" stroke-width="9.8" stroke-linecap="round"/>
<path d="M1132.4 1323.4L1090.0 1372.3" stroke="#fff" stroke-opacity="0.3" stroke-width="2.9" stroke-linecap="round"/>
<path d="M1090.0 1372.3L1021.6 1356.0" stroke="#3a301f" stroke-opacity="0.7" stroke-width="11.6" stroke-linecap="round"/>
<path d="M1090.0 1372.3L1021.6 1356.0" stroke="#b39a72" stroke-width="9.8" stroke-linecap="round"/>
<path d="M1090.0 1372.3L1021.6 1356.0" stroke="#fff" stroke-opacity="0.3" stroke-width="2.9" stroke-linecap="round"/>
<path d="M951.6 1132.8L958.1 1167.1" stroke="#3a301f" stroke-opacity="0.7" stroke-width="11.6" stroke-linecap="round"/>
<path d="M951.6 1132.8L958.1 1167.1" stroke="#b39a72" stroke-width="9.8" stroke-linecap="round"/>
<path d="M951.6 1132.8L958.1 1167.1" stroke="#fff" stroke-opacity="0.3" stroke-width="2.9" stroke-linecap="round"/>
<path d="M1002.1 1238.7L1021.6 1242.0" stroke="#3a301f" stroke-opacity="0.7" stroke-width="11.6" stroke-linecap="round"/>
<path d="M1002.1 1238.7L1021.6 1242.0" stroke="#b39a72" stroke-width="9.8" stroke-linecap="round"/>
<path d="M1002.1 1238.7L1021.6 1242.0" stroke="#fff" stroke-opacity="0.3" stroke-width="2.9" stroke-linecap="round"/>
<path d="M770.8 1228.9L752.8 1264.8" stroke="#3a301f" stroke-opacity="0.7" stroke-width="11.6" stroke-linecap="round"/>
<path d="M770.8 1228.9L752.8 1264.8" stroke="#b39a72" stroke-width="9.8" stroke-linecap="round"/>
<path d="M770.8 1228.9L752.8 1264.8" stroke="#fff" stroke-opacity="0.3" stroke-width="2.9" stroke-linecap="round"/>
<path d="M964.6 1382.1L1021.6 1356.0" stroke="#3a301f" stroke-opacity="0.7" stroke-width="10.9" stroke-linecap="round"/>
<path d="M964.6 1382.1L993.1 1369.0" stroke="#e6d22e" stroke-width="9.1" stroke-linecap="round"/>
<path d="M993.1 1369.0L1021.6 1356.0" stroke="#b39a72" stroke-width="9.1" stroke-linecap="round"/>
<path d="M964.6 1382.1L1021.6 1356.0" stroke="#fff" stroke-opacity="0.3" stroke-width="2.7" stroke-linecap="round"/>
<ellipse cx="902.7" cy="1128.0" rx="9.8" ry="10.3" fill="url(#aH)" stroke="#2a2418" stroke-width="1.2" stroke-opacity="0.75"/>
<ellipse cx="956.5" cy="1074.2" rx="9.1" ry="9.6" fill="url(#aH)" stroke="#2a2418" stroke-width="1.2" stroke-opacity="0.75"/>
<ellipse cx="987.4" cy="1113.3" rx="10.4" ry="10.9" fill="url(#aH)" stroke="#2a2418" stroke-width="1.2" stroke-opacity="0.75"/>
<ellipse cx="1070.5" cy="1110.0" rx="9.8" ry="10.3" fill="url(#aH)" stroke="#2a2418" stroke-width="1.2" stroke-opacity="0.75"/>
<ellipse cx="1168.2" cy="1175.2" rx="9.8" ry="10.3" fill="url(#aH)" stroke="#2a2418" stroke-width="1.2" stroke-opacity="0.75"/>
<ellipse cx="1176.4" cy="1334.8" rx="9.8" ry="10.3" fill="url(#aH)" stroke="#2a2418" stroke-width="1.2" stroke-opacity="0.75"/>
<ellipse cx="1093.3" cy="1439.1" rx="9.1" ry="9.6" fill="url(#aH)" stroke="#2a2418" stroke-width="1.2" stroke-opacity="0.75"/>
<ellipse cx="850.6" cy="1448.8" rx="9.8" ry="10.3" fill="url(#aH)" stroke="#2a2418" stroke-width="1.2" stroke-opacity="0.75"/>
<ellipse cx="736.6" cy="1447.2" rx="9.8" ry="10.3" fill="url(#aH)" stroke="#2a2418" stroke-width="1.2" stroke-opacity="0.75"/>
<ellipse cx="684.4" cy="1300.6" rx="9.1" ry="9.6" fill="url(#aH)" stroke="#2a2418" stroke-width="1.2" stroke-opacity="0.75"/>
<ellipse cx="751.2" cy="1163.8" rx="9.1" ry="9.6" fill="url(#aH)" stroke="#2a2418" stroke-width="1.2" stroke-opacity="0.75"/>
<ellipse cx="840.8" cy="1113.3" rx="7.2" ry="7.5" fill="url(#aH)" stroke="#2a2418" stroke-width="1.2" stroke-opacity="0.75"/>
<ellipse cx="951.6" cy="1132.8" rx="15.6" ry="23.5" fill="url(#aC)" stroke="#2a2418" stroke-width="1.2" stroke-opacity="0.75"/>
<ellipse cx="1075.4" cy="1183.3" rx="15.6" ry="22.2" fill="url(#aC)" stroke="#2a2418" stroke-width="1.2" stroke-opacity="0.75"/>
<ellipse cx="1125.9" cy="1222.4" rx="13.0" ry="19.5" fill="url(#aC)" stroke="#2a2418" stroke-width="1.2" stroke-opacity="0.75"/>
<ellipse cx="1090.0" cy="1372.3" rx="14.7" ry="22.2" fill="url(#aC)" stroke="#2a2418" stroke-width="1.2" stroke-opacity="0.75"/>
<ellipse cx="770.8" cy="1228.9" rx="13.7" ry="17.9" fill="url(#aC)" stroke="#2a2418" stroke-width="1.2" stroke-opacity="0.75"/>
<path d="M689.3 1294.1C689.0 1287.0 689.3 1275.6 692.6 1268.0C695.8 1260.4 702.9 1252.3 708.9 1248.5C714.8 1244.7 721.9 1243.6 728.4 1245.2C734.9 1246.9 743.1 1252.3 748.0 1258.3C752.8 1264.2 755.6 1273.5 757.7 1281.1C759.9 1288.7 762.1 1296.8 761.0 1303.9C759.9 1310.9 756.1 1319.0 751.2 1323.4C746.3 1327.9 738.7 1330.6 731.7 1330.6C724.6 1330.6 715.1 1326.8 708.9 1323.4C702.6 1320.1 697.5 1315.3 694.2 1310.4C690.9 1305.5 689.6 1301.2 689.3 1294.1Z" fill="url(#rgg)" stroke="#264e1c" stroke-width="1.3" stroke-opacity="0.9" fill-opacity="0.93" filter="url(#rim)"/>
<ellipse cx="730.0" cy="1268.0" rx="2.0" ry="2.6" transform="rotate(0 730.0 1268.0)" fill="#fff" fill-opacity="0.7" filter="url(#hlb)"/>
<ellipse cx="715.4" cy="1295.7" rx="1.6" ry="2.6" transform="rotate(0 715.4 1295.7)" fill="#fff" fill-opacity="0.6" filter="url(#hlb)"/>
<path d="M710.5 1333.2C710.2 1323.4 714.0 1313.4 718.6 1307.1C723.3 1300.9 731.7 1296.3 738.2 1295.7C744.7 1295.2 751.8 1298.7 757.7 1303.9C763.7 1309.0 769.4 1318.0 774.0 1326.7C778.7 1335.4 783.0 1346.2 785.7 1356.0C788.5 1365.8 789.8 1376.6 790.3 1385.3C790.8 1394.0 790.9 1401.6 788.7 1408.1C786.5 1414.6 781.9 1420.8 777.3 1424.4C772.7 1428.0 766.4 1430.7 761.0 1429.6C755.6 1428.5 749.6 1423.7 744.7 1417.9C739.8 1412.1 735.7 1403.8 731.7 1395.1C727.6 1386.4 723.8 1376.1 720.3 1365.8C716.7 1355.5 710.8 1343.0 710.5 1333.2Z" fill="url(#rgb)" stroke="#064a66" stroke-width="1.3" stroke-opacity="0.9" fill-opacity="0.95" filter="url(#rim)"/>
<ellipse cx="748.0" cy="1333.2" rx="2.0" ry="5.2" transform="rotate(-15 748.0 1333.2)" fill="#fff" fill-opacity="0.7" filter="url(#hlb)"/>
<ellipse cx="749.6" cy="1372.3" rx="2.0" ry="2.9" transform="rotate(0 749.6 1372.3)" fill="#fff" fill-opacity="0.8" filter="url(#hlb)"/>
<ellipse cx="738.2" cy="1401.6" rx="1.6" ry="2.6" transform="rotate(0 738.2 1401.6)" fill="#fff" fill-opacity="0.6" filter="url(#hlb)"/>
<path d="M791.9 1375.5C792.5 1367.4 793.8 1356.5 796.8 1349.5C799.8 1342.4 805.0 1336.2 809.9 1333.2C814.7 1330.2 820.7 1329.9 826.1 1331.6C831.6 1333.2 838.3 1336.7 842.4 1343.0C846.6 1349.2 849.3 1360.3 850.9 1369.0C852.5 1377.7 852.8 1387.5 852.2 1395.1C851.6 1402.7 850.0 1408.9 847.3 1414.6C844.6 1420.4 840.5 1426.6 835.9 1429.6C831.3 1432.7 825.1 1434.3 819.6 1432.9C814.2 1431.5 807.7 1426.9 803.3 1421.2C799.0 1415.4 795.5 1406.0 793.6 1398.4C791.7 1390.8 791.4 1383.7 791.9 1375.5Z" fill="url(#rgg)" stroke="#264e1c" stroke-width="1.3" stroke-opacity="0.9" fill-opacity="0.93" filter="url(#rim)"/>
<ellipse cx="824.5" cy="1352.7" rx="2.3" ry="2.9" transform="rotate(0 824.5 1352.7)" fill="#fff" fill-opacity="0.8" filter="url(#hlb)"/>
<ellipse cx="816.4" cy="1382.1" rx="2.0" ry="2.6" transform="rotate(0 816.4 1382.1)" fill="#fff" fill-opacity="0.7" filter="url(#hlb)"/>
<ellipse cx="813.1" cy="1414.6" rx="1.6" ry="2.3" transform="rotate(0 813.1 1414.6)" fill="#fff" fill-opacity="0.6" filter="url(#hlb)"/>
<ellipse cx="865.2" cy="1185.0" rx="23.5" ry="16.9" transform="rotate(0 865.2 1185.0)" fill="url(#rgb)" stroke="#064a66" stroke-width="1.3" stroke-opacity="0.9" fill-opacity="0.95" filter="url(#rim)"/>
<path d="M842.4 1137.7C842.7 1130.1 844.3 1120.6 847.3 1114.9C850.3 1109.2 855.7 1105.2 860.4 1103.5C865.0 1101.9 870.6 1102.4 875.0 1105.2C879.4 1107.9 884.2 1113.3 886.7 1119.8C889.2 1126.3 890.3 1136.9 890.0 1144.2C889.7 1151.6 887.8 1158.6 884.8 1163.8C881.7 1169.0 876.4 1173.9 871.8 1175.5C867.1 1177.2 861.4 1176.1 857.1 1173.6C852.8 1171.1 848.1 1166.5 845.7 1160.5C843.2 1154.6 842.2 1145.3 842.4 1137.7Z" fill="url(#rgb)" stroke="#064a66" stroke-width="1.3" stroke-opacity="0.9" fill-opacity="0.95" filter="url(#rim)"/>
<ellipse cx="864.6" cy="1136.1" rx="2.0" ry="2.9" transform="rotate(0 864.6 1136.1)" fill="#fff" fill-opacity="0.8" filter="url(#hlb)"/>
<ellipse cx="873.4" cy="1118.2" rx="1.6" ry="2.6" transform="rotate(0 873.4 1118.2)" fill="#fff" fill-opacity="0.6" filter="url(#hlb)"/>
<path d="M852.2 1188.2L857.1 1175.2" stroke="#3a301f" stroke-opacity="0.7" stroke-width="7.7" stroke-linecap="round"/>
<path d="M852.2 1188.2L857.1 1175.2" stroke="#d22" stroke-width="5.9" stroke-linecap="round"/>
<path d="M852.2 1188.2L857.1 1175.2" stroke="#fff" stroke-opacity="0.3" stroke-width="1.8" stroke-linecap="round"/>
<path d="M855.5 1352.7C853.8 1357.6 860.9 1361.4 865.2 1362.5C869.6 1363.6 877.7 1362.5 881.5 1359.3C885.3 1356.0 889.1 1347.3 888.0 1343.0C887.0 1338.6 880.4 1331.6 875.0 1333.2C869.6 1334.8 857.1 1347.9 855.5 1352.7Z" fill="url(#rgb)" stroke="#064a66" stroke-width="1.3" stroke-opacity="0.9" fill-opacity="0.95" filter="url(#rim)"/>
<path d="M796.8 1238.7C797.9 1234.4 803.2 1230.6 806.6 1235.5C810.0 1240.4 816.5 1260.9 817.0 1268.0C817.6 1275.2 812.7 1279.6 809.9 1278.5C807.0 1277.4 802.3 1268.2 800.1 1261.5C797.9 1254.9 795.7 1243.1 796.8 1238.7Z" fill="url(#rgg)" stroke="#264e1c" stroke-width="1.3" stroke-opacity="0.9" fill-opacity="0.93" filter="url(#rim)"/>
<path d="M800.1 1222.4C800.6 1214.8 802.8 1205.6 806.6 1199.6C810.4 1193.7 816.9 1188.8 822.9 1186.6C828.9 1184.4 836.5 1184.4 842.4 1186.6C848.4 1188.8 853.8 1193.7 858.7 1199.6C863.6 1205.6 868.0 1213.7 871.8 1222.4C875.6 1231.1 878.8 1241.4 881.5 1251.8C884.2 1262.1 886.6 1274.0 888.0 1284.3C889.5 1294.6 890.5 1304.4 890.0 1313.7C889.5 1322.9 887.8 1332.7 884.8 1339.7C881.7 1346.8 876.6 1352.6 871.8 1356.0C866.9 1359.4 860.9 1361.0 855.5 1359.9C850.0 1358.8 843.5 1355.0 839.2 1349.5C834.8 1343.9 832.7 1335.4 829.4 1326.7C826.1 1318.0 822.3 1307.1 819.6 1297.4C816.9 1287.6 815.8 1276.7 813.1 1268.0C810.4 1259.4 805.5 1252.8 803.3 1245.2C801.2 1237.6 799.5 1230.0 800.1 1222.4Z" fill="url(#rgb)" stroke="#064a66" stroke-width="1.3" stroke-opacity="0.9" fill-opacity="0.95" filter="url(#rim)"/>
<ellipse cx="847.3" cy="1281.1" rx="2.0" ry="3.3" transform="rotate(0 847.3 1281.1)" fill="#fff" fill-opacity="0.8" filter="url(#hlb)"/>
<ellipse cx="842.4" cy="1323.4" rx="2.0" ry="2.9" transform="rotate(0 842.4 1323.4)" fill="#fff" fill-opacity="0.7" filter="url(#hlb)"/>
<ellipse cx="829.4" cy="1222.4" rx="2.0" ry="3.3" transform="rotate(0 829.4 1222.4)" fill="#fff" fill-opacity="0.5" filter="url(#hlb)"/>
<path d="M769.1 1202.9C769.1 1195.7 770.5 1189.0 774.0 1183.3C777.6 1177.6 783.8 1172.2 790.3 1168.7C796.8 1165.2 805.5 1162.2 813.1 1162.2C820.7 1162.2 829.8 1165.2 835.9 1168.7C842.0 1172.2 848.5 1178.6 849.6 1183.3C850.7 1188.1 846.9 1194.7 842.4 1197.0C838.0 1199.3 829.4 1194.9 822.9 1197.0C816.4 1199.2 808.8 1205.2 803.3 1210.1C797.9 1214.9 795.2 1223.6 790.3 1226.3C785.4 1229.1 777.6 1230.3 774.0 1226.3C770.5 1222.4 769.1 1210.1 769.1 1202.9Z" fill="url(#rgg)" stroke="#264e1c" stroke-width="1.3" stroke-opacity="0.9" fill-opacity="0.93" filter="url(#rim)"/>
<ellipse cx="826.1" cy="1180.1" rx="3.3" ry="2.0" transform="rotate(20 826.1 1180.1)" fill="#fff" fill-opacity="0.6" filter="url(#hlb)"/>
<ellipse cx="780.5" cy="1209.4" rx="2.0" ry="2.0" transform="rotate(0 780.5 1209.4)" fill="#fff" fill-opacity="0.5" filter="url(#hlb)"/>
<path d="M858.7 1238.7C860.1 1235.5 865.2 1231.1 868.5 1232.2C871.8 1233.3 876.4 1240.9 878.3 1245.2C880.2 1249.6 881.5 1255.6 879.9 1258.3C878.3 1261.0 871.8 1262.6 868.5 1261.5C865.2 1260.4 862.0 1255.6 860.4 1251.8C858.7 1248.0 857.4 1242.0 858.7 1238.7Z" fill="#06364f" fill-opacity="0.3" filter="url(#shb)"/>
<path d="M935.3 1202.9C935.0 1191.5 938.3 1186.1 941.8 1180.1C945.3 1174.1 950.8 1169.5 956.5 1167.1C962.2 1164.6 970.0 1163.3 976.0 1165.4C982.0 1167.6 988.2 1173.3 992.3 1180.1C996.4 1186.9 999.3 1196.9 1000.8 1206.1C1002.2 1215.4 1002.2 1226.8 1000.8 1235.5C999.3 1244.2 995.9 1252.2 992.3 1258.3C988.7 1264.4 984.7 1270.2 979.3 1272.0C973.8 1273.7 965.7 1272.6 959.7 1268.7C953.7 1264.8 947.5 1259.5 943.4 1248.5C939.4 1237.5 935.6 1214.3 935.3 1202.9Z" fill="url(#rgg)" stroke="#264e1c" stroke-width="1.3" stroke-opacity="0.9" fill-opacity="0.93" filter="url(#rim)"/>
<ellipse cx="974.4" cy="1209.4" rx="2.0" ry="3.3" transform="rotate(0 974.4 1209.4)" fill="#fff" fill-opacity="0.8" filter="url(#hlb)"/>
<ellipse cx="980.9" cy="1186.6" rx="1.6" ry="3.9" transform="rotate(-20 980.9 1186.6)" fill="#fff" fill-opacity="0.5" filter="url(#hlb)"/>
<path d="M936.9 1235.5C937.5 1227.3 939.6 1223.0 943.4 1219.2C947.2 1215.4 954.3 1211.6 959.7 1212.7C965.1 1213.7 972.1 1219.2 976.0 1225.7C979.9 1232.2 982.6 1243.5 983.2 1251.8C983.7 1260.0 982.1 1268.6 979.3 1275.2C976.4 1281.8 971.1 1288.8 966.2 1291.5C961.3 1294.2 954.3 1295.4 949.9 1291.5C945.6 1287.6 942.3 1277.4 940.2 1268.0C938.0 1258.7 936.4 1243.6 936.9 1235.5Z" fill="url(#rgb)" stroke="#064a66" stroke-width="1.3" stroke-opacity="0.9" fill-opacity="0.95" filter="url(#rim)"/>
<ellipse cx="961.3" cy="1238.7" rx="1.6" ry="2.9" transform="rotate(0 961.3 1238.7)" fill="#fff" fill-opacity="0.6" filter="url(#hlb)"/>
<path d="M876.6 1307.1C877.2 1299.5 878.5 1286.5 881.5 1277.8C884.5 1269.1 889.1 1260.4 894.6 1255.0C900.0 1249.6 907.6 1246.1 914.1 1245.2C920.6 1244.4 927.7 1246.3 933.7 1250.1C939.6 1253.9 945.6 1260.7 949.9 1268.0C954.3 1275.4 957.8 1285.4 959.7 1294.1C961.7 1302.8 962.8 1311.5 961.7 1320.2C960.6 1328.9 957.3 1338.6 953.2 1346.2C949.1 1353.8 942.9 1361.6 936.9 1365.8C930.9 1369.9 923.9 1371.8 917.4 1371.0C910.8 1370.2 903.2 1366.1 897.8 1360.9C892.4 1355.7 888.0 1346.0 884.8 1339.7C881.5 1333.5 879.6 1328.9 878.3 1323.4C876.9 1318.0 876.1 1314.7 876.6 1307.1Z" fill="url(#rgg)" stroke="#264e1c" stroke-width="1.3" stroke-opacity="0.9" fill-opacity="0.93" filter="url(#rim)"/>
<ellipse cx="912.5" cy="1300.6" rx="2.3" ry="2.9" transform="rotate(0 912.5 1300.6)" fill="#fff" fill-opacity="0.8" filter="url(#hlb)"/>
<ellipse cx="897.8" cy="1334.8" rx="2.0" ry="2.3" transform="rotate(0 897.8 1334.8)" fill="#fff" fill-opacity="0.6" filter="url(#hlb)"/>
<path d="M917.4 1258.3C917.9 1254.5 925.5 1252.3 930.4 1255.0C935.3 1257.7 943.4 1267.5 946.7 1274.6C949.9 1281.6 951.0 1293.6 949.9 1297.4C948.9 1301.2 944.0 1300.6 940.2 1297.4C936.4 1294.1 930.9 1284.3 927.1 1277.8C923.3 1271.3 916.8 1262.1 917.4 1258.3Z" fill="#183f10" fill-opacity="0.32" filter="url(#shb)"/>
<path d="M928.8 1385.3C928.2 1377.2 930.7 1371.2 933.7 1365.8C936.6 1360.3 941.3 1354.9 946.7 1352.7C952.1 1350.6 960.8 1350.6 966.2 1352.7C971.7 1354.9 976.8 1360.3 979.3 1365.8C981.8 1371.2 982.3 1379.3 981.2 1385.3C980.1 1391.3 977.4 1395.5 972.7 1401.6C968.1 1407.7 959.2 1419.6 953.2 1421.8C947.2 1424.0 941.0 1420.7 936.9 1414.6C932.8 1408.6 929.3 1393.5 928.8 1385.3Z" fill="url(#rgb)" stroke="#064a66" stroke-width="1.3" stroke-opacity="0.9" fill-opacity="0.95" filter="url(#rim)"/>
<ellipse cx="966.2" cy="1391.8" rx="2.0" ry="2.6" transform="rotate(0 966.2 1391.8)" fill="#fff" fill-opacity="0.6" filter="url(#hlb)"/>
<path d="M933.7 1417.9C934.2 1414.1 937.5 1410.8 940.2 1411.4C942.9 1411.9 948.9 1416.7 949.9 1421.2C951.0 1425.6 948.9 1435.9 946.7 1438.1C944.5 1440.3 939.1 1437.6 936.9 1434.2C934.7 1430.8 933.1 1421.7 933.7 1417.9Z" fill="url(#rgg)" stroke="#264e1c" stroke-width="1.3" stroke-opacity="0.9" fill-opacity="0.93" filter="url(#rim)"/>
<path d="M949.9 1352.7L961.3 1380.4" stroke="#3a301f" stroke-opacity="0.7" stroke-width="7.7" stroke-linecap="round"/>
<path d="M949.9 1352.7L961.3 1380.4" stroke="#e6d22e" stroke-width="5.9" stroke-linecap="round"/>
<path d="M949.9 1352.7L961.3 1380.4" stroke="#fff" stroke-opacity="0.3" stroke-width="1.8" stroke-linecap="round"/>
<path d="M985.8 1378.8L1002.1 1370.7" stroke="#3a301f" stroke-opacity="0.7" stroke-width="8.3" stroke-linecap="round"/>
<path d="M985.8 1378.8L1002.1 1370.7" stroke="#e6d22e" stroke-width="6.5" stroke-linecap="round"/>
<path d="M985.8 1378.8L1002.1 1370.7" stroke="#fff" stroke-opacity="0.3" stroke-width="2.0" stroke-linecap="round"/>
<path d="M945.1 1437.4C945.1 1428.8 946.4 1416.3 949.9 1408.1C953.5 1400.0 960.3 1392.7 966.2 1388.6C972.2 1384.5 979.8 1382.6 985.8 1383.7C991.7 1384.8 997.7 1389.4 1002.1 1395.1C1006.4 1400.8 1010.1 1409.2 1011.8 1417.9C1013.6 1426.6 1014.1 1438.5 1012.5 1447.2C1010.9 1455.9 1006.5 1464.1 1002.1 1470.0C997.6 1476.0 992.3 1481.9 985.8 1483.1C979.3 1484.2 968.9 1481.0 963.0 1477.2C957.0 1473.4 952.9 1466.9 949.9 1460.3C947.0 1453.6 945.1 1446.1 945.1 1437.4Z" fill="url(#rgg)" stroke="#264e1c" stroke-width="1.3" stroke-opacity="0.9" fill-opacity="0.93" filter="url(#rim)"/>
<ellipse cx="977.6" cy="1434.2" rx="2.0" ry="2.9" transform="rotate(0 977.6 1434.2)" fill="#fff" fill-opacity="0.8" filter="url(#hlb)"/>
<ellipse cx="992.3" cy="1408.1" rx="1.6" ry="2.6" transform="rotate(0 992.3 1408.1)" fill="#fff" fill-opacity="0.6" filter="url(#hlb)"/>
<ellipse cx="961.3" cy="1460.3" rx="1.6" ry="2.3" transform="rotate(0 961.3 1460.3)" fill="#fff" fill-opacity="0.6" filter="url(#hlb)"/>
<path d="M1007.0 1248.5C1007.8 1237.1 1009.9 1232.2 1013.5 1225.7C1017.0 1219.2 1023.0 1213.2 1028.1 1209.4C1033.3 1205.6 1039.4 1202.3 1044.4 1202.9C1049.4 1203.4 1055.1 1206.7 1058.1 1212.7C1061.1 1218.6 1061.7 1228.4 1062.7 1238.7C1063.6 1249.0 1063.2 1262.6 1064.0 1274.6C1064.7 1286.5 1065.8 1299.5 1067.2 1310.4C1068.6 1321.3 1071.9 1331.0 1072.4 1339.7C1073.0 1348.4 1073.0 1356.4 1070.5 1362.5C1068.0 1368.6 1062.9 1373.7 1057.4 1376.2C1052.0 1378.7 1043.9 1379.8 1037.9 1377.5C1031.9 1375.2 1025.7 1369.9 1021.6 1362.5C1017.5 1355.1 1015.6 1344.6 1013.5 1333.2C1011.3 1321.8 1009.7 1308.2 1008.6 1294.1C1007.5 1280.0 1006.1 1259.9 1007.0 1248.5Z" fill="url(#rgb)" stroke="#064a66" stroke-width="1.3" stroke-opacity="0.9" fill-opacity="0.95" filter="url(#rim)"/>
<ellipse cx="1034.6" cy="1255.0" rx="2.0" ry="3.3" transform="rotate(0 1034.6 1255.0)" fill="#fff" fill-opacity="0.8" filter="url(#hlb)"/>
<ellipse cx="1041.2" cy="1329.9" rx="2.0" ry="2.9" transform="rotate(0 1041.2 1329.9)" fill="#fff" fill-opacity="0.7" filter="url(#hlb)"/>
<ellipse cx="1024.9" cy="1235.5" rx="1.6" ry="2.6" transform="rotate(0 1024.9 1235.5)" fill="#fff" fill-opacity="0.6" filter="url(#hlb)"/>
<ellipse cx="1083.5" cy="1183.3" rx="9.1" ry="10.4" transform="rotate(0 1083.5 1183.3)" fill="url(#rgg)" stroke="#264e1c" stroke-width="1.3" stroke-opacity="0.9" fill-opacity="0.93" filter="url(#rim)"/>
<ellipse cx="964.6" cy="1382.7" rx="7.8" ry="9.1" fill="url(#aS)"/>
<path d="M1116.1 1225.7C1116.6 1220.3 1119.3 1213.2 1122.6 1209.4C1125.9 1205.6 1131.3 1202.9 1135.6 1202.9C1140.0 1202.9 1145.1 1205.6 1148.7 1209.4C1152.2 1213.2 1155.7 1219.2 1157.1 1225.7C1158.5 1232.2 1158.5 1241.4 1157.1 1248.5C1155.7 1255.6 1149.0 1261.5 1148.7 1268.0C1148.3 1274.6 1152.7 1280.5 1155.2 1287.6C1157.7 1294.6 1162.6 1302.8 1163.6 1310.4C1164.7 1318.0 1164.2 1327.1 1161.7 1333.2C1159.2 1339.3 1153.5 1345.3 1148.7 1346.9C1143.8 1348.5 1136.7 1346.9 1132.4 1343.0C1128.0 1339.1 1125.3 1330.5 1122.6 1323.4C1119.9 1316.4 1116.6 1308.8 1116.1 1300.6C1115.5 1292.5 1117.7 1281.6 1119.3 1274.6C1121.0 1267.5 1125.9 1263.7 1125.9 1258.3C1125.9 1252.8 1121.0 1247.4 1119.3 1242.0C1117.7 1236.6 1115.5 1231.1 1116.1 1225.7Z" fill="url(#rgb)" stroke="#064a66" stroke-width="1.3" stroke-opacity="0.9" fill-opacity="0.95" filter="url(#rim)"/>
<ellipse cx="1145.4" cy="1232.2" rx="1.6" ry="2.9" transform="rotate(0 1145.4 1232.2)" fill="#fff" fill-opacity="0.7" filter="url(#hlb)"/>
<ellipse cx="1147.0" cy="1307.1" rx="1.6" ry="2.9" transform="rotate(0 1147.0 1307.1)" fill="#fff" fill-opacity="0.7" filter="url(#hlb)"/>
<ellipse cx="736.6" cy="1447.2" rx="9.8" ry="10.1" fill="url(#aH)" stroke="#2a2418" stroke-width="1.2" stroke-opacity="0.75"/>
<ellipse cx="850.6" cy="1448.8" rx="9.8" ry="10.1" fill="url(#aH)" stroke="#2a2418" stroke-width="1.2" stroke-opacity="0.75"/>
<ellipse cx="684.4" cy="1300.6" rx="9.1" ry="9.4" fill="url(#aH)" stroke="#2a2418" stroke-width="1.2" stroke-opacity="0.75"/>
<ellipse cx="902.7" cy="1128.0" rx="9.8" ry="10.1" fill="url(#aH)" stroke="#2a2418" stroke-width="1.2" stroke-opacity="0.75"/>
<g shape-rendering="crispEdges">
<rect x="1356.00" y="511.60" width="112.75" height="112.97" fill="#ecf8b1"/>
<rect x="1468.45" y="511.60" width="112.75" height="112.97" fill="#feffd7"/>
<rect x="1580.90" y="511.60" width="112.75" height="112.97" fill="#081d58"/>
<rect x="1693.35" y="511.60" width="112.75" height="112.97" fill="#ecf8b1"/>
<rect x="1356.00" y="624.27" width="112.75" height="112.97" fill="#d1edb3"/>
<rect x="1468.45" y="624.27" width="112.75" height="112.97" fill="#f4fbc1"/>
<rect x="1580.90" y="624.27" width="112.75" height="112.97" fill="#ffffd9"/>
<rect x="1693.35" y="624.27" width="112.75" height="112.97" fill="#f8fcc9"/>
<rect x="1356.00" y="736.95" width="112.75" height="112.97" fill="#d3eeb3"/>
<rect x="1468.45" y="736.95" width="112.75" height="112.97" fill="#234b9f"/>
<rect x="1580.90" y="736.95" width="112.75" height="112.97" fill="#e8f6b1"/>
<rect x="1693.35" y="736.95" width="112.75" height="112.97" fill="#f3fabd"/>
<rect x="1356.00" y="849.62" width="112.75" height="112.97" fill="#67c4be"/>
<rect x="1468.45" y="849.62" width="112.75" height="112.97" fill="#1d8ebf"/>
<rect x="1580.90" y="849.62" width="112.75" height="112.97" fill="#c3e8b4"/>
<rect x="1693.35" y="849.62" width="112.75" height="112.97" fill="#f4fbc1"/>
</g>
<text transform="translate(1412.2 576.3) scale(1.0 1.1)" font-size="21.8" font-family="'DejaVu Sans', sans-serif" text-anchor="middle" fill="#262626" >4.5</text>
<text transform="translate(1524.7 576.3) scale(1.0 1.1)" font-size="21.8" font-family="'DejaVu Sans', sans-serif" text-anchor="middle" fill="#262626" >1</text>
<text transform="translate(1637.1 576.3) scale(1.0 1.1)" font-size="21.8" font-family="'DejaVu Sans', sans-serif" text-anchor="middle" fill="#fff" >29</text>
<text transform="translate(1749.6 576.3) scale(1.0 1.1)" font-size="21.8" font-family="'DejaVu Sans', sans-serif" text-anchor="middle" fill="#262626" >4.5</text>
<text transform="translate(1412.2 689.0) scale(1.0 1.1)" font-size="21.8" font-family="'DejaVu Sans', sans-serif" text-anchor="middle" fill="#262626" >7.1</text>
<text transform="translate(1524.7 689.0) scale(1.0 1.1)" font-size="21.8" font-family="'DejaVu Sans', sans-serif" text-anchor="middle" fill="#262626" >3</text>
<text transform="translate(1637.1 689.0) scale(1.0 1.1)" font-size="21.8" font-family="'DejaVu Sans', sans-serif" text-anchor="middle" fill="#262626" >0.82</text>
<text transform="translate(1749.6 689.0) scale(1.0 1.1)" font-size="21.8" font-family="'DejaVu Sans', sans-serif" text-anchor="middle" fill="#262626" >2.3</text>
<text transform="translate(1412.2 801.7) scale(1.0 1.1)" font-size="21.8" font-family="'DejaVu Sans', sans-serif" text-anchor="middle" fill="#262626" >6.9</text>
<text transform="translate(1524.7 801.7) scale(1.0 1.1)" font-size="21.8" font-family="'DejaVu Sans', sans-serif" text-anchor="middle" fill="#fff" >24</text>
<text transform="translate(1637.1 801.7) scale(1.0 1.1)" font-size="21.8" font-family="'DejaVu Sans', sans-serif" text-anchor="middle" fill="#262626" >4.9</text>
<text transform="translate(1749.6 801.7) scale(1.0 1.1)" font-size="21.8" font-family="'DejaVu Sans', sans-serif" text-anchor="middle" fill="#262626" >3.3</text>
<text transform="translate(1412.2 914.4) scale(1.0 1.1)" font-size="21.8" font-family="'DejaVu Sans', sans-serif" text-anchor="middle" fill="#262626" >13</text>
<text transform="translate(1524.7 914.4) scale(1.0 1.1)" font-size="21.8" font-family="'DejaVu Sans', sans-serif" text-anchor="middle" fill="#fff" >19</text>
<text transform="translate(1637.1 914.4) scale(1.0 1.1)" font-size="21.8" font-family="'DejaVu Sans', sans-serif" text-anchor="middle" fill="#262626" >8.2</text>
<text transform="translate(1749.6 914.4) scale(1.0 1.1)" font-size="21.8" font-family="'DejaVu Sans', sans-serif" text-anchor="middle" fill="#262626" >3</text>
<text transform="translate(1413.0 499.8) scale(1.0 1.15)" font-size="25.4" font-family="'DejaVu Sans', sans-serif" text-anchor="middle" fill="#262626" >0</text>
<path d="M1412.2 511.6v-3.8" stroke="#262626" stroke-width="1"/>
<text transform="translate(1525.5 499.8) scale(1.0 1.15)" font-size="25.4" font-family="'DejaVu Sans', sans-serif" text-anchor="middle" fill="#262626" >1</text>
<path d="M1524.7 511.6v-3.8" stroke="#262626" stroke-width="1"/>
<text transform="translate(1637.9 499.8) scale(1.0 1.15)" font-size="25.4" font-family="'DejaVu Sans', sans-serif" text-anchor="middle" fill="#262626" >2</text>
<path d="M1637.1 511.6v-3.8" stroke="#262626" stroke-width="1"/>
<text transform="translate(1750.4 499.8) scale(1.0 1.15)" font-size="25.4" font-family="'DejaVu Sans', sans-serif" text-anchor="middle" fill="#262626" >3</text>
<path d="M1749.6 511.6v-3.8" stroke="#262626" stroke-width="1"/>
<text transform="translate(1350.0 575.9) scale(1.0 1.15)" font-size="25.4" font-family="'DejaVu Sans', sans-serif" text-anchor="end" fill="#262626" >1</text>
<text transform="translate(1350.0 688.6) scale(1.0 1.15)" font-size="25.4" font-family="'DejaVu Sans', sans-serif" text-anchor="end" fill="#262626" >2</text>
<text transform="translate(1350.0 801.3) scale(1.0 1.15)" font-size="25.4" font-family="'DejaVu Sans', sans-serif" text-anchor="end" fill="#262626" >3</text>
<text transform="translate(1350.0 914.0) scale(1.0 1.15)" font-size="25.4" font-family="'DejaVu Sans', sans-serif" text-anchor="end" fill="#262626" >4</text>
<rect x="1834.2" y="511.20000000000005" width="20.899999999999864" height="451.29999999999995" fill="url(#cb1)" shape-rendering="crispEdges"/>
<path d="M1855.1 583.6h4" stroke="#262626" stroke-width="1.2"/>
<text transform="translate(1863.1 593.9) scale(1.0 1.15)" font-size="25.4" font-family="'DejaVu Sans', sans-serif" text-anchor="start" fill="#262626" >25</text>
<path d="M1855.1 661.5h4" stroke="#262626" stroke-width="1.2"/>
<text transform="translate(1863.1 671.8) scale(1.0 1.15)" font-size="25.4" font-family="'DejaVu Sans', sans-serif" text-anchor="start" fill="#262626" >20</text>
<path d="M1855.1 739.8h4" stroke="#262626" stroke-width="1.2"/>
<text transform="translate(1863.1 750.0999999999999) scale(1.0 1.15)" font-size="25.4" font-family="'DejaVu Sans', sans-serif" text-anchor="start" fill="#262626" >15</text>
<path d="M1855.1 818h4" stroke="#262626" stroke-width="1.2"/>
<text transform="translate(1863.1 828.3) scale(1.0 1.15)" font-size="25.4" font-family="'DejaVu Sans', sans-serif" text-anchor="start" fill="#262626" >10</text>
<path d="M1855.1 897h4" stroke="#262626" stroke-width="1.2"/>
<text transform="translate(1863.1 907.3) scale(1.0 1.15)" font-size="25.4" font-family="'DejaVu Sans', sans-serif" text-anchor="start" fill="#262626" >5</text>
<text transform="translate(1578.7 480.5) scale(0.98 1.058)" font-size="40" font-family="'Liberation Sans', sans-serif" text-anchor="start" fill="#000" >S<tspan font-size="26.6" dy="8.0">n</tspan></text>
<text transform="translate(1326.9 743.8) rotate(-90) scale(0.95 1)" font-size="35.3" font-family="'Liberation Sans', sans-serif" fill="#000">T<tspan font-size="23.5" dy="8.2">n</tspan></text>
<g shape-rendering="crispEdges">
<rect x="1354.00" y="1099.90" width="107.65" height="113.07" fill="#e5f5b2"/>
<rect x="1461.35" y="1099.90" width="107.65" height="113.07" fill="#feffd6"/>
<rect x="1568.70" y="1099.90" width="107.65" height="113.07" fill="#c8e9b4"/>
<rect x="1676.05" y="1099.90" width="107.65" height="113.07" fill="#2169ad"/>
<rect x="1354.00" y="1212.68" width="107.65" height="113.07" fill="#f0f9b8"/>
<rect x="1461.35" y="1212.68" width="107.65" height="113.07" fill="#f6fbc5"/>
<rect x="1568.70" y="1212.68" width="107.65" height="113.07" fill="#ffffd9"/>
<rect x="1676.05" y="1212.68" width="107.65" height="113.07" fill="#f3fbbf"/>
<rect x="1354.00" y="1325.45" width="107.65" height="113.07" fill="#081d58"/>
<rect x="1461.35" y="1325.45" width="107.65" height="113.07" fill="#1f80b8"/>
<rect x="1568.70" y="1325.45" width="107.65" height="113.07" fill="#e5f5b2"/>
<rect x="1676.05" y="1325.45" width="107.65" height="113.07" fill="#f6fbc5"/>
<rect x="1354.00" y="1438.22" width="107.65" height="113.07" fill="#d2edb3"/>
<rect x="1461.35" y="1438.22" width="107.65" height="113.07" fill="#31a5c2"/>
<rect x="1568.70" y="1438.22" width="107.65" height="113.07" fill="#90d3b9"/>
<rect x="1676.05" y="1438.22" width="107.65" height="113.07" fill="#e5f5b2"/>
</g>
<text transform="translate(1407.7 1164.7) scale(0.96 1.1)" font-size="21.8" font-family="'DejaVu Sans', sans-serif" text-anchor="middle" fill="#262626" >3.7</text>
<text transform="translate(1515.0 1164.7) scale(0.96 1.1)" font-size="21.8" font-family="'DejaVu Sans', sans-serif" text-anchor="middle" fill="#262626" >1.1</text>
<text transform="translate(1622.4 1164.7) scale(0.96 1.1)" font-size="21.8" font-family="'DejaVu Sans', sans-serif" text-anchor="middle" fill="#262626" >5.4</text>
<text transform="translate(1729.7 1164.7) scale(0.96 1.1)" font-size="21.8" font-family="'DejaVu Sans', sans-serif" text-anchor="middle" fill="#fff" >14</text>
<text transform="translate(1407.7 1277.5) scale(0.96 1.1)" font-size="21.8" font-family="'DejaVu Sans', sans-serif" text-anchor="middle" fill="#262626" >2.8</text>
<text transform="translate(1515.0 1277.5) scale(0.96 1.1)" font-size="21.8" font-family="'DejaVu Sans', sans-serif" text-anchor="middle" fill="#262626" >2.1</text>
<text transform="translate(1622.4 1277.5) scale(0.96 1.1)" font-size="21.8" font-family="'DejaVu Sans', sans-serif" text-anchor="middle" fill="#262626" >0.95</text>
<text transform="translate(1729.7 1277.5) scale(0.96 1.1)" font-size="21.8" font-family="'DejaVu Sans', sans-serif" text-anchor="middle" fill="#262626" >2.4</text>
<text transform="translate(1407.7 1390.2) scale(0.96 1.1)" font-size="21.8" font-family="'DejaVu Sans', sans-serif" text-anchor="middle" fill="#fff" >19</text>
<text transform="translate(1515.0 1390.2) scale(0.96 1.1)" font-size="21.8" font-family="'DejaVu Sans', sans-serif" text-anchor="middle" fill="#fff" >13</text>
<text transform="translate(1622.4 1390.2) scale(0.96 1.1)" font-size="21.8" font-family="'DejaVu Sans', sans-serif" text-anchor="middle" fill="#262626" >3.7</text>
<text transform="translate(1729.7 1390.2) scale(0.96 1.1)" font-size="21.8" font-family="'DejaVu Sans', sans-serif" text-anchor="middle" fill="#262626" >2.1</text>
<text transform="translate(1407.7 1503.0) scale(0.96 1.1)" font-size="21.8" font-family="'DejaVu Sans', sans-serif" text-anchor="middle" fill="#262626" >4.8</text>
<text transform="translate(1515.0 1503.0) scale(0.96 1.1)" font-size="21.8" font-family="'DejaVu Sans', sans-serif" text-anchor="middle" fill="#fff" >11</text>
<text transform="translate(1622.4 1503.0) scale(0.96 1.1)" font-size="21.8" font-family="'DejaVu Sans', sans-serif" text-anchor="middle" fill="#262626" >7.2</text>
<text transform="translate(1729.7 1503.0) scale(0.96 1.1)" font-size="21.8" font-family="'DejaVu Sans', sans-serif" text-anchor="middle" fill="#262626" >3.7</text>
<text transform="translate(1408.5 1088.1) scale(0.96 1.15)" font-size="25.4" font-family="'DejaVu Sans', sans-serif" text-anchor="middle" fill="#262626" >0</text>
<path d="M1407.7 1099.9v-3.8" stroke="#262626" stroke-width="1"/>
<text transform="translate(1515.8 1088.1) scale(0.96 1.15)" font-size="25.4" font-family="'DejaVu Sans', sans-serif" text-anchor="middle" fill="#262626" >1</text>
<path d="M1515.0 1099.9v-3.8" stroke="#262626" stroke-width="1"/>
<text transform="translate(1623.2 1088.1) scale(0.96 1.15)" font-size="25.4" font-family="'DejaVu Sans', sans-serif" text-anchor="middle" fill="#262626" >2</text>
<path d="M1622.4 1099.9v-3.8" stroke="#262626" stroke-width="1"/>
<text transform="translate(1730.5 1088.1) scale(0.96 1.15)" font-size="25.4" font-family="'DejaVu Sans', sans-serif" text-anchor="middle" fill="#262626" >3</text>
<path d="M1729.7 1099.9v-3.8" stroke="#262626" stroke-width="1"/>
<text transform="translate(1348.0 1164.3) scale(0.96 1.15)" font-size="25.4" font-family="'DejaVu Sans', sans-serif" text-anchor="end" fill="#262626" >1</text>
<text transform="translate(1348.0 1277.1) scale(0.96 1.15)" font-size="25.4" font-family="'DejaVu Sans', sans-serif" text-anchor="end" fill="#262626" >2</text>
<text transform="translate(1348.0 1389.8) scale(0.96 1.15)" font-size="25.4" font-family="'DejaVu Sans', sans-serif" text-anchor="end" fill="#262626" >3</text>
<text transform="translate(1348.0 1502.6) scale(0.96 1.15)" font-size="25.4" font-family="'DejaVu Sans', sans-serif" text-anchor="end" fill="#262626" >4</text>
<rect x="1810.6" y="1099.5" width="21.0" height="451.69999999999993" fill="url(#cb2)" shape-rendering="crispEdges"/>
<path d="M1831.6 1137.4h4" stroke="#262626" stroke-width="1.2"/>
<text transform="translate(1839.6 1147.7) scale(0.96 1.15)" font-size="25.4" font-family="'DejaVu Sans', sans-serif" text-anchor="start" fill="#262626" >17.5</text>
<path d="M1831.6 1199.6h4" stroke="#262626" stroke-width="1.2"/>
<text transform="translate(1839.6 1209.8999999999999) scale(0.96 1.15)" font-size="25.4" font-family="'DejaVu Sans', sans-serif" text-anchor="start" fill="#262626" >15.0</text>
<path d="M1831.6 1262h4" stroke="#262626" stroke-width="1.2"/>
<text transform="translate(1839.6 1272.3) scale(0.96 1.15)" font-size="25.4" font-family="'DejaVu Sans', sans-serif" text-anchor="start" fill="#262626" >12.5</text>
<path d="M1831.6 1324.4h4" stroke="#262626" stroke-width="1.2"/>
<text transform="translate(1839.6 1334.7) scale(0.96 1.15)" font-size="25.4" font-family="'DejaVu Sans', sans-serif" text-anchor="start" fill="#262626" >10.0</text>
<path d="M1831.6 1386.8h4" stroke="#262626" stroke-width="1.2"/>
<text transform="translate(1839.6 1397.1) scale(0.96 1.15)" font-size="25.4" font-family="'DejaVu Sans', sans-serif" text-anchor="start" fill="#262626" >7.5</text>
<path d="M1831.6 1449.2h4" stroke="#262626" stroke-width="1.2"/>
<text transform="translate(1839.6 1459.5) scale(0.96 1.15)" font-size="25.4" font-family="'DejaVu Sans', sans-serif" text-anchor="start" fill="#262626" >5.0</text>
<path d="M1831.6 1511.6h4" stroke="#262626" stroke-width="1.2"/>
<text transform="translate(1839.6 1521.8999999999999) scale(0.96 1.15)" font-size="25.4" font-family="'DejaVu Sans', sans-serif" text-anchor="start" fill="#262626" >2.5</text>
<text transform="translate(1554.5 1069) scale(0.98 1.058)" font-size="46" font-family="'Liberation Sans', sans-serif" text-anchor="start" fill="#000" >S<tspan font-size="30.6" dy="9.2">n</tspan></text>
<text transform="translate(1322 1331) rotate(-90) scale(0.95 1)" font-size="40.5" font-family="'Liberation Sans', sans-serif" fill="#000">T<tspan font-size="27.0" dy="9.4">n</tspan></text>
<g clip-path="url(#clipe)">
<path d="M121.3 2166.4L123.3 2156.2L125.3 2146.1L127.3 2137.5L129.3 2130.7L131.3 2122.3L133.3 2112.3L135.3 2102.2L137.3 2090.5L139.3 2079.0L141.3 2068.3L143.3 2058.9L145.3 2050.3L147.3 2041.6L149.3 2033.0L151.3 2024.2L153.3 2014.7L155.3 2004.2L157.3 1994.0L159.3 1984.0L161.3 1974.2L163.3 1965.7L165.3 1957.0L167.3 1948.7L169.3 1941.7L171.3 1934.0L173.3 1926.2L175.3 1919.0L177.3 1913.0L179.3 1905.7L181.3 1899.2L183.3 1892.8L185.3 1886.5L187.3 1880.6L189.3 1874.5L191.3 1869.1L193.3 1864.3L195.3 1859.6L197.3 1855.7L199.3 1851.9L201.3 1847.2L203.3 1843.6L205.3 1839.5L207.3 1836.1L209.3 1833.2L211.3 1830.6L213.3 1827.7L215.3 1823.9L217.3 1822.1L219.3 1819.0L221.3 1815.8L223.3 1813.3L225.3 1810.2L227.3 1807.0L229.3 1804.9L231.3 1802.5L233.3 1799.7L235.3 1797.9L237.3 1795.9L239.3 1793.7L241.3 1793.2L243.3 1791.8L245.3 1790.2L247.3 1789.7L249.3 1789.0L251.3 1788.8L253.3 1787.9L255.3 1789.0L257.3 1790.4L259.3 1792.7L261.3 1795.5L263.3 1798.8L265.3 1802.2L267.3 1805.3L269.3 1807.9L271.3 1810.7L273.3 1812.2L275.3 1812.4L277.3 1811.7L279.3 1810.2L281.3 1807.5L283.3 1808.0L285.3 1809.5L287.3 1813.9L289.3 1817.7L291.3 1820.9L293.3 1822.9L295.3 1825.5L297.3 1827.9L299.3 1829.6L301.3 1832.9L303.3 1835.4L305.3 1838.1L307.3 1840.6L309.3 1844.0L311.3 1847.5L313.3 1851.5L315.3 1854.9L317.3 1859.7L319.3 1862.3L321.3 1865.5L323.3 1868.8L325.3 1872.0L327.3 1876.7L329.3 1881.3L331.3 1886.0L333.3 1892.2L335.3 1898.7L337.3 1903.5L339.3 1908.5L341.3 1912.2L343.3 1916.2L345.3 1918.7L347.3 1921.0L349.3 1923.8L351.3 1928.0L353.3 1930.9L355.3 1935.4L357.3 1938.1L359.3 1942.2L361.3 1946.6L363.3 1951.9L365.3 1958.2L367.3 1964.8L369.3 1969.5L371.3 1973.2L373.3 1977.9L375.3 1981.9L377.3 1984.9L379.3 1988.8L381.3 1991.6L383.3 1996.5L385.3 2000.1L387.3 2004.2L389.3 2009.3L391.3 2012.4L393.3 2016.5L395.3 2020.0L397.3 2023.5L399.3 2027.6L401.3 2032.2L403.3 2036.0L405.3 2040.4L407.3 2045.3L409.3 2049.6L411.3 2053.5L413.3 2058.8L415.3 2063.1L417.3 2067.9L419.3 2071.6L421.3 2076.8L423.3 2080.6L425.3 2084.7L427.3 2089.6L429.3 2094.2L431.3 2098.5L433.3 2102.1L435.3 2105.9L437.3 2109.5L439.3 2112.0L441.3 2114.4L443.3 2117.6L445.3 2121.3L447.3 2125.1L449.3 2128.6L451.3 2132.1L453.3 2136.0L455.3 2140.3L457.3 2143.7L459.3 2148.0L461.3 2151.3L463.3 2154.3L465.3 2156.8L467.3 2160.0L469.3 2162.2L471.3 2163.8L473.3 2166.8L475.3 2168.9L477.3 2171.9L479.3 2174.4L481.3 2176.7L483.3 2179.7L485.3 2182.4L487.3 2185.1L489.3 2188.3L491.3 2191.7L493.3 2194.6L495.3 2197.4L497.3 2200.1L499.3 2203.2L501.3 2206.1L503.3 2209.0L505.3 2211.6L507.3 2214.8L509.3 2216.2L511.3 2218.9L513.3 2221.6L515.3 2224.4L517.3 2226.0L519.3 2228.2L521.3 2230.9L523.3 2233.9L525.3 2236.5L527.3 2237.8L529.3 2240.3L531.3 2242.9L533.3 2244.8L535.3 2246.3L537.3 2248.1L539.3 2249.7L541.3 2252.3L543.3 2253.9L545.3 2255.4L547.3 2256.8L549.3 2258.6L551.3 2260.0L553.3 2261.6L555.3 2263.6L557.3 2265.4L559.3 2267.5L561.3 2269.5L563.3 2272.3L565.3 2273.8L567.3 2275.9L569.3 2278.0L571.3 2279.3L573.3 2282.6L575.3 2283.8L577.3 2284.7L579.3 2288.2L581.3 2290.4L583.3 2291.3L585.3 2293.8L587.3 2295.8L589.3 2297.4L591.3 2297.6L593.3 2299.5L595.3 2300.2L597.3 2301.7L599.3 2303.2L601.3 2304.4L603.3 2306.7L605.3 2307.4L607.3 2309.5L609.3 2310.8L611.3 2311.4L613.3 2312.9L615.3 2314.5L617.3 2316.2L619.3 2316.4L621.3 2318.6L623.3 2319.2L625.3 2320.6L627.3 2319.7L629.3 2320.0L631.3 2322.4L633.3 2322.9L635.3 2324.1L637.3 2325.7L639.3 2324.9L641.3 2326.4L643.3 2328.7L645.3 2329.3L647.3 2329.5L649.3 2330.3L651.3 2330.7L653.3 2331.9L655.3 2333.2L657.3 2333.0L659.3 2334.0L661.3 2334.5L663.3 2335.5L665.3 2336.5L667.3 2335.8L669.3 2337.6L671.3 2338.6L673.3 2337.9L675.3 2338.6L677.3 2338.4L679.3 2339.7L681.3 2341.1L683.3 2341.0L685.3 2341.7L687.3 2342.3L689.3 2343.1L691.3 2343.8L693.3 2344.3L695.3 2346.1L697.3 2346.7L699.3 2346.9L701.3 2348.7L703.3 2348.6L705.3 2350.0L707.3 2349.3L709.3 2351.3L711.3 2351.0L713.3 2350.7L715.3 2351.9L717.3 2351.3L719.3 2351.5L721.3 2352.8L723.3 2353.1L725.3 2354.1L727.3 2354.5L729.3 2355.0L731.3 2355.3L733.3 2356.1L735.3 2356.1L737.3 2357.2L739.3 2357.7L741.3 2355.9L743.3 2355.5L745.3 2358.0L747.3 2357.8L749.3 2358.4L751.3 2358.7L753.3 2359.3L755.3 2361.3L757.3 2360.1L759.3 2360.4L761.3 2360.7L763.3 2360.2L765.3 2360.3L767.3 2361.0L769.3 2361.7L771.3 2362.5L773.3 2361.3L775.3 2361.2L777.3 2363.8L779.3 2363.7L781.3 2364.6L783.3 2364.1L785.3 2363.8L787.3 2366.0L789.3 2364.5L791.3 2364.2L793.3 2365.3L795.3 2365.4L797.3 2364.3L799.3 2365.2L801.3 2366.2L803.3 2365.0L805.3 2365.2L807.3 2366.5L809.3 2368.0L811.3 2365.5L813.3 2365.7L815.3 2366.5L817.3 2366.2L819.3 2366.1L821.3 2366.5L823.3 2367.6L825.3 2367.0L827.3 2368.3L829.3 2369.0L831.3 2369.4L833.3 2370.2L835.3 2369.1L837.3 2369.1L839.3 2370.0L841.3 2370.7L843.3 2370.9L845.3 2370.0L847.3 2369.6L849.3 2368.9L851.3 2369.4L853.3 2369.3L855.3 2369.6L857.3 2370.0L859.3 2371.1L861.3 2371.8L863.3 2371.4L865.3 2370.5L867.3 2371.0L869.3 2371.6L871.3 2372.3L873.3 2372.2L875.3 2372.6L877.3 2371.7L879.3 2372.4L881.3 2372.8L883.3 2372.2L885.3 2371.6L887.3 2373.0L889.3 2371.9L891.3 2372.7L893.3 2372.4L895.3 2372.2L897.3 2372.2L899.3 2372.1L901.3 2372.4L903.3 2373.9L905.3 2374.4L907.3 2373.4L909.3 2373.4L911.3 2373.8L913.3 2373.0L915.3 2374.4L917.3 2373.6L919.3 2373.8L921.3 2372.6" fill="none" stroke="#8ca525" stroke-width="4.2" stroke-dasharray="21 30" stroke-dashoffset="10" stroke-linejoin="round"/>
<path d="M121.3 2212.3L123.3 2200.9L125.3 2189.7L127.3 2177.5L129.3 2165.4L131.3 2154.5L133.3 2143.7L135.3 2132.8L137.3 2120.3L139.3 2108.8L141.3 2099.3L143.3 2089.5L145.3 2080.4L147.3 2070.5L149.3 2060.0L151.3 2049.4L153.3 2040.4L155.3 2028.7L157.3 2017.3L159.3 2006.7L161.3 1997.6L163.3 1988.7L165.3 1979.5L167.3 1971.0L169.3 1962.7L171.3 1954.9L173.3 1947.2L175.3 1939.0L177.3 1930.0L179.3 1923.4L181.3 1915.2L183.3 1908.5L185.3 1900.8L187.3 1894.6L189.3 1887.9L191.3 1882.4L193.3 1879.0L195.3 1872.9L197.3 1868.3L199.3 1862.7L201.3 1858.6L203.3 1855.2L205.3 1851.2L207.3 1847.8L209.3 1844.5L211.3 1841.2L213.3 1839.7L215.3 1837.3L217.3 1837.3L219.3 1835.5L221.3 1834.0L223.3 1829.9L225.3 1826.1L227.3 1821.5L229.3 1818.3L231.3 1814.1L233.3 1810.8L235.3 1806.3L237.3 1801.2L239.3 1797.5L241.3 1796.2L243.3 1794.7L245.3 1794.0L247.3 1791.9L249.3 1790.8L251.3 1789.8L253.3 1788.9L255.3 1789.4L257.3 1791.3L259.3 1793.8L261.3 1796.4L263.3 1800.0L265.3 1804.1L267.3 1808.0L269.3 1810.4L271.3 1811.8L273.3 1812.0L275.3 1811.2L277.3 1809.3L279.3 1807.8L281.3 1807.5L283.3 1807.3L285.3 1810.3L287.3 1815.1L289.3 1817.3L291.3 1820.2L293.3 1822.9L295.3 1824.3L297.3 1828.4L299.3 1831.3L301.3 1832.8L303.3 1835.1L305.3 1837.5L307.3 1839.7L309.3 1842.9L311.3 1846.5L313.3 1850.4L315.3 1853.7L317.3 1856.7L319.3 1860.8L321.3 1863.3L323.3 1867.5L325.3 1871.9L327.3 1875.8L329.3 1879.7L331.3 1885.5L333.3 1892.0L335.3 1898.0L337.3 1903.9L339.3 1906.9L341.3 1910.3L343.3 1913.5L345.3 1915.8L347.3 1917.1L349.3 1921.6L351.3 1926.6L353.3 1930.1L355.3 1932.7L357.3 1936.6L359.3 1941.3L361.3 1948.1L363.3 1954.2L365.3 1960.2L367.3 1966.4L369.3 1970.0L371.3 1974.5L373.3 1976.6L375.3 1979.5L377.3 1983.6L379.3 1988.0L381.3 1991.9L383.3 1995.7L385.3 1998.5L387.3 2002.7L389.3 2006.9L391.3 2010.9L393.3 2015.5L395.3 2019.2L397.3 2023.6L399.3 2027.4L401.3 2031.2L403.3 2035.4L405.3 2039.9L407.3 2044.5L409.3 2048.2L411.3 2052.3L413.3 2056.0L415.3 2061.8L417.3 2066.7L419.3 2070.4L421.3 2074.4L423.3 2078.2L425.3 2083.3L427.3 2088.2L429.3 2094.0L431.3 2097.7L433.3 2100.9L435.3 2103.2L437.3 2107.5L439.3 2108.7L441.3 2107.5L443.3 2107.9L445.3 2108.1L447.3 2116.5L449.3 2124.5L451.3 2131.1L453.3 2135.5L455.3 2138.2L457.3 2142.5L459.3 2145.5L461.3 2149.8L463.3 2151.7L465.3 2154.7L467.3 2158.7L469.3 2162.0L471.3 2163.0L473.3 2164.6L475.3 2168.1L477.3 2171.1L479.3 2172.7L481.3 2175.3L483.3 2178.0L485.3 2180.5L487.3 2183.7L489.3 2187.9L491.3 2191.1L493.3 2194.9L495.3 2197.0L497.3 2199.5L499.3 2201.6L501.3 2204.6L503.3 2206.6L505.3 2208.6L507.3 2212.4L509.3 2216.0L511.3 2218.6L513.3 2221.4L515.3 2223.3L517.3 2224.9L519.3 2227.4L521.3 2229.5L523.3 2231.3L525.3 2232.9L527.3 2235.0L529.3 2238.0L531.3 2240.5L533.3 2242.3L535.3 2245.3L537.3 2246.9L539.3 2248.9L541.3 2251.1L543.3 2251.8L545.3 2252.3L547.3 2255.1L549.3 2256.4L551.3 2259.0L553.3 2260.6L555.3 2262.6L557.3 2264.4L559.3 2264.5L561.3 2267.8L563.3 2268.7L565.3 2270.1L567.3 2272.4L569.3 2276.0L571.3 2279.0L573.3 2281.6L575.3 2280.7L577.3 2282.7L579.3 2282.3L581.3 2286.0L583.3 2289.3L585.3 2290.1L587.3 2292.6L589.3 2294.6L591.3 2297.3L593.3 2297.1L595.3 2297.8L597.3 2299.1L599.3 2303.4L601.3 2305.3L603.3 2305.5L605.3 2306.6L607.3 2307.7L609.3 2309.0L611.3 2309.6L613.3 2310.4L615.3 2310.2L617.3 2311.4L619.3 2315.3L621.3 2316.3L623.3 2316.7L625.3 2317.1L627.3 2318.1L629.3 2319.4L631.3 2319.3L633.3 2320.7L635.3 2321.9L637.3 2321.8L639.3 2322.1L641.3 2322.5L643.3 2323.0L645.3 2326.1L647.3 2324.0L649.3 2326.0L651.3 2326.9L653.3 2327.7L655.3 2329.3L657.3 2331.7L659.3 2331.9L661.3 2332.1L663.3 2332.0L665.3 2332.9L667.3 2335.0L669.3 2334.7L671.3 2334.1L673.3 2334.1L675.3 2334.6L677.3 2335.0L679.3 2338.5L681.3 2339.7L683.3 2339.9L685.3 2342.4L687.3 2341.4L689.3 2343.1L691.3 2344.3L693.3 2342.4L695.3 2341.9L697.3 2342.7L699.3 2345.7L701.3 2347.9L703.3 2346.1L705.3 2348.3L707.3 2347.9L709.3 2347.9L711.3 2348.0L713.3 2348.5L715.3 2347.2L717.3 2347.8L719.3 2347.9L721.3 2350.3L723.3 2353.5L725.3 2355.9L727.3 2353.4L729.3 2350.8L731.3 2351.4L733.3 2351.2L735.3 2354.8L737.3 2354.9L739.3 2353.5L741.3 2355.1L743.3 2355.5L745.3 2353.2L747.3 2353.7L749.3 2354.4L751.3 2355.2L753.3 2355.9L755.3 2355.8L757.3 2356.6L759.3 2356.2L761.3 2355.8L763.3 2358.7L765.3 2358.8L767.3 2359.1L769.3 2356.9L771.3 2357.8L773.3 2359.6L775.3 2357.9L777.3 2360.2L779.3 2359.5L781.3 2360.3L783.3 2360.1L785.3 2360.5L787.3 2362.0L789.3 2360.8L791.3 2362.6L793.3 2360.7L795.3 2359.7L797.3 2361.3L799.3 2359.9L801.3 2360.1L803.3 2361.8L805.3 2363.0L807.3 2359.9L809.3 2361.3L811.3 2363.6L813.3 2363.9L815.3 2362.3L817.3 2361.1L819.3 2361.0L821.3 2360.0L823.3 2360.6L825.3 2361.0L827.3 2361.2L829.3 2362.9L831.3 2362.0L833.3 2360.1L835.3 2362.3L837.3 2360.7L839.3 2360.8L841.3 2361.2L843.3 2361.1L845.3 2360.4L847.3 2361.0L849.3 2364.2L851.3 2362.4L853.3 2362.2L855.3 2363.7L857.3 2364.0L859.3 2364.3L861.3 2364.6L863.3 2361.4L865.3 2361.4L867.3 2362.7L869.3 2363.8L871.3 2365.3L873.3 2365.1L875.3 2364.1L877.3 2364.1L879.3 2363.8L881.3 2364.2L883.3 2364.9L885.3 2364.0L887.3 2362.9L889.3 2362.4L891.3 2364.5L893.3 2365.6L895.3 2365.7L897.3 2365.6L899.3 2365.5L901.3 2364.3L903.3 2364.6L905.3 2362.6L907.3 2362.6L909.3 2362.0L911.3 2363.4L913.3 2362.4L915.3 2362.5L917.3 2363.1L919.3 2364.4L921.3 2362.4L922.6 2381.4L121.3 2381.4Z" fill="url(#gfe)"/>
<path d="M121.3 2212.3L123.3 2200.9L125.3 2189.7L127.3 2177.5L129.3 2165.4L131.3 2154.5L133.3 2143.7L135.3 2132.8L137.3 2120.3L139.3 2108.8L141.3 2099.3L143.3 2089.5L145.3 2080.4L147.3 2070.5L149.3 2060.0L151.3 2049.4L153.3 2040.4L155.3 2028.7L157.3 2017.3L159.3 2006.7L161.3 1997.6L163.3 1988.7L165.3 1979.5L167.3 1971.0L169.3 1962.7L171.3 1954.9L173.3 1947.2L175.3 1939.0L177.3 1930.0L179.3 1923.4L181.3 1915.2L183.3 1908.5L185.3 1900.8L187.3 1894.6L189.3 1887.9L191.3 1882.4L193.3 1879.0L195.3 1872.9L197.3 1868.3L199.3 1862.7L201.3 1858.6L203.3 1855.2L205.3 1851.2L207.3 1847.8L209.3 1844.5L211.3 1841.2L213.3 1839.7L215.3 1837.3L217.3 1837.3L219.3 1835.5L221.3 1834.0L223.3 1829.9L225.3 1826.1L227.3 1821.5L229.3 1818.3L231.3 1814.1L233.3 1810.8L235.3 1806.3L237.3 1801.2L239.3 1797.5L241.3 1796.2L243.3 1794.7L245.3 1794.0L247.3 1791.9L249.3 1790.8L251.3 1789.8L253.3 1788.9L255.3 1789.4L257.3 1791.3L259.3 1793.8L261.3 1796.4L263.3 1800.0L265.3 1804.1L267.3 1808.0L269.3 1810.4L271.3 1811.8L273.3 1812.0L275.3 1811.2L277.3 1809.3L279.3 1807.8L281.3 1807.5L283.3 1807.3L285.3 1810.3L287.3 1815.1L289.3 1817.3L291.3 1820.2L293.3 1822.9L295.3 1824.3L297.3 1828.4L299.3 1831.3L301.3 1832.8L303.3 1835.1L305.3 1837.5L307.3 1839.7L309.3 1842.9L311.3 1846.5L313.3 1850.4L315.3 1853.7L317.3 1856.7L319.3 1860.8L321.3 1863.3L323.3 1867.5L325.3 1871.9L327.3 1875.8L329.3 1879.7L331.3 1885.5L333.3 1892.0L335.3 1898.0L337.3 1903.9L339.3 1906.9L341.3 1910.3L343.3 1913.5L345.3 1915.8L347.3 1917.1L349.3 1921.6L351.3 1926.6L353.3 1930.1L355.3 1932.7L357.3 1936.6L359.3 1941.3L361.3 1948.1L363.3 1954.2L365.3 1960.2L367.3 1966.4L369.3 1970.0L371.3 1974.5L373.3 1976.6L375.3 1979.5L377.3 1983.6L379.3 1988.0L381.3 1991.9L383.3 1995.7L385.3 1998.5L387.3 2002.7L389.3 2006.9L391.3 2010.9L393.3 2015.5L395.3 2019.2L397.3 2023.6L399.3 2027.4L401.3 2031.2L403.3 2035.4L405.3 2039.9L407.3 2044.5L409.3 2048.2L411.3 2052.3L413.3 2056.0L415.3 2061.8L417.3 2066.7L419.3 2070.4L421.3 2074.4L423.3 2078.2L425.3 2083.3L427.3 2088.2L429.3 2094.0L431.3 2097.7L433.3 2100.9L435.3 2103.2L437.3 2107.5L439.3 2108.7L441.3 2107.5L443.3 2107.9L445.3 2108.1L447.3 2116.5L449.3 2124.5L451.3 2131.1L453.3 2135.5L455.3 2138.2L457.3 2142.5L459.3 2145.5L461.3 2149.8L463.3 2151.7L465.3 2154.7L467.3 2158.7L469.3 2162.0L471.3 2163.0L473.3 2164.6L475.3 2168.1L477.3 2171.1L479.3 2172.7L481.3 2175.3L483.3 2178.0L485.3 2180.5L487.3 2183.7L489.3 2187.9L491.3 2191.1L493.3 2194.9L495.3 2197.0L497.3 2199.5L499.3 2201.6L501.3 2204.6L503.3 2206.6L505.3 2208.6L507.3 2212.4L509.3 2216.0L511.3 2218.6L513.3 2221.4L515.3 2223.3L517.3 2224.9L519.3 2227.4L521.3 2229.5L523.3 2231.3L525.3 2232.9L527.3 2235.0L529.3 2238.0L531.3 2240.5L533.3 2242.3L535.3 2245.3L537.3 2246.9L539.3 2248.9L541.3 2251.1L543.3 2251.8L545.3 2252.3L547.3 2255.1L549.3 2256.4L551.3 2259.0L553.3 2260.6L555.3 2262.6L557.3 2264.4L559.3 2264.5L561.3 2267.8L563.3 2268.7L565.3 2270.1L567.3 2272.4L569.3 2276.0L571.3 2279.0L573.3 2281.6L575.3 2280.7L577.3 2282.7L579.3 2282.3L581.3 2286.0L583.3 2289.3L585.3 2290.1L587.3 2292.6L589.3 2294.6L591.3 2297.3L593.3 2297.1L595.3 2297.8L597.3 2299.1L599.3 2303.4L601.3 2305.3L603.3 2305.5L605.3 2306.6L607.3 2307.7L609.3 2309.0L611.3 2309.6L613.3 2310.4L615.3 2310.2L617.3 2311.4L619.3 2315.3L621.3 2316.3L623.3 2316.7L625.3 2317.1L627.3 2318.1L629.3 2319.4L631.3 2319.3L633.3 2320.7L635.3 2321.9L637.3 2321.8L639.3 2322.1L641.3 2322.5L643.3 2323.0L645.3 2326.1L647.3 2324.0L649.3 2326.0L651.3 2326.9L653.3 2327.7L655.3 2329.3L657.3 2331.7L659.3 2331.9L661.3 2332.1L663.3 2332.0L665.3 2332.9L667.3 2335.0L669.3 2334.7L671.3 2334.1L673.3 2334.1L675.3 2334.6L677.3 2335.0L679.3 2338.5L681.3 2339.7L683.3 2339.9L685.3 2342.4L687.3 2341.4L689.3 2343.1L691.3 2344.3L693.3 2342.4L695.3 2341.9L697.3 2342.7L699.3 2345.7L701.3 2347.9L703.3 2346.1L705.3 2348.3L707.3 2347.9L709.3 2347.9L711.3 2348.0L713.3 2348.5L715.3 2347.2L717.3 2347.8L719.3 2347.9L721.3 2350.3L723.3 2353.5L725.3 2355.9L727.3 2353.4L729.3 2350.8L731.3 2351.4L733.3 2351.2L735.3 2354.8L737.3 2354.9L739.3 2353.5L741.3 2355.1L743.3 2355.5L745.3 2353.2L747.3 2353.7L749.3 2354.4L751.3 2355.2L753.3 2355.9L755.3 2355.8L757.3 2356.6L759.3 2356.2L761.3 2355.8L763.3 2358.7L765.3 2358.8L767.3 2359.1L769.3 2356.9L771.3 2357.8L773.3 2359.6L775.3 2357.9L777.3 2360.2L779.3 2359.5L781.3 2360.3L783.3 2360.1L785.3 2360.5L787.3 2362.0L789.3 2360.8L791.3 2362.6L793.3 2360.7L795.3 2359.7L797.3 2361.3L799.3 2359.9L801.3 2360.1L803.3 2361.8L805.3 2363.0L807.3 2359.9L809.3 2361.3L811.3 2363.6L813.3 2363.9L815.3 2362.3L817.3 2361.1L819.3 2361.0L821.3 2360.0L823.3 2360.6L825.3 2361.0L827.3 2361.2L829.3 2362.9L831.3 2362.0L833.3 2360.1L835.3 2362.3L837.3 2360.7L839.3 2360.8L841.3 2361.2L843.3 2361.1L845.3 2360.4L847.3 2361.0L849.3 2364.2L851.3 2362.4L853.3 2362.2L855.3 2363.7L857.3 2364.0L859.3 2364.3L861.3 2364.6L863.3 2361.4L865.3 2361.4L867.3 2362.7L869.3 2363.8L871.3 2365.3L873.3 2365.1L875.3 2364.1L877.3 2364.1L879.3 2363.8L881.3 2364.2L883.3 2364.9L885.3 2364.0L887.3 2362.9L889.3 2362.4L891.3 2364.5L893.3 2365.6L895.3 2365.7L897.3 2365.6L899.3 2365.5L901.3 2364.3L903.3 2364.6L905.3 2362.6L907.3 2362.6L909.3 2362.0L911.3 2363.4L913.3 2362.4L915.3 2362.5L917.3 2363.1L919.3 2364.4L921.3 2362.4" fill="none" stroke="#0a8410" stroke-width="4.6" stroke-dasharray="22.5 28.5" stroke-dashoffset="0" stroke-linejoin="round"/>
<path d="M121.3 2372.1L122.5 2372.0L123.7 2370.1L124.9 2368.7L126.1 2369.3L127.3 2370.0L128.5 2369.5L129.7 2368.2L130.9 2368.1L132.1 2369.3L133.3 2367.7L134.5 2368.6L135.7 2368.4L136.9 2368.2L138.1 2368.1L139.3 2367.0L140.5 2366.7L141.7 2367.8L142.9 2366.6L144.1 2365.9L145.3 2364.7L146.5 2364.7L147.7 2365.4L148.9 2366.0L150.1 2365.6L151.3 2365.3L152.5 2365.0L153.7 2364.6L154.9 2364.7L156.1 2363.8L157.3 2364.1L158.5 2363.2L159.7 2361.6L160.9 2361.0L162.1 2361.3L163.3 2361.1L164.5 2360.3L165.7 2360.2L166.9 2360.6L168.1 2360.8L169.3 2361.1L170.5 2359.8L171.7 2360.0L172.9 2360.4L174.1 2359.9L175.3 2360.6L176.5 2359.1L177.7 2358.7L178.9 2358.4L180.1 2357.8L181.3 2357.6L182.5 2357.6L183.7 2357.2L184.9 2356.6L186.1 2356.2L187.3 2356.1L188.5 2354.9L189.7 2355.5L190.9 2354.7L192.1 2354.8L193.3 2354.1L194.5 2354.4L195.7 2354.1L196.9 2354.0L198.1 2353.4L199.3 2353.6L200.5 2354.7L201.7 2352.6L202.9 2353.2L204.1 2353.2L205.3 2352.6L206.5 2351.6L207.7 2353.1L208.9 2352.7L210.1 2353.0L211.3 2352.1L212.5 2351.3L213.7 2352.2L214.9 2352.3L216.1 2351.5L217.3 2351.2L218.5 2351.6L219.7 2350.8L220.9 2350.3L222.1 2350.6L223.3 2351.4L224.5 2351.7L225.7 2351.3L226.9 2351.9L228.1 2351.0L229.3 2350.4L230.5 2352.0L231.7 2350.8L232.9 2350.9L234.1 2350.9L235.3 2350.6L236.5 2350.5L237.7 2350.8L238.9 2350.7L240.1 2349.9L241.3 2349.9L242.5 2350.9L243.7 2350.8L244.9 2350.0L246.1 2349.9L247.3 2349.1L248.5 2348.5L249.7 2348.8L250.9 2350.4L252.1 2349.5L253.3 2348.1L254.5 2348.8L255.7 2348.7L256.9 2349.6L258.1 2350.3L259.3 2349.5L260.5 2349.5L261.7 2348.7L262.9 2349.8L264.1 2349.0L265.3 2349.1L266.5 2350.7L267.7 2349.2L268.9 2349.2L270.1 2349.0L271.3 2349.3L272.5 2349.4L273.7 2350.1L274.9 2349.7L276.1 2349.6L277.3 2348.3L278.5 2348.8L279.7 2347.8L280.9 2349.1L282.1 2348.8L283.3 2349.3L284.5 2348.5L285.7 2348.6L286.9 2348.6L288.1 2348.9L289.3 2348.5L290.5 2348.0L291.7 2347.9L292.9 2347.6L294.1 2347.3L295.3 2346.9L296.5 2346.5L297.7 2348.7L298.9 2347.8L300.1 2347.1L301.3 2348.3L302.5 2348.3L303.7 2348.0L304.9 2348.7L306.1 2349.5L307.3 2348.0L308.5 2348.8L309.7 2348.6L310.9 2348.9L312.1 2347.8L313.3 2348.9L314.5 2349.0L315.7 2346.4L316.9 2347.9L318.1 2348.6L319.3 2347.0L320.5 2347.5L321.7 2347.3L322.9 2347.5L324.1 2346.8L325.3 2347.5L326.5 2347.9L327.7 2347.4L328.9 2347.2L330.1 2346.0L331.3 2347.0L332.5 2346.1L333.7 2346.6L334.9 2346.2L336.1 2348.4L337.3 2347.5L338.5 2348.1L339.7 2347.3L340.9 2346.8L342.1 2347.1L343.3 2346.7L344.5 2348.0L345.7 2346.9L346.9 2347.5L348.1 2345.7L349.3 2345.1L350.5 2345.8L351.7 2344.5L352.9 2346.2L354.1 2345.9L355.3 2345.3L356.5 2346.0L357.7 2344.7L358.9 2343.7L360.1 2341.9L361.3 2341.4L362.5 2342.2L363.7 2341.2L364.9 2342.6L366.1 2343.2L367.3 2343.0L368.5 2341.3L369.7 2340.9L370.9 2340.2L372.1 2341.2L373.3 2341.7L374.5 2340.9L375.7 2340.5L376.9 2340.3L378.1 2340.3L379.3 2338.9L380.5 2338.0L381.7 2338.5L382.9 2338.2L384.1 2337.7L385.3 2336.8L386.5 2336.5L387.7 2335.7L388.9 2334.1L390.1 2334.6L391.3 2333.9L392.5 2332.2L393.7 2331.1L394.9 2329.6L396.1 2328.1L397.3 2327.1L398.5 2325.9L399.7 2325.5L400.9 2325.4L402.1 2324.6L403.3 2322.8L404.5 2322.2L405.7 2321.1L406.9 2319.6L408.1 2319.9L409.3 2317.8L410.5 2317.5L411.7 2314.8L412.9 2314.1L414.1 2312.3L415.3 2311.8L416.5 2310.4L417.7 2308.1L418.9 2307.2L420.1 2306.4L421.3 2305.3L422.5 2304.0L423.7 2301.3L424.9 2301.0L426.1 2297.9L427.3 2295.9L428.5 2292.9L429.7 2291.3L430.9 2288.4L432.1 2286.8L433.3 2283.2L434.5 2282.5L435.7 2279.9L436.9 2277.8L438.1 2275.0L439.3 2271.5L440.5 2268.6L441.7 2265.5L442.9 2260.9L444.1 2257.6L445.3 2254.9L446.5 2252.5L447.7 2247.6L448.9 2244.3L450.1 2240.0L451.3 2236.7L452.5 2232.9L453.7 2227.6L454.9 2222.6L456.1 2219.8L457.3 2215.8L458.5 2210.8L459.7 2206.8L460.9 2202.1L462.1 2197.9L463.3 2193.1L464.5 2189.2L465.7 2185.9L466.9 2182.0L468.1 2177.9L469.3 2172.9L470.5 2168.8L471.7 2163.3L472.9 2158.1L474.1 2152.9L475.3 2146.3L476.5 2141.1L477.7 2134.6L478.9 2131.2L480.1 2126.2L481.3 2120.7L482.5 2114.7L483.7 2109.1L484.9 2103.9L486.1 2097.8L487.3 2093.1L488.5 2087.8L489.7 2083.9L490.9 2079.7L492.1 2075.1L493.3 2068.2L494.5 2062.3L495.7 2058.8L496.9 2054.0L498.1 2049.1L499.3 2043.7L500.5 2038.1L501.7 2034.7L502.9 2028.4L504.1 2021.1L505.3 2010.2L506.5 2000.4L507.7 1991.9L508.9 1983.1L510.1 1976.2L511.3 1969.2L512.5 1964.7L513.7 1959.3L514.9 1955.1L516.1 1952.7L517.3 1950.5L518.5 1945.5L519.7 1941.3L520.9 1937.1L522.1 1932.9L523.3 1928.8L524.5 1925.5L525.7 1920.9L526.9 1916.2L528.1 1912.1L529.3 1905.8L530.5 1902.6L531.7 1901.5L532.9 1895.8L534.1 1891.8L535.3 1889.0L536.5 1886.6L537.7 1882.2L538.9 1877.3L540.1 1875.9L541.3 1868.8L542.5 1864.9L543.7 1861.0L544.9 1855.3L546.1 1854.5L547.3 1852.7L548.5 1845.9L549.7 1842.2L550.9 1839.1L552.1 1837.5L553.3 1834.9L554.5 1833.5L555.7 1831.4L556.9 1828.2L558.1 1825.5L559.3 1824.2L560.5 1820.5L561.7 1817.1L562.9 1811.8L564.1 1806.0L565.3 1800.5L566.5 1794.4L567.7 1791.2L568.9 1791.1L570.1 1795.1L571.3 1795.9L572.5 1797.3L573.7 1799.6L574.9 1797.3L576.1 1797.4L577.3 1795.0L578.5 1793.0L579.7 1792.0L580.9 1789.3L582.1 1786.1L583.3 1787.5L584.5 1788.3L585.7 1791.0L586.9 1795.3L588.1 1796.7L589.3 1795.9L590.5 1798.7L591.7 1798.4L592.9 1798.6L594.1 1803.8L595.3 1803.0L596.5 1801.7L597.7 1804.3L598.9 1807.1L600.1 1811.6L601.3 1814.4L602.5 1816.8L603.7 1819.8L604.9 1818.3L606.1 1815.2L607.3 1814.4L608.5 1809.0L609.7 1809.1L610.9 1822.0L612.1 1838.6L613.3 1842.0L614.5 1845.2L615.7 1848.0L616.9 1847.7L618.1 1844.7L619.3 1849.7L620.5 1849.5L621.7 1852.3L622.9 1851.3L624.1 1852.5L625.3 1851.5L626.5 1850.0L627.7 1848.8L628.9 1851.2L630.1 1853.7L631.3 1852.5L632.5 1851.6L633.7 1857.3L634.9 1864.8L636.1 1863.8L637.3 1865.8L638.5 1866.5L639.7 1868.0L640.9 1875.7L642.1 1875.7L643.3 1881.1L644.5 1882.0L645.7 1883.5L646.9 1883.7L648.1 1878.8L649.3 1874.1L650.5 1874.4L651.7 1875.0L652.9 1879.7L654.1 1894.7L655.3 1897.8L656.5 1898.4L657.7 1900.5L658.9 1898.0L660.1 1896.5L661.3 1900.4L662.5 1899.4L663.7 1899.4L664.9 1902.1L666.1 1906.8L667.3 1910.0L668.5 1910.4L669.7 1916.6L670.9 1917.7L672.1 1918.0L673.3 1917.5L674.5 1919.4L675.7 1922.0L676.9 1922.9L678.1 1930.5L679.3 1932.7L680.5 1932.6L681.7 1932.3L682.9 1929.8L684.1 1934.9L685.3 1934.9L686.5 1939.2L687.7 1941.2L688.9 1940.0L690.1 1943.4L691.3 1945.9L692.5 1948.4L693.7 1951.2L694.9 1954.0L696.1 1955.9L697.3 1959.9L698.5 1962.4L699.7 1963.3L700.9 1964.8L702.1 1965.8L703.3 1966.6L704.5 1967.1L705.7 1966.8L706.9 1963.7L708.1 1957.9L709.3 1958.7L710.5 1958.6L711.7 1962.7L712.9 1972.1L714.1 1976.1L715.3 1973.4L716.5 1974.1L717.7 1979.3L718.9 1977.8L720.1 1975.9L721.3 1975.8L722.5 1980.0L723.7 1981.8L724.9 1985.4L726.1 1987.6L727.3 1990.4L728.5 1991.8L729.7 1992.8L730.9 1997.1L732.1 2001.6L733.3 2000.1L734.5 2002.0L735.7 2008.3L736.9 2006.6L738.1 2008.0L739.3 2014.6L740.5 2021.2L741.7 2024.7L742.9 2030.4L744.1 2032.5L745.3 2036.0L746.5 2038.9L747.7 2042.6L748.9 2045.4L750.1 2050.9L751.3 2053.7L752.5 2058.2L753.7 2058.5L754.9 2059.1L756.1 2061.6L757.3 2065.0L758.5 2069.9L759.7 2072.4L760.9 2076.6L762.1 2080.2L763.3 2079.5L764.5 2078.0L765.7 2079.7L766.9 2073.1L768.1 2075.5L769.3 2077.3L770.5 2081.1L771.7 2085.6L772.9 2089.8L774.1 2099.8L775.3 2097.4L776.5 2097.1L777.7 2101.5L778.9 2107.1L780.1 2115.8L781.3 2120.0L782.5 2120.8L783.7 2128.6L784.9 2134.1L786.1 2134.8L787.3 2138.6L788.5 2137.5L789.7 2120.2L790.9 2115.3L792.1 2113.0L793.3 2113.8L794.5 2112.6L795.7 2115.3L796.9 2117.4L798.1 2115.6L799.3 2120.2L800.5 2122.7L801.7 2127.1L802.9 2127.8L804.1 2131.5L805.3 2132.9L806.5 2134.1L807.7 2134.5L808.9 2131.4L810.1 2133.4L811.3 2137.6L812.5 2140.3L813.7 2142.1L814.9 2143.0L816.1 2144.5L817.3 2143.8L818.5 2143.9L819.7 2148.2L820.9 2153.3L822.1 2154.7L823.3 2156.0L824.5 2158.3L825.7 2163.2L826.9 2162.6L828.1 2164.0L829.3 2166.3L830.5 2169.6L831.7 2171.1L832.9 2171.9L834.1 2175.9L835.3 2186.3L836.5 2197.9L837.7 2207.4L838.9 2207.6L840.1 2200.6L841.3 2191.4L842.5 2186.0L843.7 2182.7L844.9 2178.1L846.1 2174.9L847.3 2177.9L848.5 2193.4L849.7 2205.4L850.9 2209.1L852.1 2199.6L853.3 2197.5L854.5 2195.7L855.7 2199.1L856.9 2200.5L858.1 2203.0L859.3 2202.9L860.5 2205.4L861.7 2205.2L862.9 2209.7L864.1 2209.8L865.3 2211.5L866.5 2211.7L867.7 2213.6L868.9 2214.4L870.1 2215.5L871.3 2219.5L872.5 2220.0L873.7 2220.3L874.9 2222.7L876.1 2229.6L877.3 2231.0L878.5 2230.8L879.7 2231.2L880.9 2231.5L882.1 2231.3L883.3 2232.8L884.5 2229.3L885.7 2224.7L886.9 2229.6L888.1 2241.3L889.3 2238.9L890.5 2231.8L891.7 2229.0L892.9 2230.0L894.1 2237.9L895.3 2245.1L896.5 2245.9L897.7 2241.7L898.9 2239.5L900.1 2238.2L901.3 2239.6L902.5 2244.3L903.7 2250.1L904.9 2250.2L906.1 2248.8L907.3 2244.9L908.5 2244.4L909.7 2244.4L910.9 2247.1L912.1 2255.9L913.3 2261.2L914.5 2266.5L915.7 2267.6L916.9 2270.6L918.1 2270.3L919.3 2272.5L920.5 2272.4L921.7 2265.1" fill="none" stroke="#a9cde6" stroke-width="4.9" stroke-linejoin="round"/>
<path d="M121.3 2357.3L122.8 2357.0L124.3 2355.8L125.8 2354.7L127.3 2354.3L128.8 2353.9L130.3 2353.2L131.8 2352.6L133.3 2351.8L134.8 2351.0L136.3 2350.2L137.8 2349.7L139.3 2349.1L140.8 2348.8L142.3 2348.3L143.8 2347.2L145.3 2347.0L146.8 2346.4L148.3 2346.1L149.8 2345.8L151.3 2345.2L152.8 2344.0L154.3 2343.9L155.8 2343.0L157.3 2343.2L158.8 2342.4L160.3 2342.0L161.8 2342.2L163.3 2341.0L164.8 2340.8L166.3 2340.2L167.8 2339.9L169.3 2339.4L170.8 2339.4L172.3 2338.9L173.8 2338.7L175.3 2338.5L176.8 2337.5L178.3 2337.7L179.8 2337.1L181.3 2336.3L182.8 2335.9L184.3 2336.0L185.8 2335.8L187.3 2335.1L188.8 2334.7L190.3 2334.4L191.8 2334.2L193.3 2333.6L194.8 2333.4L196.3 2332.6L197.8 2332.1L199.3 2332.0L200.8 2331.8L202.3 2331.3L203.8 2331.0L205.3 2330.6L206.8 2330.4L208.3 2330.2L209.8 2329.8L211.3 2329.6L212.8 2329.0L214.3 2328.5L215.8 2327.7L217.3 2327.9L218.8 2327.8L220.3 2327.7L221.8 2326.9L223.3 2326.8L224.8 2326.6L226.3 2326.0L227.8 2326.4L229.3 2326.5L230.8 2325.7L232.3 2325.7L233.8 2325.9L235.3 2325.0L236.8 2325.0L238.3 2325.1L239.8 2325.0L241.3 2323.9L242.8 2323.4L244.3 2323.4L245.8 2323.5L247.3 2322.7L248.8 2322.4L250.3 2322.1L251.8 2322.4L253.3 2322.0L254.8 2322.1L256.3 2322.1L257.8 2322.1L259.3 2321.9L260.8 2321.6L262.3 2321.7L263.8 2321.5L265.3 2320.8L266.8 2320.6L268.3 2320.9L269.8 2320.7L271.3 2320.4L272.8 2320.3L274.3 2321.0L275.8 2320.3L277.3 2320.1L278.8 2319.8L280.3 2319.4L281.8 2319.6L283.3 2319.4L284.8 2319.1L286.3 2318.4L287.8 2318.7L289.3 2318.7L290.8 2318.3L292.3 2317.3L293.8 2317.5L295.3 2317.2L296.8 2317.3L298.3 2317.1L299.8 2316.9L301.3 2317.2L302.8 2317.0L304.3 2317.2L305.8 2316.5L307.3 2316.3L308.8 2316.5L310.3 2316.3L311.8 2315.7L313.3 2315.3L314.8 2315.1L316.3 2315.1L317.8 2315.1L319.3 2314.9L320.8 2314.9L322.3 2314.8L323.8 2314.4L325.3 2314.4L326.8 2314.1L328.3 2313.6L329.8 2313.2L331.3 2313.0L332.8 2312.4L334.3 2311.8L335.8 2311.8L337.3 2311.3L338.8 2311.2L340.3 2310.5L341.8 2310.0L343.3 2309.4L344.8 2308.6L346.3 2307.9L347.8 2307.0L349.3 2306.2L350.8 2305.8L352.3 2305.0L353.8 2304.1L355.3 2303.1L356.8 2302.5L358.3 2302.2L359.8 2300.4L361.3 2300.0L362.8 2299.1L364.3 2298.4L365.8 2297.6L367.3 2296.2L368.8 2295.8L370.3 2294.4L371.8 2293.3L373.3 2292.6L374.8 2291.4L376.3 2290.5L377.8 2289.2L379.3 2287.9L380.8 2287.0L382.3 2285.7L383.8 2285.3L385.3 2284.1L386.8 2283.3L388.3 2281.6L389.8 2280.0L391.3 2278.5L392.8 2277.8L394.3 2276.5L395.8 2275.8L397.3 2274.2L398.8 2272.8L400.3 2272.0L401.8 2270.7L403.3 2269.7L404.8 2268.5L406.3 2267.2L407.8 2265.4L409.3 2264.0L410.8 2263.5L412.3 2261.8L413.8 2260.4L415.3 2258.7L416.8 2256.7L418.3 2254.4L419.8 2251.4L421.3 2248.3L422.8 2244.8L424.3 2242.5L425.8 2239.2L427.3 2235.4L428.8 2232.2L430.3 2228.8L431.8 2224.5L433.3 2220.6L434.8 2217.2L436.3 2213.2L437.8 2209.2L439.3 2205.3L440.8 2201.1L442.3 2196.9L443.8 2193.3L445.3 2188.9L446.8 2184.7L448.3 2180.7L449.8 2176.4L451.3 2171.7L452.8 2168.2L454.3 2163.7L455.8 2159.8L457.3 2155.3L458.8 2150.4L460.3 2146.3L461.8 2141.4L463.3 2136.3L464.8 2131.6L466.3 2126.2L467.8 2121.7L469.3 2116.6L470.8 2111.7L472.3 2106.8L473.8 2102.6L475.3 2098.4L476.8 2093.8L478.3 2089.2L479.8 2083.3L481.3 2074.7L482.8 2064.2L484.3 2053.4L485.8 2043.9L487.3 2035.9L488.8 2027.9L490.3 2020.1L491.8 2013.5L493.3 2007.4L494.8 2003.1L496.3 1999.3L497.8 1995.8L499.3 1992.8L500.8 1989.4L502.3 1986.2L503.8 1982.4L505.3 1978.9L506.8 1974.4L508.3 1970.0L509.8 1964.3L511.3 1958.4L512.8 1951.7L514.3 1944.1L515.8 1938.1L517.3 1932.6L518.8 1928.4L520.3 1924.1L521.8 1919.1L523.3 1914.5L524.8 1909.6L526.3 1905.4L527.8 1901.3L529.3 1896.6L530.8 1891.6L532.3 1888.2L533.8 1883.0L535.3 1879.6L536.8 1875.4L538.3 1871.2L539.8 1865.5L541.3 1861.2L542.8 1855.6L544.3 1851.1L545.8 1845.9L547.3 1841.6L548.8 1837.6L550.3 1834.7L551.8 1832.0L553.3 1829.2L554.8 1827.2L556.3 1825.1L557.8 1823.4L559.3 1821.6L560.8 1820.8L562.3 1820.1L563.8 1818.2L565.3 1817.1L566.8 1815.0L568.3 1813.2L569.8 1811.8L571.3 1810.9L572.8 1808.3L574.3 1805.8L575.8 1802.1L577.3 1799.0L578.8 1799.1L580.3 1802.1L581.8 1804.8L583.3 1808.3L584.8 1811.0L586.3 1812.3L587.8 1815.3L589.3 1817.4L590.8 1817.3L592.3 1819.2L593.8 1821.6L595.3 1822.4L596.8 1823.8L598.3 1824.8L599.8 1823.2L601.3 1820.9L602.8 1818.7L604.3 1816.8L605.8 1821.0L607.3 1825.3L608.8 1830.6L610.3 1834.0L611.8 1837.9L613.3 1841.6L614.8 1845.0L616.3 1848.7L617.8 1851.9L619.3 1854.9L620.8 1857.0L622.3 1858.5L623.8 1860.1L625.3 1862.0L626.8 1862.4L628.3 1862.4L629.8 1859.5L631.3 1856.3L632.8 1854.8L634.3 1855.1L635.8 1857.0L637.3 1860.0L638.8 1861.8L640.3 1864.5L641.8 1866.7L643.3 1870.8L644.8 1874.8L646.3 1878.4L647.8 1883.3L649.3 1888.2L650.8 1892.2L652.3 1896.4L653.8 1900.1L655.3 1904.0L656.8 1908.1L658.3 1911.0L659.8 1914.3L661.3 1914.8L662.8 1916.3L664.3 1917.9L665.8 1920.3L667.3 1921.9L668.8 1923.5L670.3 1925.4L671.8 1928.1L673.3 1930.3L674.8 1932.3L676.3 1935.0L677.8 1937.2L679.3 1939.9L680.8 1942.8L682.3 1944.9L683.8 1947.5L685.3 1949.7L686.8 1951.4L688.3 1953.3L689.8 1956.4L691.3 1958.5L692.8 1960.7L694.3 1961.9L695.8 1963.2L697.3 1964.7L698.8 1965.8L700.3 1968.1L701.8 1969.9L703.3 1971.6L704.8 1972.7L706.3 1974.8L707.8 1977.4L709.3 1980.4L710.8 1982.4L712.3 1984.7L713.8 1987.2L715.3 1989.4L716.8 1991.5L718.3 1993.3L719.8 1997.1L721.3 2000.1L722.8 2003.9L724.3 2009.0L725.8 2013.6L727.3 2018.2L728.8 2023.3L730.3 2029.4L731.8 2033.3L733.3 2037.5L734.8 2040.1L736.3 2042.4L737.8 2045.6L739.3 2048.6L740.8 2051.2L742.3 2054.3L743.8 2053.7L745.3 2051.4L746.8 2050.9L748.3 2049.5L749.8 2050.1L751.3 2050.4L752.8 2054.4L754.3 2057.1L755.8 2060.2L757.3 2064.1L758.8 2066.7L760.3 2068.7L761.8 2071.3L763.3 2073.4L764.8 2074.5L766.3 2077.3L767.8 2078.4L769.3 2080.0L770.8 2081.9L772.3 2084.0L773.8 2086.7L775.3 2087.5L776.8 2090.5L778.3 2093.9L779.8 2096.6L781.3 2099.2L782.8 2101.4L784.3 2104.8L785.8 2107.3L787.3 2110.2L788.8 2112.2L790.3 2114.9L791.8 2117.5L793.3 2119.2L794.8 2122.7L796.3 2124.9L797.8 2126.6L799.3 2129.2L800.8 2131.9L802.3 2134.2L803.8 2136.2L805.3 2139.0L806.8 2141.0L808.3 2143.0L809.8 2146.9L811.3 2150.2L812.8 2153.0L814.3 2155.6L815.8 2157.2L817.3 2157.2L818.8 2157.8L820.3 2159.2L821.8 2159.5L823.3 2160.2L824.8 2161.2L826.3 2162.0L827.8 2161.3L829.3 2160.7L830.8 2158.9L832.3 2156.0L833.8 2156.8L835.3 2157.4L836.8 2157.4L838.3 2159.4L839.8 2160.0L841.3 2160.7L842.8 2161.9L844.3 2160.4L845.8 2161.5L847.3 2163.2L848.8 2165.1L850.3 2166.5L851.8 2168.7L853.3 2171.4L854.8 2174.9L856.3 2178.1L857.8 2180.6L859.3 2184.9L860.8 2188.6L862.3 2192.3L863.8 2195.5L865.3 2197.8L866.8 2199.6L868.3 2200.9L869.8 2201.6L871.3 2201.7L872.8 2201.1L874.3 2198.6L875.8 2196.1L877.3 2195.1L878.8 2193.5L880.3 2192.8L881.8 2192.3L883.3 2193.3L884.8 2193.6L886.3 2196.3L887.8 2198.2L889.3 2199.2L890.8 2202.2L892.3 2207.0L893.8 2211.7L895.3 2212.2L896.8 2212.6L898.3 2212.2L899.8 2211.2L901.3 2211.9L902.8 2211.3L904.3 2210.0L905.8 2210.1L907.3 2211.1L908.8 2213.3L910.3 2215.2L911.8 2218.0L913.3 2220.5L914.8 2224.4L916.3 2229.3L917.8 2235.2L919.3 2240.4L920.8 2245.7L922.3 2252.2L922.6 2381.4L121.3 2381.4Z" fill="url(#gbe)"/>
<path d="M121.3 2357.3L122.8 2357.0L124.3 2355.8L125.8 2354.7L127.3 2354.3L128.8 2353.9L130.3 2353.2L131.8 2352.6L133.3 2351.8L134.8 2351.0L136.3 2350.2L137.8 2349.7L139.3 2349.1L140.8 2348.8L142.3 2348.3L143.8 2347.2L145.3 2347.0L146.8 2346.4L148.3 2346.1L149.8 2345.8L151.3 2345.2L152.8 2344.0L154.3 2343.9L155.8 2343.0L157.3 2343.2L158.8 2342.4L160.3 2342.0L161.8 2342.2L163.3 2341.0L164.8 2340.8L166.3 2340.2L167.8 2339.9L169.3 2339.4L170.8 2339.4L172.3 2338.9L173.8 2338.7L175.3 2338.5L176.8 2337.5L178.3 2337.7L179.8 2337.1L181.3 2336.3L182.8 2335.9L184.3 2336.0L185.8 2335.8L187.3 2335.1L188.8 2334.7L190.3 2334.4L191.8 2334.2L193.3 2333.6L194.8 2333.4L196.3 2332.6L197.8 2332.1L199.3 2332.0L200.8 2331.8L202.3 2331.3L203.8 2331.0L205.3 2330.6L206.8 2330.4L208.3 2330.2L209.8 2329.8L211.3 2329.6L212.8 2329.0L214.3 2328.5L215.8 2327.7L217.3 2327.9L218.8 2327.8L220.3 2327.7L221.8 2326.9L223.3 2326.8L224.8 2326.6L226.3 2326.0L227.8 2326.4L229.3 2326.5L230.8 2325.7L232.3 2325.7L233.8 2325.9L235.3 2325.0L236.8 2325.0L238.3 2325.1L239.8 2325.0L241.3 2323.9L242.8 2323.4L244.3 2323.4L245.8 2323.5L247.3 2322.7L248.8 2322.4L250.3 2322.1L251.8 2322.4L253.3 2322.0L254.8 2322.1L256.3 2322.1L257.8 2322.1L259.3 2321.9L260.8 2321.6L262.3 2321.7L263.8 2321.5L265.3 2320.8L266.8 2320.6L268.3 2320.9L269.8 2320.7L271.3 2320.4L272.8 2320.3L274.3 2321.0L275.8 2320.3L277.3 2320.1L278.8 2319.8L280.3 2319.4L281.8 2319.6L283.3 2319.4L284.8 2319.1L286.3 2318.4L287.8 2318.7L289.3 2318.7L290.8 2318.3L292.3 2317.3L293.8 2317.5L295.3 2317.2L296.8 2317.3L298.3 2317.1L299.8 2316.9L301.3 2317.2L302.8 2317.0L304.3 2317.2L305.8 2316.5L307.3 2316.3L308.8 2316.5L310.3 2316.3L311.8 2315.7L313.3 2315.3L314.8 2315.1L316.3 2315.1L317.8 2315.1L319.3 2314.9L320.8 2314.9L322.3 2314.8L323.8 2314.4L325.3 2314.4L326.8 2314.1L328.3 2313.6L329.8 2313.2L331.3 2313.0L332.8 2312.4L334.3 2311.8L335.8 2311.8L337.3 2311.3L338.8 2311.2L340.3 2310.5L341.8 2310.0L343.3 2309.4L344.8 2308.6L346.3 2307.9L347.8 2307.0L349.3 2306.2L350.8 2305.8L352.3 2305.0L353.8 2304.1L355.3 2303.1L356.8 2302.5L358.3 2302.2L359.8 2300.4L361.3 2300.0L362.8 2299.1L364.3 2298.4L365.8 2297.6L367.3 2296.2L368.8 2295.8L370.3 2294.4L371.8 2293.3L373.3 2292.6L374.8 2291.4L376.3 2290.5L377.8 2289.2L379.3 2287.9L380.8 2287.0L382.3 2285.7L383.8 2285.3L385.3 2284.1L386.8 2283.3L388.3 2281.6L389.8 2280.0L391.3 2278.5L392.8 2277.8L394.3 2276.5L395.8 2275.8L397.3 2274.2L398.8 2272.8L400.3 2272.0L401.8 2270.7L403.3 2269.7L404.8 2268.5L406.3 2267.2L407.8 2265.4L409.3 2264.0L410.8 2263.5L412.3 2261.8L413.8 2260.4L415.3 2258.7L416.8 2256.7L418.3 2254.4L419.8 2251.4L421.3 2248.3L422.8 2244.8L424.3 2242.5L425.8 2239.2L427.3 2235.4L428.8 2232.2L430.3 2228.8L431.8 2224.5L433.3 2220.6L434.8 2217.2L436.3 2213.2L437.8 2209.2L439.3 2205.3L440.8 2201.1L442.3 2196.9L443.8 2193.3L445.3 2188.9L446.8 2184.7L448.3 2180.7L449.8 2176.4L451.3 2171.7L452.8 2168.2L454.3 2163.7L455.8 2159.8L457.3 2155.3L458.8 2150.4L460.3 2146.3L461.8 2141.4L463.3 2136.3L464.8 2131.6L466.3 2126.2L467.8 2121.7L469.3 2116.6L470.8 2111.7L472.3 2106.8L473.8 2102.6L475.3 2098.4L476.8 2093.8L478.3 2089.2L479.8 2083.3L481.3 2074.7L482.8 2064.2L484.3 2053.4L485.8 2043.9L487.3 2035.9L488.8 2027.9L490.3 2020.1L491.8 2013.5L493.3 2007.4L494.8 2003.1L496.3 1999.3L497.8 1995.8L499.3 1992.8L500.8 1989.4L502.3 1986.2L503.8 1982.4L505.3 1978.9L506.8 1974.4L508.3 1970.0L509.8 1964.3L511.3 1958.4L512.8 1951.7L514.3 1944.1L515.8 1938.1L517.3 1932.6L518.8 1928.4L520.3 1924.1L521.8 1919.1L523.3 1914.5L524.8 1909.6L526.3 1905.4L527.8 1901.3L529.3 1896.6L530.8 1891.6L532.3 1888.2L533.8 1883.0L535.3 1879.6L536.8 1875.4L538.3 1871.2L539.8 1865.5L541.3 1861.2L542.8 1855.6L544.3 1851.1L545.8 1845.9L547.3 1841.6L548.8 1837.6L550.3 1834.7L551.8 1832.0L553.3 1829.2L554.8 1827.2L556.3 1825.1L557.8 1823.4L559.3 1821.6L560.8 1820.8L562.3 1820.1L563.8 1818.2L565.3 1817.1L566.8 1815.0L568.3 1813.2L569.8 1811.8L571.3 1810.9L572.8 1808.3L574.3 1805.8L575.8 1802.1L577.3 1799.0L578.8 1799.1L580.3 1802.1L581.8 1804.8L583.3 1808.3L584.8 1811.0L586.3 1812.3L587.8 1815.3L589.3 1817.4L590.8 1817.3L592.3 1819.2L593.8 1821.6L595.3 1822.4L596.8 1823.8L598.3 1824.8L599.8 1823.2L601.3 1820.9L602.8 1818.7L604.3 1816.8L605.8 1821.0L607.3 1825.3L608.8 1830.6L610.3 1834.0L611.8 1837.9L613.3 1841.6L614.8 1845.0L616.3 1848.7L617.8 1851.9L619.3 1854.9L620.8 1857.0L622.3 1858.5L623.8 1860.1L625.3 1862.0L626.8 1862.4L628.3 1862.4L629.8 1859.5L631.3 1856.3L632.8 1854.8L634.3 1855.1L635.8 1857.0L637.3 1860.0L638.8 1861.8L640.3 1864.5L641.8 1866.7L643.3 1870.8L644.8 1874.8L646.3 1878.4L647.8 1883.3L649.3 1888.2L650.8 1892.2L652.3 1896.4L653.8 1900.1L655.3 1904.0L656.8 1908.1L658.3 1911.0L659.8 1914.3L661.3 1914.8L662.8 1916.3L664.3 1917.9L665.8 1920.3L667.3 1921.9L668.8 1923.5L670.3 1925.4L671.8 1928.1L673.3 1930.3L674.8 1932.3L676.3 1935.0L677.8 1937.2L679.3 1939.9L680.8 1942.8L682.3 1944.9L683.8 1947.5L685.3 1949.7L686.8 1951.4L688.3 1953.3L689.8 1956.4L691.3 1958.5L692.8 1960.7L694.3 1961.9L695.8 1963.2L697.3 1964.7L698.8 1965.8L700.3 1968.1L701.8 1969.9L703.3 1971.6L704.8 1972.7L706.3 1974.8L707.8 1977.4L709.3 1980.4L710.8 1982.4L712.3 1984.7L713.8 1987.2L715.3 1989.4L716.8 1991.5L718.3 1993.3L719.8 1997.1L721.3 2000.1L722.8 2003.9L724.3 2009.0L725.8 2013.6L727.3 2018.2L728.8 2023.3L730.3 2029.4L731.8 2033.3L733.3 2037.5L734.8 2040.1L736.3 2042.4L737.8 2045.6L739.3 2048.6L740.8 2051.2L742.3 2054.3L743.8 2053.7L745.3 2051.4L746.8 2050.9L748.3 2049.5L749.8 2050.1L751.3 2050.4L752.8 2054.4L754.3 2057.1L755.8 2060.2L757.3 2064.1L758.8 2066.7L760.3 2068.7L761.8 2071.3L763.3 2073.4L764.8 2074.5L766.3 2077.3L767.8 2078.4L769.3 2080.0L770.8 2081.9L772.3 2084.0L773.8 2086.7L775.3 2087.5L776.8 2090.5L778.3 2093.9L779.8 2096.6L781.3 2099.2L782.8 2101.4L784.3 2104.8L785.8 2107.3L787.3 2110.2L788.8 2112.2L790.3 2114.9L791.8 2117.5L793.3 2119.2L794.8 2122.7L796.3 2124.9L797.8 2126.6L799.3 2129.2L800.8 2131.9L802.3 2134.2L803.8 2136.2L805.3 2139.0L806.8 2141.0L808.3 2143.0L809.8 2146.9L811.3 2150.2L812.8 2153.0L814.3 2155.6L815.8 2157.2L817.3 2157.2L818.8 2157.8L820.3 2159.2L821.8 2159.5L823.3 2160.2L824.8 2161.2L826.3 2162.0L827.8 2161.3L829.3 2160.7L830.8 2158.9L832.3 2156.0L833.8 2156.8L835.3 2157.4L836.8 2157.4L838.3 2159.4L839.8 2160.0L841.3 2160.7L842.8 2161.9L844.3 2160.4L845.8 2161.5L847.3 2163.2L848.8 2165.1L850.3 2166.5L851.8 2168.7L853.3 2171.4L854.8 2174.9L856.3 2178.1L857.8 2180.6L859.3 2184.9L860.8 2188.6L862.3 2192.3L863.8 2195.5L865.3 2197.8L866.8 2199.6L868.3 2200.9L869.8 2201.6L871.3 2201.7L872.8 2201.1L874.3 2198.6L875.8 2196.1L877.3 2195.1L878.8 2193.5L880.3 2192.8L881.8 2192.3L883.3 2193.3L884.8 2193.6L886.3 2196.3L887.8 2198.2L889.3 2199.2L890.8 2202.2L892.3 2207.0L893.8 2211.7L895.3 2212.2L896.8 2212.6L898.3 2212.2L899.8 2211.2L901.3 2211.9L902.8 2211.3L904.3 2210.0L905.8 2210.1L907.3 2211.1L908.8 2213.3L910.3 2215.2L911.8 2218.0L913.3 2220.5L914.8 2224.4L916.3 2229.3L917.8 2235.2L919.3 2240.4L920.8 2245.7L922.3 2252.2" fill="none" stroke="#74aed8" stroke-width="5" stroke-linejoin="round"/>
</g>
<rect x="121.3" y="1611.2" width="801.3000000000001" height="770.2" fill="none" stroke="#000" stroke-width="1.1"/>
<path d="M135.6 2381.4v6.5M207.2 2381.4v10.5M278.8 2381.4v6.5M350.3 2381.4v6.5M421.9 2381.4v6.5M493.4 2381.4v10.5M565.0 2381.4v6.5M636.6 2381.4v6.5M708.1 2381.4v6.5M779.7 2381.4v10.5M851.3 2381.4v6.5M922.8 2381.4v6.5" stroke="#333" stroke-width="1.2" fill="none"/>
<text transform="translate(207.5 2440) scale(1 1.03)" font-size="54.6" font-family="'Liberation Sans', sans-serif" text-anchor="middle" fill="#000" >500</text>
<text transform="translate(493.8 2440) scale(1 1.03)" font-size="54.6" font-family="'Liberation Sans', sans-serif" text-anchor="middle" fill="#000" >600</text>
<text transform="translate(780.0 2440) scale(1 1.03)" font-size="54.6" font-family="'Liberation Sans', sans-serif" text-anchor="middle" fill="#000" >700</text>
<text x="502.5" y="2487.5" font-size="55.4" font-family="'Liberation Sans', sans-serif" text-anchor="middle" fill="#000" >Wavelength (nm)</text>
<g transform="translate(79.8 2004.5) rotate(-90)">
<text x="0" y="0" font-size="55" font-family="'Liberation Sans', sans-serif" text-anchor="middle" fill="#000" >Normalized Intensity</text>
</g>
<path d="M623.7 1633.7H727.6" stroke="#8ca525" stroke-width="4.4" stroke-dasharray="22.5 27.5" fill="none"/>
<rect x="623.9" y="1665.1" width="103.8" height="51.2" fill="url(#lg3)" stroke="#0a8410" stroke-width="5" stroke-dasharray="18.5 31.5" stroke-dashoffset="-2" stroke-linejoin="round" stroke-linecap="round"/>
<path d="M623.7 1747.4H727.6" stroke="#a9cde6" stroke-width="4.4" fill="none"/>
<rect x="623.9" y="1778.8" width="103.8" height="50.6" fill="url(#lg9)" stroke="#74aed8" stroke-width="5.2" stroke-linejoin="round"/>
<text transform="translate(739 1649.3) scale(1 1.07)" font-size="46.4" font-family="'Liberation Sans', sans-serif" text-anchor="start" fill="#000" >pH = 1.0</text>
<text transform="translate(739 1705.7) scale(1 1.07)" font-size="46.4" font-family="'Liberation Sans', sans-serif" text-anchor="start" fill="#000" >pH = 3.0</text>
<text transform="translate(739 1762.1) scale(1 1.07)" font-size="46.4" font-family="'Liberation Sans', sans-serif" text-anchor="start" fill="#000" >pH = 7.0</text>
<text transform="translate(739 1818.5) scale(1 1.07)" font-size="46.4" font-family="'Liberation Sans', sans-serif" text-anchor="start" fill="#000" >pH = 9.0</text>
<path d="M1148.5 2264.8L1152.1 2258.9L1157.3 2250.4L1162.9 2240.8L1168.0 2231.6L1172.4 2223.0L1176.5 2214.4L1180.4 2205.7L1184.1 2197.0L1187.7 2188.1L1191.1 2179.1L1194.4 2170.2L1197.5 2161.8L1200.3 2154.1L1203.0 2146.9L1205.6 2139.8L1208.3 2132.4L1211.0 2124.6L1213.7 2116.7L1216.4 2108.6L1219.1 2100.4L1221.8 2091.4L1224.6 2082.0L1227.3 2073.1L1229.6 2065.8L1231.5 2060.7L1233.1 2057.1L1234.5 2054.3L1235.9 2051.7L1237.0 2049.5L1237.9 2047.9L1238.9 2046.3L1240.5 2044.0L1242.8 2040.9L1245.6 2037.3L1248.5 2033.3L1251.0 2029.3L1253.0 2025.2L1254.8 2020.9L1256.3 2016.5L1257.7 2012.0L1258.9 2007.6L1259.9 2003.2L1260.9 1998.5L1261.8 1993.5L1262.8 1988.5L1263.7 1983.5L1264.7 1977.6L1265.7 1969.8L1267.0 1959.5L1268.4 1947.4L1269.9 1934.3L1271.3 1921.2L1272.6 1908.2L1273.8 1894.8L1275.1 1881.2L1276.5 1867.4L1278.1 1853.0L1279.8 1838.0L1281.5 1823.3L1283.2 1809.8L1284.9 1797.3L1286.5 1785.6L1288.2 1774.9L1289.9 1765.6L1291.5 1757.9L1293.1 1751.6L1294.8 1746.3L1296.5 1742.0L1298.3 1738.6L1300.1 1736.2L1302.1 1734.6L1304.6 1733.3L1307.6 1732.5L1311.1 1732.4L1314.9 1732.4L1318.6 1732.4L1322.6 1731.9L1326.8 1731.3L1330.9 1730.9L1334.2 1731.1L1336.7 1732.0L1338.5 1733.4L1340.1 1735.3L1341.6 1737.5L1343.2 1739.9L1344.7 1742.6L1346.2 1745.8L1347.6 1749.6L1348.9 1754.2L1350.3 1759.3L1351.6 1765.0L1352.9 1771.4L1354.2 1778.2L1355.5 1785.4L1356.8 1793.6L1358.2 1803.4L1359.5 1815.1L1360.9 1828.3L1362.3 1842.5L1363.7 1857.2L1365.0 1872.6L1366.3 1889.0L1367.6 1905.5L1369.0 1921.2L1370.3 1936.3L1371.7 1951.2L1373.0 1965.1L1374.2 1977.5L1375.4 1987.7L1376.4 1996.3L1377.4 2004.1L1378.4 2012.0L1379.3 2020.4L1380.3 2028.7L1381.2 2036.6L1382.3 2044.0L1383.4 2050.7L1384.7 2056.7L1386.0 2062.5L1387.6 2068.4L1389.2 2074.3L1390.9 2080.2L1393.0 2086.2L1395.6 2092.7L1399.0 2099.7L1403.0 2107.1L1407.3 2114.6L1411.7 2122.1L1416.2 2129.6L1420.8 2137.2L1425.6 2144.6L1430.6 2151.6L1435.6 2157.9L1440.8 2163.7L1446.2 2169.4L1451.9 2175.2L1458.2 2181.3L1464.9 2187.5L1471.8 2193.6L1478.6 2199.6L1485.6 2205.6L1492.7 2211.6L1499.5 2217.2L1505.5 2222.0L1510.3 2225.7L1514.2 2228.6L1517.8 2230.9L1521.6 2232.8L1525.6 2234.5L1529.6 2235.8L1533.7 2236.6L1537.7 2236.7L1541.8 2235.9L1546.1 2234.3L1550.1 2232.3L1553.8 2230.3L1556.9 2228.2L1559.7 2225.9L1562.2 2223.4L1564.6 2220.7L1566.7 2217.7L1568.5 2214.4L1570.3 2210.9L1572.4 2207.2L1574.8 2203.7L1577.5 2200.1L1580.2 2196.1L1583.0 2191.2L1585.7 2185.2L1588.4 2178.3L1591.1 2171.1L1593.8 2164.4L1596.5 2158.2L1599.2 2152.3L1601.9 2146.5L1604.6 2140.7L1607.2 2134.8L1609.9 2129.1L1612.5 2123.2L1615.2 2117.0L1617.8 2110.4L1620.6 2103.6L1623.3 2096.6L1626.0 2089.5L1628.6 2082.2L1631.2 2074.7L1633.9 2067.2L1636.5 2060.0L1639.3 2053.3L1642.1 2046.9L1644.8 2040.5L1647.3 2033.8L1649.6 2026.5L1651.8 2018.9L1653.7 2011.3L1655.4 2004.4L1656.6 1997.9L1657.5 1991.8L1658.3 1986.2L1659.3 1981.3L1660.5 1978.0L1661.9 1976.0L1663.3 1973.5L1664.8 1969.2L1666.4 1962.0L1668.2 1953.1L1669.9 1943.6L1671.5 1934.6L1672.9 1926.5L1674.2 1918.6L1675.5 1910.8L1676.8 1902.6L1678.1 1894.1L1679.4 1885.3L1680.7 1876.4L1682.1 1867.4L1683.5 1858.1L1684.9 1848.5L1686.3 1839.1L1687.6 1830.3L1688.6 1822.5L1689.5 1815.4L1690.4 1808.4L1691.5 1800.8L1692.7 1792.4L1693.9 1783.4L1695.3 1774.3L1696.8 1765.6L1698.3 1757.0L1700.0 1748.4L1701.8 1740.4L1703.7 1733.6L1705.4 1728.6L1707.1 1724.7L1709.1 1721.6L1711.7 1718.9L1714.9 1716.8L1718.6 1715.4L1722.8 1714.2L1727.8 1712.5L1734.0 1710.2L1741.1 1707.6L1748.3 1705.1L1754.5 1702.9L1759.4 1701.1L1763.7 1699.4L1767.3 1698.3L1770.6 1697.8L1773.2 1698.1L1775.2 1699.0L1776.9 1700.5L1778.6 1702.9L1780.4 1706.1L1782.1 1710.0L1783.7 1714.7L1785.3 1720.2L1786.7 1726.5L1788.1 1733.6L1789.4 1741.4L1790.6 1749.6L1791.6 1758.3L1792.6 1767.4L1793.5 1777.0L1794.5 1787.4L1795.5 1798.7L1796.5 1810.8L1797.6 1823.2L1798.6 1835.4L1799.6 1847.3L1800.7 1859.2L1801.7 1871.2L1802.7 1883.4L1803.7 1895.9L1804.7 1908.7L1805.7 1921.6L1806.6 1934.6L1807.7 1948.2L1808.7 1962.2L1809.7 1975.7L1810.6 1987.7L1811.3 1997.4L1811.8 2005.3L1812.5 2013.3L1813.3 2022.9L1814.4 2035.0L1815.6 2048.6L1817.0 2062.7L1818.6 2076.0L1820.4 2088.8L1822.5 2101.5L1824.6 2113.6L1826.6 2124.7L1828.6 2134.3L1830.5 2142.8L1832.5 2150.9L1834.7 2159.2L1837.2 2167.9L1839.9 2176.7L1842.7 2185.3L1845.5 2193.8L1848.2 2202.0L1850.9 2210.1L1853.6 2218.0L1856.3 2225.8L1859.0 2233.5L1861.6 2241.0L1864.2 2248.3L1866.9 2255.2L1869.6 2261.9L1872.3 2268.2L1875.0 2274.2L1877.7 2279.6L1880.3 2284.3L1883.0 2288.6L1885.6 2292.3L1888.3 2295.6L1890.9 2298.2L1893.7 2300.3L1896.4 2301.9L1899.1 2303.2L1901.7 2304.2L1904.3 2304.8L1907.0 2305.1L1909.6 2305.2L1912.3 2305.1L1914.9 2304.7L1917.6 2304.1L1920.4 2303.2L1923.6 2302.0L1927.0 2300.3L1930.5 2298.5L1933.8 2296.8L1937.2 2295.1L1940.7 2293.2L1943.8 2291.6L1946.0 2290.4L1946.0 2379.4L1148.5 2379.4Z" fill="url(#gff)"/>
<path d="M1148.5 2264.8L1152.1 2258.9L1157.3 2250.4L1162.9 2240.8L1168.0 2231.6L1172.4 2223.0L1176.5 2214.4L1180.4 2205.7L1184.1 2197.0L1187.7 2188.1L1191.1 2179.1L1194.4 2170.2L1197.5 2161.8L1200.3 2154.1L1203.0 2146.9L1205.6 2139.8L1208.3 2132.4L1211.0 2124.6L1213.7 2116.7L1216.4 2108.6L1219.1 2100.4L1221.8 2091.4L1224.6 2082.0L1227.3 2073.1L1229.6 2065.8L1231.5 2060.7L1233.1 2057.1L1234.5 2054.3L1235.9 2051.7L1237.0 2049.5L1237.9 2047.9L1238.9 2046.3L1240.5 2044.0L1242.8 2040.9L1245.6 2037.3L1248.5 2033.3L1251.0 2029.3L1253.0 2025.2L1254.8 2020.9L1256.3 2016.5L1257.7 2012.0L1258.9 2007.6L1259.9 2003.2L1260.9 1998.5L1261.8 1993.5L1262.8 1988.5L1263.7 1983.5L1264.7 1977.6L1265.7 1969.8L1267.0 1959.5L1268.4 1947.4L1269.9 1934.3L1271.3 1921.2L1272.6 1908.2L1273.8 1894.8L1275.1 1881.2L1276.5 1867.4L1278.1 1853.0L1279.8 1838.0L1281.5 1823.3L1283.2 1809.8L1284.9 1797.3L1286.5 1785.6L1288.2 1774.9L1289.9 1765.6L1291.5 1757.9L1293.1 1751.6L1294.8 1746.3L1296.5 1742.0L1298.3 1738.6L1300.1 1736.2L1302.1 1734.6L1304.6 1733.3L1307.6 1732.5L1311.1 1732.4L1314.9 1732.4L1318.6 1732.4L1322.6 1731.9L1326.8 1731.3L1330.9 1730.9L1334.2 1731.1L1336.7 1732.0L1338.5 1733.4L1340.1 1735.3L1341.6 1737.5L1343.2 1739.9L1344.7 1742.6L1346.2 1745.8L1347.6 1749.6L1348.9 1754.2L1350.3 1759.3L1351.6 1765.0L1352.9 1771.4L1354.2 1778.2L1355.5 1785.4L1356.8 1793.6L1358.2 1803.4L1359.5 1815.1L1360.9 1828.3L1362.3 1842.5L1363.7 1857.2L1365.0 1872.6L1366.3 1889.0L1367.6 1905.5L1369.0 1921.2L1370.3 1936.3L1371.7 1951.2L1373.0 1965.1L1374.2 1977.5L1375.4 1987.7L1376.4 1996.3L1377.4 2004.1L1378.4 2012.0L1379.3 2020.4L1380.3 2028.7L1381.2 2036.6L1382.3 2044.0L1383.4 2050.7L1384.7 2056.7L1386.0 2062.5L1387.6 2068.4L1389.2 2074.3L1390.9 2080.2L1393.0 2086.2L1395.6 2092.7L1399.0 2099.7L1403.0 2107.1L1407.3 2114.6L1411.7 2122.1L1416.2 2129.6L1420.8 2137.2L1425.6 2144.6L1430.6 2151.6L1435.6 2157.9L1440.8 2163.7L1446.2 2169.4L1451.9 2175.2L1458.2 2181.3L1464.9 2187.5L1471.8 2193.6L1478.6 2199.6L1485.6 2205.6L1492.7 2211.6L1499.5 2217.2L1505.5 2222.0L1510.3 2225.7L1514.2 2228.6L1517.8 2230.9L1521.6 2232.8L1525.6 2234.5L1529.6 2235.8L1533.7 2236.6L1537.7 2236.7L1541.8 2235.9L1546.1 2234.3L1550.1 2232.3L1553.8 2230.3L1556.9 2228.2L1559.7 2225.9L1562.2 2223.4L1564.6 2220.7L1566.7 2217.7L1568.5 2214.4L1570.3 2210.9L1572.4 2207.2L1574.8 2203.7L1577.5 2200.1L1580.2 2196.1L1583.0 2191.2L1585.7 2185.2L1588.4 2178.3L1591.1 2171.1L1593.8 2164.4L1596.5 2158.2L1599.2 2152.3L1601.9 2146.5L1604.6 2140.7L1607.2 2134.8L1609.9 2129.1L1612.5 2123.2L1615.2 2117.0L1617.8 2110.4L1620.6 2103.6L1623.3 2096.6L1626.0 2089.5L1628.6 2082.2L1631.2 2074.7L1633.9 2067.2L1636.5 2060.0L1639.3 2053.3L1642.1 2046.9L1644.8 2040.5L1647.3 2033.8L1649.6 2026.5L1651.8 2018.9L1653.7 2011.3L1655.4 2004.4L1656.6 1997.9L1657.5 1991.8L1658.3 1986.2L1659.3 1981.3L1660.5 1978.0L1661.9 1976.0L1663.3 1973.5L1664.8 1969.2L1666.4 1962.0L1668.2 1953.1L1669.9 1943.6L1671.5 1934.6L1672.9 1926.5L1674.2 1918.6L1675.5 1910.8L1676.8 1902.6L1678.1 1894.1L1679.4 1885.3L1680.7 1876.4L1682.1 1867.4L1683.5 1858.1L1684.9 1848.5L1686.3 1839.1L1687.6 1830.3L1688.6 1822.5L1689.5 1815.4L1690.4 1808.4L1691.5 1800.8L1692.7 1792.4L1693.9 1783.4L1695.3 1774.3L1696.8 1765.6L1698.3 1757.0L1700.0 1748.4L1701.8 1740.4L1703.7 1733.6L1705.4 1728.6L1707.1 1724.7L1709.1 1721.6L1711.7 1718.9L1714.9 1716.8L1718.6 1715.4L1722.8 1714.2L1727.8 1712.5L1734.0 1710.2L1741.1 1707.6L1748.3 1705.1L1754.5 1702.9L1759.4 1701.1L1763.7 1699.4L1767.3 1698.3L1770.6 1697.8L1773.2 1698.1L1775.2 1699.0L1776.9 1700.5L1778.6 1702.9L1780.4 1706.1L1782.1 1710.0L1783.7 1714.7L1785.3 1720.2L1786.7 1726.5L1788.1 1733.6L1789.4 1741.4L1790.6 1749.6L1791.6 1758.3L1792.6 1767.4L1793.5 1777.0L1794.5 1787.4L1795.5 1798.7L1796.5 1810.8L1797.6 1823.2L1798.6 1835.4L1799.6 1847.3L1800.7 1859.2L1801.7 1871.2L1802.7 1883.4L1803.7 1895.9L1804.7 1908.7L1805.7 1921.6L1806.6 1934.6L1807.7 1948.2L1808.7 1962.2L1809.7 1975.7L1810.6 1987.7L1811.3 1997.4L1811.8 2005.3L1812.5 2013.3L1813.3 2022.9L1814.4 2035.0L1815.6 2048.6L1817.0 2062.7L1818.6 2076.0L1820.4 2088.8L1822.5 2101.5L1824.6 2113.6L1826.6 2124.7L1828.6 2134.3L1830.5 2142.8L1832.5 2150.9L1834.7 2159.2L1837.2 2167.9L1839.9 2176.7L1842.7 2185.3L1845.5 2193.8L1848.2 2202.0L1850.9 2210.1L1853.6 2218.0L1856.3 2225.8L1859.0 2233.5L1861.6 2241.0L1864.2 2248.3L1866.9 2255.2L1869.6 2261.9L1872.3 2268.2L1875.0 2274.2L1877.7 2279.6L1880.3 2284.3L1883.0 2288.6L1885.6 2292.3L1888.3 2295.6L1890.9 2298.2L1893.7 2300.3L1896.4 2301.9L1899.1 2303.2L1901.7 2304.2L1904.3 2304.8L1907.0 2305.1L1909.6 2305.2L1912.3 2305.1L1914.9 2304.7L1917.6 2304.1L1920.4 2303.2L1923.6 2302.0L1927.0 2300.3L1930.5 2298.5L1933.8 2296.8L1937.2 2295.1L1940.7 2293.2L1943.8 2291.6L1946.0 2290.4" fill="none" stroke="#0a8410" stroke-width="3.1" stroke-dasharray="12.5 16.5" stroke-dashoffset="0"/>
<rect x="1148.5" y="1610.7" width="803.9000000000001" height="768.7" fill="none" stroke="#000" stroke-width="1.1"/>
<path d="M1148.5 2379.4v9.5M1217.5 2379.4v5.5M1286.4 2379.4v9.5M1355.4 2379.4v5.5M1424.4 2379.4v9.5M1493.3 2379.4v5.5M1562.3 2379.4v9.5M1631.2 2379.4v5.5M1700.2 2379.4v9.5M1769.2 2379.4v5.5M1838.1 2379.4v9.5M1907.1 2379.4v5.5M1148.5 2315.4h-11M1148.5 2219.4h-6.2M1148.5 2123.4h-11M1148.5 2027.4h-6.2M1148.5 1931.4h-11M1148.5 1835.4h-6.2M1148.5 1739.4h-11M1148.5 1643.4h-6.2" stroke="#222" stroke-width="1.1" fill="none"/>
<text x="1149.0" y="2435.2" font-size="53.4" font-family="'Liberation Sans', sans-serif" text-anchor="middle" fill="#000" >0</text>
<text x="1286.9" y="2435.2" font-size="53.4" font-family="'Liberation Sans', sans-serif" text-anchor="middle" fill="#000" >60</text>
<text x="1424.9" y="2435.2" font-size="53.4" font-family="'Liberation Sans', sans-serif" text-anchor="middle" fill="#000" >120</text>
<text x="1562.8" y="2435.2" font-size="53.4" font-family="'Liberation Sans', sans-serif" text-anchor="middle" fill="#000" >180</text>
<text x="1700.7" y="2435.2" font-size="53.4" font-family="'Liberation Sans', sans-serif" text-anchor="middle" fill="#000" >240</text>
<text x="1838.6" y="2435.2" font-size="53.4" font-family="'Liberation Sans', sans-serif" text-anchor="middle" fill="#000" >300</text>
<text transform="translate(1131 1753.6) scale(1.06 1)" font-size="52.5" font-family="'Liberation Sans', sans-serif" text-anchor="end" fill="#000" >3.0</text>
<text transform="translate(1131 1945.6) scale(1.06 1)" font-size="52.5" font-family="'Liberation Sans', sans-serif" text-anchor="end" fill="#000" >2.7</text>
<text transform="translate(1131 2137.6) scale(1.06 1)" font-size="52.5" font-family="'Liberation Sans', sans-serif" text-anchor="end" fill="#000" >2.4</text>
<text transform="translate(1131 2329.6) scale(1.06 1)" font-size="52.5" font-family="'Liberation Sans', sans-serif" text-anchor="end" fill="#000" >2.1</text>
<text x="1551.3" y="2487" font-size="54.1" font-family="'Liberation Sans', sans-serif" text-anchor="middle" fill="#000" >Dihedral angle (°)</text>
<g transform="translate(1037.5 2016.5) rotate(-90)">
<text x="0" y="0" font-size="55.3" font-family="'Liberation Sans', sans-serif" text-anchor="middle" fill="#000" >Emission energy (eV)</text>
</g>
<g filter="url(#tsh)">
<text x="10.5" y="68.5" font-size="68.3" font-family="'Liberation Sans', sans-serif" text-anchor="start" fill="#000" >(a)</text>
<text x="1039.2" y="68.6" font-size="68.3" font-family="'Liberation Sans', sans-serif" text-anchor="start" fill="#000" >(b)</text>
<text x="12.2" y="494.4" font-size="68.3" font-family="'Liberation Sans', sans-serif" text-anchor="start" fill="#000" >(c)</text>
<text x="10.2" y="1089.7" font-size="68.3" font-family="'Liberation Sans', sans-serif" text-anchor="start" fill="#000" >(d)</text>
<text x="10.3" y="1644.7" font-size="68.3" font-family="'Liberation Sans', sans-serif" text-anchor="start" fill="#000" >(e)</text>
<text x="985.5" y="1647.8" font-size="68.3" font-family="'Liberation Sans', sans-serif" text-anchor="start" fill="#000" >(f)</text>
</g>
<text transform="translate(46.3 377.4) scale(1 1.04)" font-size="52.5" font-family="'Liberation Sans', sans-serif" text-anchor="start" fill="#000" >LUMO = -2.07 eV</text>
<text transform="translate(526.2 378.2) scale(1 1.04)" font-size="52.5" font-family="'Liberation Sans', sans-serif" text-anchor="start" fill="#000" >HOMO = -5.32 eV</text>
<text transform="translate(1110 376.4) scale(1 1.04)" font-size="52.5" font-family="'Liberation Sans', sans-serif" text-anchor="start" fill="#000" >LUMO = -2.52 eV</text>
<text transform="translate(1568.3 376.4) scale(1 1.04)" font-size="52.5" font-family="'Liberation Sans', sans-serif" text-anchor="start" fill="#000" >HOMO = -6.66 eV</text>
<text transform="translate(134 974.8) scale(1 1.04)" font-size="52.5" font-family="'Liberation Sans', sans-serif" text-anchor="start" fill="#000" xml:space="preserve">S<tspan font-size="34" dx="0.5" dy="12.5">1</tspan><tspan dx="0" dy="-12.5"> = 2.69 eV  f = 0.4785</tspan></text>
<text transform="translate(781 974.8) scale(1 1.04)" font-size="52.5" font-family="'Liberation Sans', sans-serif" text-anchor="start" fill="#000" xml:space="preserve">T<tspan font-size="34" dx="0.5" dy="12.5">1</tspan><tspan dx="0" dy="-12.5"> = 1.94 eV</tspan></text>
<text transform="translate(179 1551.5) scale(1 1.04)" font-size="52.5" font-family="'Liberation Sans', sans-serif" text-anchor="start" fill="#000" xml:space="preserve">S<tspan font-size="34" dx="0.5" dy="12.5">1</tspan><tspan dx="0" dy="-12.5"> = 3.18 eV  f = 0.82</tspan></text>
<text transform="translate(798 1551.5) scale(1 1.04)" font-size="52.5" font-family="'Liberation Sans', sans-serif" text-anchor="start" fill="#000" xml:space="preserve">T<tspan font-size="34" dx="0.5" dy="12.5">1</tspan><tspan dx="0" dy="-12.5"> = 2.30 eV</tspan></text>
<g fill="none" stroke="#2F5597" stroke-width="4.1" stroke-dasharray="15.1 11.2 3.8 11.27">
<path d="M0 2.1H2000" stroke-dashoffset="5.27"/>
<path d="M0 415.6H2000" stroke-dashoffset="40.37"/>
<path d="M0 1574.8H2000" stroke-dashoffset="29.27"/>
<path d="M0 2506.1H2000" stroke-dashoffset="15.57"/>
<path d="M2.05 0V423" stroke-dashoffset="5.97"/>
<path d="M2.05 424V1500" stroke-dashoffset="22.17"/>
<path d="M2.05 1500V1570" stroke-dashoffset="28.27"/>
<path d="M2.05 1572V2505.5" stroke-dashoffset="32.09" stroke-dasharray="15.1 11.2 3.8 11.19"/>
<path d="M1997.85 0V412" stroke-dashoffset="16.77"/>
<path d="M1997.85 403V1500" stroke-dashoffset="41.24"/>
<path d="M1997.85 1500V1571" stroke-dashoffset="27.37"/>
<path d="M1997.85 1568V2493" stroke-dashoffset="0.00" stroke-dasharray="15.1 11.2 3.8 11.30"/>
</g>
</svg>
</body></html>
